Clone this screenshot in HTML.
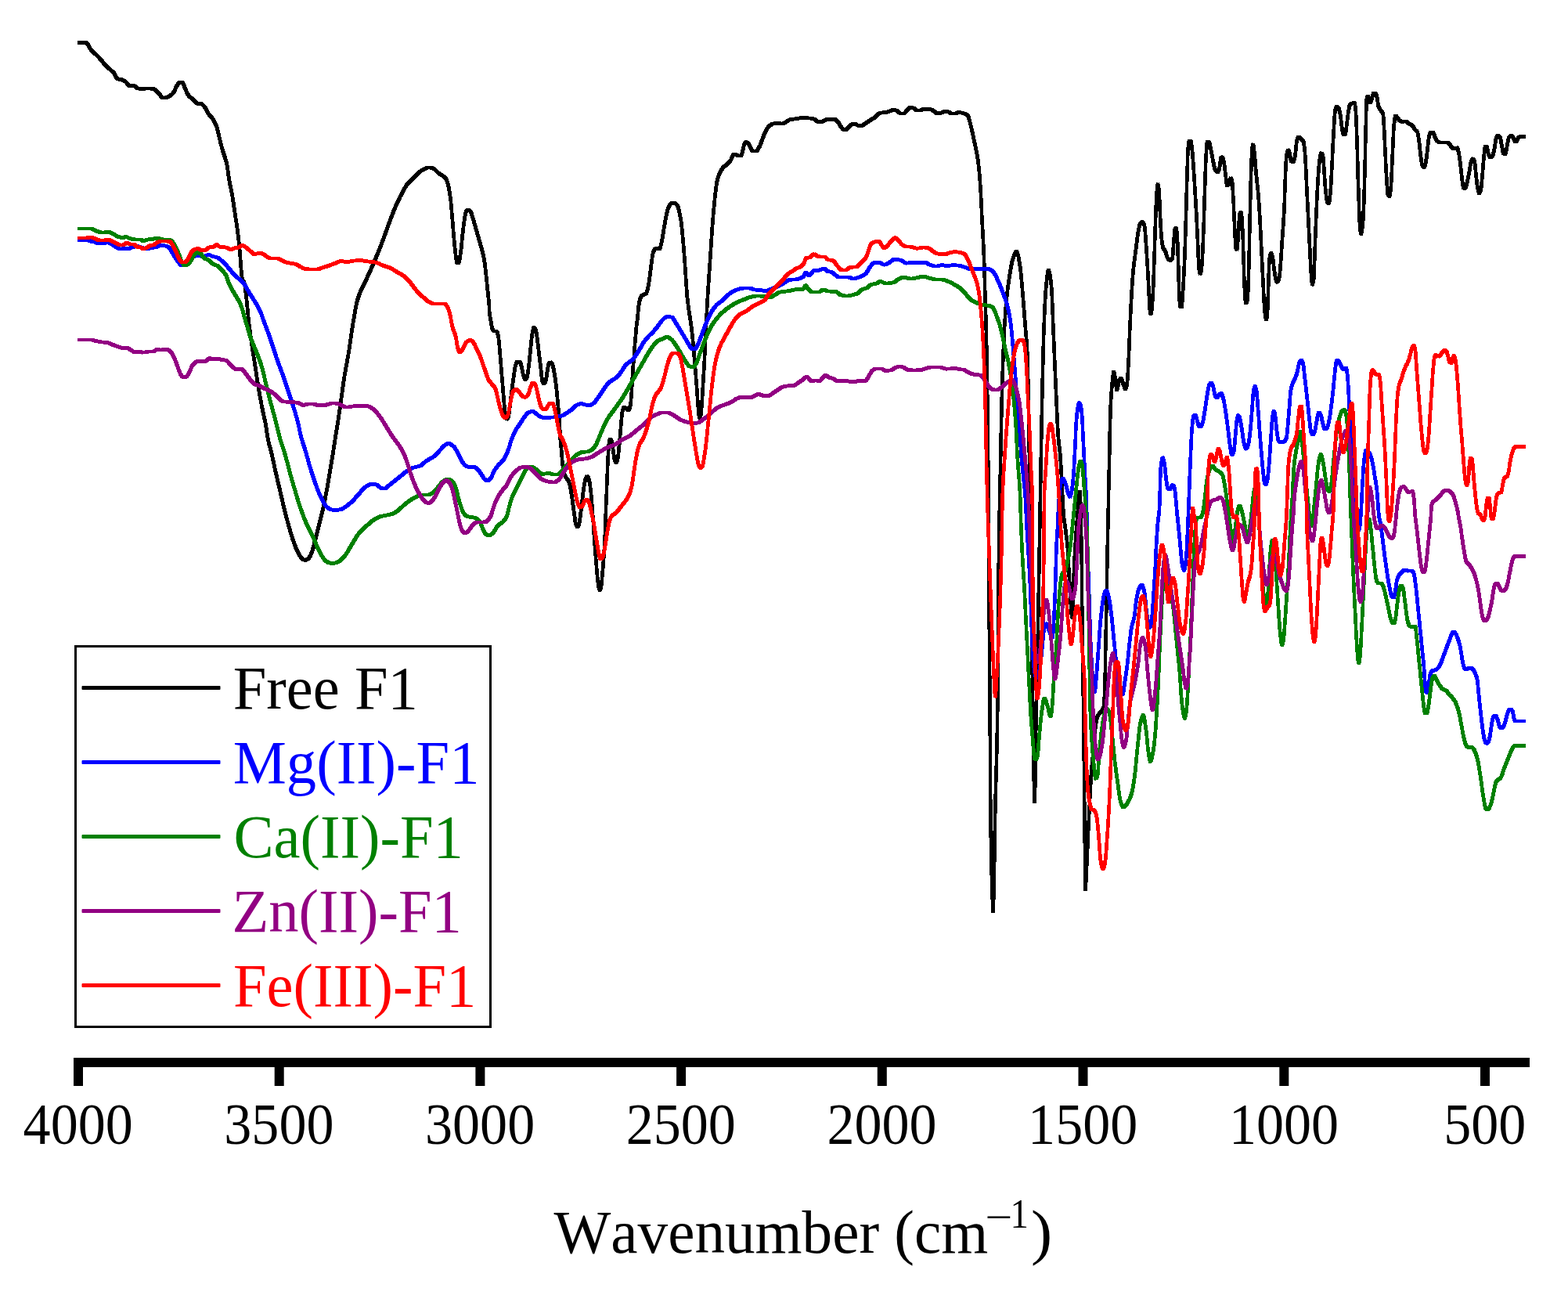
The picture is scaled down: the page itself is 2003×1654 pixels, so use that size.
<!DOCTYPE html>
<html lang="en">
<head>
<meta charset="utf-8">
<title>FTIR spectra</title>
<style>
html,body{margin:0;padding:0;background:#fff;}
body{width:2003px;height:1654px;overflow:hidden;}
svg{display:block;font-family:"Liberation Serif","Times New Roman",serif;font-kerning:none;font-variant-ligatures:none;}
</style>
</head>
<body>
<svg xmlns="http://www.w3.org/2000/svg" width="2003" height="1654" viewBox="0 0 2003 1654">
<rect width="2003" height="1654" fill="#fff"/>
<g id="curves" transform="scale(1 1.0)">
<defs><polyline id="c-black" points="100.0,54.36 101.0,54.36 102.0,54.36 103.0,54.36 104.0,54.36 105.0,54.36 106.0,54.36 107.0,54.36 108.0,54.36 109.0,54.36 110.0,54.36 110.0,54.36 111.0,54.97 112.0,56.47 113.0,58.43 114.0,60.41 115.0,61.96 115.0,61.98 116.0,63.17 117.0,64.27 118.0,65.30 119.0,66.28 120.0,67.22 121.0,68.14 122.0,69.05 123.0,69.98 124.0,70.93 125.0,71.92 125.9,72.93 126.0,72.98 127.0,74.10 128.0,75.28 129.0,76.49 130.0,77.72 131.0,78.94 132.0,80.14 133.0,81.29 133.9,82.32 134.0,82.37 135.0,83.40 136.0,84.37 137.0,85.32 138.0,86.24 139.0,87.16 140.0,88.08 141.0,89.01 141.9,89.91 142.0,89.97 143.0,90.89 144.0,91.78 145.0,92.77 145.9,93.90 146.0,94.00 147.0,96.10 148.0,98.54 148.9,99.90 149.0,99.94 150.0,100.44 151.0,100.80 152.0,101.08 153.0,101.30 154.0,101.49 155.0,101.71 156.0,101.97 156.9,102.29 157.0,102.33 158.0,102.78 159.0,103.32 159.9,103.89 160.0,103.95 161.0,104.90 162.0,106.16 163.0,107.51 164.0,108.73 165.0,109.59 165.9,109.88 166.0,109.88 167.0,109.83 168.0,109.73 169.0,109.61 170.0,109.51 170.9,109.48 171.0,109.48 172.0,109.87 173.0,110.69 174.0,111.66 175.0,112.49 175.9,112.88 176.0,112.90 177.0,113.06 178.0,113.20 179.0,113.32 180.0,113.41 181.0,113.46 181.8,113.47 182.0,113.47 183.0,113.42 184.0,113.30 185.0,113.16 186.0,113.01 187.0,112.91 187.8,112.88 188.0,112.88 189.0,112.89 190.0,112.94 191.0,113.01 192.0,113.10 193.0,113.22 194.0,113.36 195.0,113.52 196.0,113.70 196.8,113.87 197.0,113.91 198.0,114.40 199.0,115.23 200.0,116.28 201.0,117.44 202.0,118.59 202.8,119.47 203.0,119.62 204.0,120.74 205.0,122.01 206.0,123.26 207.0,124.33 208.0,125.05 208.8,125.26 209.0,125.26 210.0,125.18 211.0,124.99 212.0,124.71 213.0,124.35 214.0,123.92 215.0,123.43 216.0,122.90 217.0,122.34 217.8,121.86 218.0,121.76 219.0,121.01 220.0,120.05 221.0,118.91 221.8,117.86 222.0,117.61 223.0,115.78 224.0,113.55 225.0,111.35 225.8,109.88 226.0,109.58 227.0,107.91 228.0,106.34 229.0,105.22 229.8,104.89 230.0,104.89 231.0,104.89 232.0,104.89 232.8,104.89 233.0,104.93 234.0,106.30 235.0,108.91 236.0,111.87 236.8,113.86 237.0,114.31 238.0,116.55 239.0,118.75 240.0,120.68 240.8,121.86 241.0,122.12 242.0,123.21 243.0,124.12 244.0,124.92 245.0,125.66 246.0,126.39 247.0,127.17 247.8,127.85 248.0,128.07 249.0,129.27 250.0,130.59 251.0,131.69 252.0,132.23 252.1,132.25 253.0,132.25 254.0,132.25 255.0,132.25 255.7,132.25 256.0,132.26 257.0,132.53 258.0,133.12 259.0,133.94 260.0,134.93 261.0,136.01 261.7,136.84 262.0,137.12 263.0,138.66 264.0,140.59 265.0,142.66 266.0,144.60 266.7,145.83 267.0,146.18 268.0,147.42 269.0,148.52 270.0,149.60 271.0,150.79 271.7,151.81 272.0,152.21 273.0,153.80 274.0,155.58 275.0,157.59 276.0,159.89 276.7,161.79 277.0,162.59 278.0,166.33 279.0,170.69 279.7,173.78 280.0,174.87 281.0,178.96 282.0,183.05 283.0,187.03 283.7,189.74 284.0,190.74 285.0,194.00 286.0,196.94 287.0,199.86 288.0,203.01 289.0,206.66 289.7,209.75 290.0,211.17 290.5,214.22 291.0,217.72 291.5,221.42 292.0,225.07 292.7,229.69 293.0,231.32 294.0,236.38 295.0,241.04 296.0,245.86 296.7,249.64 297.0,251.42 297.5,254.58 298.0,257.92 298.5,261.37 299.0,264.86 299.7,269.64 300.0,271.62 300.5,274.88 301.0,278.11 301.5,281.38 302.0,284.72 302.7,289.64 303.0,291.83 303.5,295.54 304.0,299.36 304.5,303.32 305.0,307.46 305.3,310.50 305.7,313.56 306.0,316.69 306.3,320.55 306.6,324.95 307.0,329.48 307.3,334.11 307.6,338.85 308.0,343.26 308.5,349.26 309.0,354.00 309.7,357.52 310.0,358.05 311.0,359.05 311.6,359.99 312.0,360.89 313.0,366.43 313.5,370.23 314.0,374.36 314.6,379.99 315.0,382.72 315.5,387.55 316.0,392.81 316.5,398.23 317.0,403.51 317.3,406.79 317.6,409.89 318.0,412.70 318.5,416.78 319.0,420.70 319.5,424.47 320.0,428.14 320.5,431.71 321.0,435.23 321.6,439.90 322.0,442.17 322.5,445.53 323.0,448.82 323.5,452.04 324.0,455.23 324.5,458.40 325.0,461.58 325.6,465.83 326.0,468.05 326.5,471.36 327.0,474.68 327.5,478.00 328.0,481.31 328.5,484.56 329.0,487.75 329.6,491.83 330.0,493.87 331.0,499.76 332.0,505.47 333.0,511.01 334.0,516.37 334.6,519.77 335.0,521.54 336.0,526.29 337.0,530.80 338.0,535.36 339.0,540.27 339.6,543.72 340.0,545.91 340.5,549.31 341.0,552.89 341.5,556.33 342.0,559.36 342.1,560.00 343.0,564.11 344.0,568.12 345.0,571.79 346.0,575.50 346.6,578.12 347.0,579.61 348.0,584.00 349.0,588.52 350.0,593.11 351.0,597.71 352.0,602.24 352.7,605.34 353.0,606.65 354.0,610.96 355.0,615.21 356.0,619.43 357.0,623.64 358.0,627.86 358.7,631.05 359.0,632.12 360.0,636.47 361.0,640.85 362.0,645.21 363.0,649.47 364.0,653.56 364.0,653.68 365.0,657.49 366.0,661.30 367.0,665.02 368.0,668.65 369.0,672.21 369.3,673.33 370.0,675.72 371.0,679.20 372.0,682.59 373.0,685.83 373.8,688.47 374.0,688.88 375.0,691.78 376.0,694.55 377.0,697.18 378.0,699.64 378.4,700.55 379.0,701.93 380.0,704.15 381.0,706.23 382.0,708.11 382.9,709.63 383.0,709.73 384.0,711.20 385.0,712.55 386.0,713.63 386.7,714.15 387.0,714.33 388.0,714.88 389.0,715.27 389.7,715.36 390.0,715.35 391.0,715.15 392.0,714.73 393.0,714.17 393.5,713.85 394.0,713.46 395.0,712.25 396.0,710.61 397.0,708.69 397.2,708.12 398.0,706.41 399.0,703.44 400.0,700.09 400.3,699.03 401.0,696.54 402.0,692.57 403.0,688.40 404.0,684.27 404.1,683.91 405.0,680.27 406.0,676.27 407.0,672.27 408.0,668.27 408.6,665.79 409.0,664.28 410.0,660.39 411.0,656.47 412.0,652.38 412.4,650.67 413.0,648.00 414.0,643.35 415.0,638.49 416.0,633.44 416.1,632.52 417.0,628.21 418.0,622.72 419.0,617.06 419.2,615.91 420.0,611.22 420.5,608.22 421.0,605.19 421.5,602.14 422.0,599.11 422.2,597.79 423.0,593.14 424.0,587.21 424.5,584.21 425.0,581.16 425.2,579.67 426.0,574.82 426.5,571.56 427.0,568.26 427.5,564.97 428.0,561.71 428.2,559.98 429.0,555.38 429.5,552.28 430.0,549.18 430.5,546.08 431.0,542.94 431.5,539.75 432.0,536.50 432.5,533.23 433.0,529.91 433.5,526.57 434.0,523.18 434.5,519.75 435.0,516.23 435.5,512.61 436.0,508.90 436.5,505.16 437.0,501.41 437.5,497.69 438.0,494.03 438.5,490.46 439.0,487.03 439.5,483.82 440.0,480.65 441.0,474.80 442.0,469.28 443.0,463.90 444.0,458.46 445.0,452.76 445.4,449.88 446.0,446.61 446.5,443.34 447.0,439.96 447.5,436.51 448.0,433.02 448.5,429.51 449.0,426.01 449.5,422.56 450.0,419.18 450.5,415.90 451.0,412.76 451.4,409.94 452.0,406.84 453.0,401.02 454.0,395.42 455.0,390.25 456.0,385.76 456.4,383.95 457.0,382.09 458.0,378.90 459.0,376.06 460.0,373.47 461.0,371.06 461.4,369.98 462.0,368.76 463.0,366.69 464.0,364.75 465.0,362.87 466.0,360.92 466.4,360.00 467.0,358.85 468.0,356.73 469.0,354.60 470.0,352.44 471.0,350.27 472.0,348.07 473.0,345.86 474.0,343.62 475.0,341.36 476.0,339.09 477.0,336.79 478.0,334.47 479.0,332.13 480.0,329.77 480.0,329.70 481.0,327.39 482.0,324.96 483.0,322.51 484.0,320.02 485.0,317.51 486.0,314.96 487.0,312.38 488.0,309.78 488.0,309.73 489.0,307.12 490.0,304.41 491.0,301.65 492.0,298.87 493.0,296.07 494.0,293.28 495.0,290.51 496.0,287.78 496.0,287.75 497.0,285.06 498.0,282.33 499.0,279.62 500.0,276.94 501.0,274.32 502.0,271.78 503.0,269.31 504.0,266.90 505.0,264.53 506.0,262.22 507.0,259.97 508.0,257.80 508.0,257.78 509.0,255.65 510.0,253.57 511.0,251.53 512.0,249.56 513.0,247.64 514.0,245.82 514.0,245.79 515.0,243.96 516.0,242.15 517.0,240.38 518.0,238.71 519.0,237.17 519.9,235.84 520.0,235.80 521.0,234.58 522.0,233.44 523.0,232.37 524.0,231.36 525.0,230.40 526.0,229.47 527.0,228.56 528.0,227.66 529.0,226.75 529.9,225.85 530.0,225.81 531.0,224.84 532.0,223.83 533.0,222.80 534.0,221.78 535.0,220.78 536.0,219.82 537.0,218.93 538.0,218.12 539.0,217.42 539.9,216.87 540.0,216.84 541.0,216.31 542.0,215.78 543.0,215.28 544.0,214.82 545.0,214.43 546.0,214.13 547.0,213.94 547.9,213.87 548.0,213.87 549.0,213.94 550.0,214.12 551.0,214.39 552.0,214.72 553.0,215.10 553.9,215.47 554.0,215.51 555.0,216.11 556.0,216.97 557.0,217.99 558.0,219.06 559.0,220.07 559.9,220.86 560.0,220.93 561.0,221.64 562.0,222.28 563.0,222.88 564.0,223.50 565.0,224.17 565.9,224.86 566.0,224.94 567.0,225.73 568.0,226.59 569.0,227.64 569.9,228.86 570.0,229.02 571.0,231.25 572.0,234.42 572.9,237.84 573.0,238.29 574.0,243.44 574.5,246.60 575.0,250.11 575.5,253.84 576.0,258.39 576.5,263.65 577.0,269.40 577.4,274.61 577.9,279.74 578.0,281.12 578.3,285.06 578.6,289.25 579.0,293.35 579.4,298.70 579.9,303.74 580.0,305.05 580.5,310.54 581.0,315.82 581.4,320.07 581.9,323.73 582.0,324.65 582.5,328.69 583.0,332.43 583.8,335.69 584.0,335.69 585.0,335.69 585.8,335.69 586.0,335.64 587.0,332.48 587.5,329.53 588.0,326.06 588.4,322.90 588.8,319.69 589.0,318.71 589.5,314.09 590.0,308.69 590.4,304.00 590.8,299.78 591.0,298.54 591.5,294.23 592.0,290.15 592.4,286.85 592.8,283.77 593.0,282.80 593.5,279.16 594.0,275.71 594.8,271.78 595.0,271.47 596.0,269.49 597.0,268.18 597.8,267.79 598.0,267.80 599.0,268.16 600.0,268.94 600.8,269.79 601.0,269.97 602.0,272.07 603.0,275.11 603.8,277.77 604.0,278.25 605.0,281.54 606.0,285.10 607.0,288.75 607.8,291.76 608.0,292.32 609.0,295.82 610.0,299.32 611.0,302.82 611.8,305.73 612.0,306.32 613.0,309.70 614.0,313.04 615.0,316.55 615.8,319.73 616.0,320.41 617.0,324.54 618.0,329.18 618.8,333.68 619.0,334.81 619.5,338.39 620.0,342.47 620.4,346.04 620.8,349.68 621.0,351.32 621.5,356.15 622.0,361.26 622.4,365.51 622.8,369.68 623.0,371.42 623.5,375.90 624.0,380.40 624.4,384.61 624.8,389.57 625.0,393.07 625.2,397.18 625.3,400.00 626.0,404.61 626.9,409.06 627.0,409.81 627.5,413.21 628.0,416.40 628.4,418.13 629.0,419.90 630.0,422.03 630.6,422.67 631.0,422.79 632.0,422.98 633.0,423.09 634.0,423.28 634.4,423.43 635.0,424.10 636.0,427.12 636.7,430.20 637.0,432.14 637.5,437.07 638.0,442.90 638.2,445.38 638.6,449.83 639.0,454.55 639.3,459.12 639.7,463.51 640.0,466.75 640.3,470.71 640.6,474.79 641.0,478.75 641.2,481.63 641.6,486.19 642.0,490.75 642.3,495.19 642.7,499.75 643.0,502.81 643.3,506.94 643.6,511.16 644.0,515.05 644.2,517.87 644.6,521.82 645.0,525.72 645.7,531.47 646.0,532.36 647.0,535.08 647.2,535.26 648.0,534.79 649.0,532.90 649.5,531.49 650.0,529.55 650.5,526.08 651.0,521.84 651.4,518.22 651.8,514.85 652.0,513.45 652.5,509.47 653.0,505.40 653.5,501.33 654.0,497.38 654.1,496.69 654.5,493.17 655.0,489.75 655.5,486.04 656.0,482.48 656.3,480.11 657.0,475.62 657.5,472.18 658.0,469.16 658.6,466.50 659.0,465.37 660.0,462.87 660.9,461.96 661.0,461.96 662.0,461.96 663.0,461.96 663.9,461.96 664.0,461.98 665.0,463.89 666.0,467.40 666.1,468.02 667.0,471.67 668.0,476.80 668.4,478.58 669.0,480.58 670.0,483.75 670.7,484.63 671.0,484.59 672.0,483.80 673.0,482.36 673.0,482.33 674.0,478.14 674.5,474.85 675.0,471.26 675.2,469.55 675.6,466.61 676.0,463.23 676.5,458.36 677.0,453.33 677.5,448.37 678.0,443.49 678.5,438.22 679.0,433.21 679.4,429.83 679.8,427.19 680.0,425.95 681.0,420.68 682.0,418.14 682.0,418.14 683.0,418.79 684.0,420.50 684.3,421.16 685.0,423.86 685.5,426.94 686.0,430.52 686.5,434.77 687.0,437.99 687.5,442.31 688.0,446.88 688.4,450.80 688.8,454.44 689.0,455.68 689.5,459.68 690.0,463.59 690.5,467.52 691.0,471.59 691.1,472.52 691.5,477.03 692.0,481.76 692.6,486.13 693.0,487.19 694.0,489.26 694.9,489.92 695.0,489.91 696.0,488.82 697.0,486.55 697.1,486.14 698.0,482.11 698.5,478.66 699.0,475.15 699.4,472.57 700.0,469.13 700.9,464.98 701.0,464.88 702.0,463.44 703.0,462.74 703.2,462.72 704.0,463.07 705.0,464.26 705.4,464.99 706.0,466.26 707.0,470.38 707.7,474.07 708.0,475.44 708.5,478.40 709.0,481.73 709.5,485.34 710.0,489.14 710.5,493.25 711.0,497.78 711.5,502.82 712.0,507.85 712.5,513.47 713.0,519.10 713.0,519.43 713.5,524.32 714.0,529.28 714.2,532.40 714.5,536.05 714.7,540.01 715.0,544.77 715.3,551.05 715.5,555.75 715.7,560.05 716.0,563.92 716.5,568.70 717.0,573.01 717.2,575.13 717.6,580.05 718.0,585.29 718.3,589.79 718.7,593.25 719.0,595.30 719.5,598.58 720.0,601.37 721.0,605.35 721.0,605.38 722.0,607.87 723.0,609.71 724.0,611.37 724.0,611.39 725.0,612.79 726.0,614.05 727.0,615.85 727.0,615.92 728.0,619.50 729.0,624.84 729.3,626.51 730.0,630.73 730.5,634.10 731.0,637.61 731.5,641.64 732.0,644.71 732.5,648.39 733.0,652.12 733.4,655.17 733.8,658.22 734.0,659.50 734.5,663.63 735.0,667.28 735.3,668.80 736.0,670.51 737.0,672.26 737.6,672.59 738.0,672.45 739.0,671.00 739.9,668.81 740.0,668.40 740.5,665.43 741.0,661.37 741.4,658.23 742.0,653.54 742.5,649.51 743.0,645.43 743.6,640.07 744.0,637.26 744.5,632.94 745.0,628.67 745.4,625.05 745.9,621.98 746.0,621.51 747.0,615.89 748.0,611.85 748.2,611.39 749.0,609.79 750.0,608.69 750.1,608.66 751.0,609.36 752.0,611.45 752.2,612.14 753.0,615.15 753.5,618.21 754.0,621.74 754.2,623.51 754.6,626.67 755.0,630.39 755.3,634.36 755.7,638.62 756.0,641.55 756.3,645.67 756.6,650.15 757.0,654.65 757.2,658.26 757.6,663.62 758.0,669.25 758.4,675.25 758.7,680.91 759.0,684.23 759.3,688.93 759.6,693.70 760.0,698.25 760.2,702.05 760.6,706.90 761.0,711.70 761.4,716.76 761.8,721.69 762.0,724.18 762.5,729.99 763.0,735.38 763.3,738.30 763.6,741.66 764.0,744.99 764.8,750.41 765.0,751.01 766.0,753.26 766.3,753.45 767.0,752.53 767.8,749.66 768.0,748.86 768.5,744.72 769.0,739.20 769.3,735.30 769.6,731.83 770.0,728.07 770.4,722.84 770.8,717.18 771.0,715.25 771.3,710.57 771.6,705.43 772.0,699.94 772.2,696.51 772.3,693.03 772.5,688.39 772.8,683.07 773.0,677.37 773.2,671.59 773.4,665.78 773.6,660.98 773.8,656.21 774.0,651.47 774.2,646.24 774.4,640.77 774.6,635.53 774.8,631.03 775.0,626.53 775.2,621.28 775.4,615.79 775.6,610.53 775.8,605.28 776.0,601.37 776.1,596.80 776.3,592.71 776.5,588.97 776.7,584.12 777.0,579.44 777.3,573.85 777.6,569.22 778.0,566.33 778.0,566.27 779.0,561.75 779.5,560.96 780.0,561.16 781.0,562.73 781.8,564.73 782.0,565.54 782.5,568.85 783.0,572.98 783.3,575.29 784.0,580.84 784.8,585.88 785.0,586.48 786.0,589.19 787.0,590.42 787.0,590.43 788.0,589.20 789.0,585.83 789.3,584.38 790.0,579.66 790.4,575.26 790.8,570.78 791.0,569.37 791.5,564.05 792.0,558.42 792.3,554.17 792.7,550.31 793.0,546.36 793.4,540.85 793.9,536.05 794.0,534.88 794.5,529.97 795.0,525.86 795.4,523.94 796.0,522.33 797.0,520.53 797.6,520.15 798.0,520.21 799.0,520.86 800.0,521.83 800.6,522.41 801.0,522.66 802.0,523.52 802.9,523.93 803.0,523.93 804.0,522.39 805.0,518.82 805.2,517.87 805.6,515.39 806.0,511.64 806.3,507.32 806.7,502.76 807.0,498.69 807.2,494.12 807.5,489.15 807.7,484.14 808.0,479.45 808.2,475.57 808.6,470.54 809.0,466.09 809.3,461.94 809.7,457.45 810.0,454.28 810.3,449.96 810.6,445.45 811.0,441.13 811.2,437.82 811.6,433.16 812.0,428.51 812.4,423.84 812.7,419.69 813.0,417.46 813.5,413.21 814.0,409.33 814.5,405.26 815.0,400.45 815.0,400.02 815.3,396.52 815.5,393.58 816.0,390.16 817.0,384.43 818.0,380.75 818.5,379.63 819.0,378.91 820.0,377.78 821.0,376.99 821.5,376.63 822.0,376.34 823.0,375.93 824.0,375.57 825.0,375.04 825.5,374.63 826.0,373.87 827.0,370.68 828.0,366.14 828.5,363.64 829.0,360.83 829.5,357.34 830.0,353.53 830.5,349.70 831.0,345.75 831.5,341.55 832.0,337.43 832.5,333.70 833.0,330.11 833.5,326.56 834.0,323.58 834.5,321.71 835.0,320.62 836.0,318.86 837.0,317.85 837.5,317.72 838.0,317.72 839.0,317.72 840.0,317.72 841.0,317.72 842.0,317.72 842.5,317.72 843.0,317.25 844.0,314.27 845.0,309.88 845.5,307.74 846.0,305.21 846.5,302.30 847.0,299.12 847.5,295.84 848.0,292.61 848.5,289.75 849.0,286.77 850.0,281.06 851.0,275.87 851.4,273.80 852.0,271.64 853.0,267.87 854.0,264.84 854.4,263.80 855.0,262.80 856.0,261.11 857.0,260.01 857.4,259.81 858.0,259.71 859.0,259.56 860.0,259.46 861.0,259.41 861.4,259.41 862.0,259.49 863.0,260.01 864.0,260.94 865.0,262.17 865.4,262.80 866.0,263.91 867.0,267.30 868.0,271.71 868.4,273.80 869.0,276.54 869.5,279.38 870.0,282.59 870.4,285.73 871.0,290.50 871.5,295.50 872.0,300.89 872.4,305.72 872.7,308.81 873.0,311.97 873.3,315.81 873.6,319.89 874.0,324.00 874.4,329.72 874.7,333.61 875.0,337.75 875.3,342.83 875.6,348.16 876.0,353.26 876.2,356.56 876.4,359.72 876.7,363.71 877.0,367.72 877.3,372.17 877.6,376.40 877.9,379.97 878.0,380.27 878.5,384.88 879.0,388.89 879.5,392.51 879.9,395.98 880.0,396.19 880.5,399.66 881.0,402.87 881.5,405.99 882.0,409.16 882.5,412.44 882.9,415.98 883.0,416.21 883.5,420.28 884.0,424.64 884.5,429.27 885.0,434.15 885.5,439.89 886.0,444.77 886.3,448.69 886.6,452.88 887.0,457.00 887.2,460.48 887.5,463.89 888.0,469.11 888.5,474.97 889.0,480.92 889.2,484.36 889.5,487.89 890.0,493.78 890.3,498.39 890.6,503.18 891.0,507.74 891.1,509.76 891.4,513.72 891.7,518.05 892.0,522.05 892.5,527.77 893.0,530.56 893.9,533.77 894.0,533.76 895.0,530.79 895.5,527.76 896.0,523.54 896.3,519.34 896.6,514.51 896.9,509.87 897.0,509.01 897.3,504.00 897.6,498.52 898.0,493.00 898.2,488.43 898.5,483.88 898.7,480.05 899.0,476.23 899.3,471.01 899.6,465.48 899.9,459.88 900.0,458.77 900.2,453.98 900.5,449.02 900.7,443.94 901.0,438.78 901.1,435.88 901.3,431.44 901.5,426.65 901.8,421.81 902.0,417.23 902.2,413.18 902.3,409.48 902.5,405.29 902.8,401.14 903.0,397.06 903.3,391.00 903.6,385.19 903.9,379.66 904.0,379.00 904.3,373.68 904.6,368.50 905.0,363.64 905.3,359.01 905.6,354.38 905.9,349.66 906.0,349.06 906.3,344.11 906.6,339.01 907.0,334.06 907.3,329.26 907.6,324.46 907.9,319.66 908.0,319.06 908.3,314.01 908.6,308.73 909.0,303.62 909.3,298.76 909.6,294.08 909.9,289.67 910.0,289.13 910.3,284.84 910.6,280.58 911.0,276.59 911.4,271.13 911.9,265.79 912.0,265.24 912.5,259.83 913.0,254.61 913.4,250.02 913.9,245.79 914.0,245.38 914.5,241.32 915.0,237.53 915.9,231.80 916.0,231.57 917.0,227.47 918.0,224.22 918.9,221.84 919.0,221.70 920.0,219.64 921.0,217.85 922.0,216.29 923.0,214.95 923.9,213.85 924.0,213.77 925.0,212.79 926.0,211.96 927.0,211.23 928.0,210.50 929.0,209.71 929.9,208.85 930.0,208.78 931.0,207.75 932.0,206.62 933.0,205.31 933.9,203.86 934.0,203.71 935.0,200.96 935.9,198.86 936.0,198.78 937.0,197.79 938.0,197.10 938.9,196.87 939.0,196.87 940.0,197.23 941.0,197.94 942.0,198.61 942.9,198.87 943.0,198.87 944.0,198.87 945.0,198.87 946.0,198.87 946.9,198.87 947.0,198.83 948.0,195.86 948.9,191.86 949.0,191.48 950.0,186.94 950.9,183.90 951.0,183.69 952.0,182.09 952.9,181.49 953.0,181.50 954.0,181.73 955.0,182.26 955.9,182.89 956.0,182.99 957.0,184.68 958.0,187.07 958.9,188.88 959.0,189.07 960.0,190.84 961.0,192.34 961.9,192.88 962.0,192.88 963.0,192.88 964.0,192.88 965.0,192.88 965.8,192.88 966.0,192.87 967.0,192.29 968.0,191.02 969.0,189.37 969.8,187.88 970.0,187.65 971.0,185.53 972.0,182.93 973.0,180.17 973.8,177.90 974.0,177.54 975.0,174.90 976.0,172.21 977.0,169.72 977.8,167.92 978.0,167.64 979.0,165.85 980.0,164.25 981.0,162.87 981.8,161.92 982.0,161.77 983.0,160.82 984.0,159.95 985.0,159.20 986.0,158.63 986.8,158.33 987.0,158.29 988.0,158.04 989.0,157.83 990.0,157.66 991.0,157.56 991.8,157.53 992.0,157.53 993.0,157.55 994.0,157.60 995.0,157.67 996.0,157.74 997.0,157.81 998.0,157.88 999.0,157.92 999.8,157.93 1000.0,157.92 1001.0,157.64 1002.0,157.09 1003.0,156.43 1003.8,155.93 1004.0,155.83 1005.0,155.19 1006.0,154.48 1007.0,153.79 1008.0,153.23 1008.8,152.93 1009.0,152.89 1010.0,152.65 1011.0,152.45 1012.0,152.29 1013.0,152.14 1014.0,152.01 1015.0,151.89 1016.0,151.77 1017.0,151.64 1017.8,151.54 1018.0,151.51 1019.0,151.36 1020.0,151.19 1021.0,151.03 1022.0,150.87 1023.0,150.73 1024.0,150.62 1025.0,150.56 1025.8,150.54 1026.0,150.54 1027.0,150.55 1028.0,150.58 1029.0,150.62 1030.0,150.67 1031.0,150.73 1032.0,150.80 1033.0,150.88 1033.7,150.94 1034.0,150.96 1035.0,151.05 1036.0,151.18 1037.0,151.33 1038.0,151.52 1039.0,151.74 1039.7,151.94 1040.0,152.02 1041.0,152.65 1042.0,153.55 1043.0,154.50 1044.0,155.24 1044.7,155.53 1045.0,155.57 1046.0,155.72 1047.0,155.84 1048.0,155.91 1048.7,155.93 1049.0,155.92 1050.0,155.68 1051.0,155.23 1052.0,154.70 1052.7,154.33 1053.0,154.21 1054.0,153.60 1055.0,152.95 1056.0,152.47 1056.7,152.34 1057.0,152.34 1058.0,152.34 1059.0,152.34 1060.0,152.34 1061.0,152.34 1062.0,152.34 1063.0,152.34 1064.0,152.34 1065.0,152.34 1065.7,152.34 1066.0,152.36 1067.0,152.71 1068.0,153.40 1069.0,154.28 1069.7,154.94 1070.0,155.22 1071.0,156.56 1072.0,158.22 1073.0,159.89 1073.7,160.92 1074.0,161.32 1075.0,162.82 1076.0,164.27 1077.0,165.27 1077.7,165.52 1078.0,165.52 1079.0,165.52 1080.0,165.52 1080.7,165.52 1081.0,165.48 1082.0,164.87 1083.0,163.80 1084.0,162.62 1084.7,161.92 1085.0,161.64 1086.0,160.59 1087.0,159.54 1088.0,158.76 1088.7,158.53 1089.0,158.49 1090.0,158.40 1091.0,158.34 1091.7,158.33 1092.0,158.35 1093.0,158.67 1094.0,159.22 1095.0,159.80 1096.0,160.22 1096.7,160.32 1097.0,160.32 1098.0,160.32 1099.0,160.32 1100.0,160.32 1100.6,160.32 1101.0,160.30 1102.0,159.99 1103.0,159.42 1104.0,158.70 1105.0,157.97 1105.6,157.53 1106.0,157.32 1107.0,156.68 1108.0,156.00 1109.0,155.31 1110.0,154.62 1111.0,153.95 1111.6,153.54 1112.0,153.32 1113.0,152.74 1114.0,152.18 1115.0,151.61 1116.0,150.99 1116.6,150.54 1117.0,150.27 1118.0,149.36 1119.0,148.34 1120.0,147.32 1121.0,146.41 1121.6,145.94 1122.0,145.71 1123.0,145.07 1124.0,144.49 1125.0,144.08 1125.6,143.95 1126.0,143.91 1127.0,143.82 1128.0,143.77 1129.0,143.73 1130.0,143.68 1131.0,143.61 1131.6,143.55 1132.0,143.50 1133.0,143.26 1134.0,142.92 1135.0,142.54 1136.0,142.16 1136.6,141.95 1137.0,141.82 1138.0,141.42 1139.0,141.00 1140.0,140.63 1141.0,140.40 1141.6,140.35 1142.0,140.37 1143.0,140.52 1144.0,140.79 1145.0,141.13 1145.6,141.35 1146.0,141.54 1147.0,142.31 1148.0,143.28 1149.0,144.21 1150.0,144.83 1150.6,144.95 1151.0,144.95 1152.0,144.95 1153.0,144.95 1154.0,144.95 1154.6,144.95 1155.0,144.87 1156.0,144.11 1157.0,142.88 1158.0,141.59 1158.5,140.96 1159.0,140.53 1160.0,139.36 1161.0,138.24 1162.0,137.49 1162.5,137.36 1163.0,137.37 1164.0,137.46 1165.0,137.62 1166.0,137.83 1166.5,137.96 1167.0,138.11 1168.0,138.73 1169.0,139.55 1170.0,140.34 1171.0,140.86 1171.5,140.95 1172.0,140.95 1173.0,140.95 1174.0,140.95 1175.0,140.95 1175.5,140.95 1176.0,140.91 1177.0,140.54 1178.0,140.02 1179.0,139.63 1179.5,139.56 1180.0,139.56 1181.0,139.56 1182.0,139.56 1183.0,139.56 1184.0,139.56 1185.0,139.56 1186.0,139.56 1187.0,139.56 1187.5,139.56 1188.0,139.58 1189.0,139.82 1190.0,140.22 1191.0,140.73 1192.0,141.28 1192.5,141.55 1193.0,141.83 1194.0,142.63 1195.0,143.54 1196.0,144.35 1197.0,144.87 1197.5,144.95 1198.0,144.93 1199.0,144.81 1200.0,144.61 1201.0,144.35 1202.0,144.08 1202.5,143.95 1203.0,143.81 1204.0,143.43 1205.0,143.00 1206.0,142.62 1207.0,142.39 1207.5,142.35 1208.0,142.36 1209.0,142.46 1210.0,142.63 1211.0,142.84 1211.5,142.95 1212.0,143.12 1213.0,143.72 1214.0,144.40 1215.0,144.88 1215.5,144.95 1216.0,144.95 1217.0,144.95 1218.0,144.95 1219.0,144.95 1220.0,144.95 1220.5,144.95 1221.0,144.88 1222.0,144.50 1223.0,143.98 1224.0,143.61 1224.5,143.55 1225.0,143.56 1226.0,143.66 1227.0,143.82 1228.0,144.03 1229.0,144.25 1229.5,144.35 1230.0,144.46 1231.0,144.72 1232.0,145.02 1233.0,145.36 1233.4,145.55 1234.0,145.76 1235.0,146.24 1236.0,146.97 1236.0,147.00 1237.0,148.76 1238.0,151.96 1239.0,155.90 1240.0,159.89 1240.0,160.00 1241.0,163.94 1242.0,168.44 1243.0,173.15 1244.0,177.86 1244.0,178.00 1245.0,182.35 1246.0,186.77 1247.0,191.48 1248.0,196.83 1248.0,197.00 1248.5,199.93 1249.0,203.01 1249.5,206.52 1250.0,210.39 1250.5,215.00 1251.0,219.73 1251.3,223.50 1251.6,227.75 1252.0,232.21 1252.2,236.09 1252.5,240.00 1252.7,243.94 1253.0,248.13 1253.2,253.04 1253.5,258.21 1253.7,263.54 1254.0,268.92 1254.2,274.66 1254.5,280.00 1254.7,284.68 1255.0,289.00 1255.2,293.58 1255.5,298.13 1255.7,302.71 1256.0,307.43 1256.2,312.36 1256.5,317.58 1256.7,323.18 1257.0,329.24 1257.0,330.00 1257.2,334.34 1257.3,339.12 1257.5,344.60 1257.7,350.04 1257.8,355.66 1258.0,361.39 1258.1,366.06 1258.2,371.04 1258.4,375.59 1258.5,380.00 1258.7,385.18 1258.8,389.81 1259.0,394.62 1259.1,399.71 1259.3,404.60 1259.5,410.04 1259.6,415.85 1259.8,421.78 1260.0,428.70 1260.0,430.00 1260.1,436.63 1260.3,444.17 1260.4,452.42 1260.5,460.56 1260.7,469.64 1260.8,478.87 1261.0,488.06 1261.0,490.00 1261.1,498.85 1261.3,507.50 1261.4,516.25 1261.5,524.72 1261.7,534.50 1261.8,545.24 1262.0,557.24 1262.0,560.00 1262.1,574.82 1262.3,592.61 1262.4,612.53 1262.5,632.24 1262.7,653.98 1262.8,675.45 1263.0,695.85 1263.0,700.00 1263.1,718.97 1263.3,737.62 1263.4,756.05 1263.5,773.03 1263.7,791.26 1263.8,809.52 1264.0,827.89 1264.0,838.48 1264.1,847.80 1264.2,858.55 1264.3,868.05 1264.3,879.03 1264.4,888.75 1264.5,900.00 1264.6,910.35 1264.6,919.81 1264.7,931.39 1264.8,943.37 1264.8,955.60 1264.9,966.14 1265.0,978.35 1265.0,991.97 1265.1,1003.41 1265.2,1015.70 1265.3,1025.58 1265.3,1035.62 1265.4,1043.12 1265.5,1050.00 1265.6,1055.76 1265.7,1061.25 1265.7,1066.50 1265.8,1070.89 1265.9,1075.69 1266.0,1080.27 1266.1,1087.79 1266.3,1095.20 1266.4,1101.58 1266.5,1107.48 1266.7,1112.98 1266.8,1118.49 1267.0,1123.32 1267.2,1129.20 1267.3,1134.52 1267.5,1140.00 1267.7,1145.07 1267.8,1149.96 1268.0,1154.92 1268.2,1161.49 1268.5,1164.00 1268.7,1161.98 1269.0,1156.98 1269.2,1151.69 1269.3,1146.09 1269.5,1140.00 1269.6,1135.44 1269.7,1129.85 1269.8,1123.98 1270.0,1116.89 1270.1,1107.93 1270.3,1097.79 1270.4,1088.08 1270.5,1078.41 1270.7,1069.02 1270.8,1059.57 1271.0,1051.58 1271.0,1050.00 1271.1,1042.96 1271.3,1036.35 1271.4,1030.11 1271.5,1024.61 1271.7,1018.96 1271.8,1013.55 1272.0,1008.32 1272.1,1002.17 1272.3,996.50 1272.5,990.52 1272.6,984.51 1272.8,978.74 1273.0,972.42 1273.1,967.01 1273.3,960.95 1273.4,955.00 1273.5,948.71 1273.7,942.05 1273.8,934.43 1274.0,926.83 1274.1,921.67 1274.1,916.89 1274.2,911.28 1274.3,906.09 1274.4,900.00 1274.5,893.84 1274.6,886.51 1274.6,878.13 1274.7,867.62 1274.8,857.46 1274.9,846.65 1275.0,835.32 1275.1,814.65 1275.3,791.96 1275.4,771.00 1275.5,750.95 1275.7,732.50 1275.8,715.29 1276.0,702.32 1276.0,700.00 1276.1,690.07 1276.3,681.05 1276.4,672.78 1276.5,665.68 1276.7,658.51 1276.8,651.71 1277.0,645.14 1277.1,640.05 1277.2,635.42 1277.3,630.26 1277.4,625.46 1277.5,620.00 1277.6,615.41 1277.7,610.26 1277.8,605.58 1277.9,600.35 1278.0,595.63 1278.1,588.25 1278.3,580.35 1278.4,573.00 1278.5,565.72 1278.7,558.51 1278.8,550.92 1279.0,543.98 1279.1,537.21 1279.3,530.18 1279.4,523.85 1279.5,517.78 1279.7,512.00 1279.8,506.15 1280.0,501.05 1280.0,500.00 1280.2,494.53 1280.3,489.17 1280.5,483.62 1280.7,478.53 1280.8,473.56 1281.0,468.73 1281.2,462.88 1281.4,457.24 1281.6,451.83 1281.8,446.64 1282.0,441.68 1282.2,435.81 1282.5,430.33 1282.7,425.23 1283.0,420.54 1283.0,420.00 1283.3,414.49 1283.7,409.16 1284.0,404.33 1284.3,399.66 1284.6,395.17 1285.0,391.10 1285.5,385.43 1286.0,380.29 1286.0,380.00 1286.5,375.40 1287.0,371.22 1287.5,367.15 1288.0,363.36 1288.5,359.79 1289.0,356.43 1289.5,353.24 1290.0,350.18 1290.0,350.00 1291.0,344.20 1292.0,338.55 1293.0,333.69 1294.0,330.08 1294.0,330.00 1295.0,327.33 1296.0,324.79 1297.0,322.77 1298.0,321.54 1298.6,321.30 1299.0,321.50 1300.0,323.81 1301.0,328.13 1302.0,333.71 1302.5,336.74 1303.0,339.82 1303.0,340.00 1303.5,343.50 1304.0,347.75 1304.5,352.83 1305.0,358.33 1305.5,364.02 1306.0,369.67 1306.0,370.00 1306.5,375.58 1307.0,381.32 1307.3,385.39 1307.6,389.67 1308.0,393.89 1308.3,398.15 1308.6,402.56 1309.0,406.84 1309.3,411.10 1309.6,415.46 1310.0,419.62 1310.0,420.00 1310.5,425.57 1311.0,430.65 1311.3,434.45 1311.6,439.02 1312.0,444.45 1312.0,445.00 1312.2,448.95 1312.4,453.99 1312.6,459.58 1312.8,466.29 1313.0,473.42 1313.2,483.00 1313.3,487.46 1313.4,492.14 1313.5,497.98 1313.5,503.48 1313.6,509.76 1313.7,515.22 1313.8,521.00 1314.0,531.20 1314.1,539.38 1314.3,547.97 1314.4,555.87 1314.5,563.73 1314.7,571.57 1314.8,580.03 1315.0,588.02 1315.1,593.23 1315.2,598.52 1315.2,603.89 1315.3,608.74 1315.4,614.31 1315.5,620.00 1315.6,625.15 1315.7,630.38 1315.7,635.67 1315.8,640.36 1315.9,645.77 1316.0,651.24 1316.1,660.95 1316.3,671.52 1316.4,681.52 1316.5,691.64 1316.7,701.87 1316.8,712.91 1317.0,723.29 1317.1,733.72 1317.3,744.92 1317.4,755.39 1317.5,765.86 1317.7,776.30 1317.8,787.45 1318.0,797.79 1318.0,800.00 1318.1,810.49 1318.3,821.31 1318.4,832.39 1318.5,842.83 1318.7,854.16 1318.8,865.51 1319.0,876.80 1319.1,887.94 1319.3,899.61 1319.4,910.19 1319.5,920.37 1319.7,930.06 1319.8,939.83 1320.0,948.28 1320.0,950.00 1320.1,958.21 1320.3,966.81 1320.4,975.58 1320.5,983.66 1320.7,992.08 1320.8,999.98 1321.0,1007.15 1321.2,1015.99 1321.4,1021.87 1321.6,1024.00 1321.8,1022.17 1322.0,1016.68 1322.1,1010.68 1322.3,1002.75 1322.4,994.22 1322.5,984.88 1322.7,974.98 1322.8,964.08 1323.0,953.90 1323.1,947.48 1323.2,941.24 1323.2,935.25 1323.3,930.19 1323.4,924.87 1323.5,920.00 1323.6,913.90 1323.7,907.91 1323.8,902.51 1324.0,896.69 1324.1,890.00 1324.3,882.92 1324.4,876.38 1324.5,869.88 1324.7,863.40 1324.8,856.47 1325.0,849.99 1325.1,843.47 1325.3,836.42 1325.4,829.77 1325.5,823.03 1325.7,816.18 1325.8,808.69 1326.0,801.55 1326.0,800.00 1326.1,792.67 1326.3,785.22 1326.4,777.65 1326.5,770.53 1326.7,762.76 1326.8,754.91 1327.0,746.98 1327.1,738.99 1327.3,730.37 1327.4,722.27 1327.5,714.15 1327.7,706.00 1327.8,697.25 1328.0,689.09 1328.1,680.93 1328.3,672.22 1328.4,664.12 1328.5,656.06 1328.7,648.05 1328.8,639.54 1329.0,631.67 1329.0,630.00 1329.1,622.13 1329.3,614.16 1329.4,606.11 1329.5,598.61 1329.7,590.51 1329.8,582.44 1330.0,574.42 1330.1,566.48 1330.3,558.10 1330.4,550.43 1330.5,542.94 1330.7,535.67 1330.8,528.14 1331.0,521.40 1331.0,520.00 1331.1,513.48 1331.3,506.97 1331.4,500.50 1331.5,494.54 1331.7,488.18 1331.8,481.91 1332.0,475.74 1332.1,469.69 1332.3,463.36 1332.4,457.61 1332.5,452.05 1332.7,446.67 1332.8,441.15 1333.0,436.23 1333.2,430.27 1333.3,425.05 1333.5,420.00 1333.7,415.78 1333.8,411.93 1334.0,407.92 1334.2,401.90 1334.5,396.21 1334.7,390.86 1335.0,385.89 1335.3,379.95 1335.6,374.65 1336.0,370.35 1336.0,370.00 1336.5,364.51 1337.0,359.11 1337.5,354.10 1338.0,349.91 1339.0,345.19 1339.2,345.00 1340.0,346.03 1341.0,350.07 1341.5,353.04 1342.0,356.53 1342.5,360.46 1343.0,364.73 1343.0,365.00 1343.3,368.83 1343.7,374.58 1344.0,381.48 1344.2,386.28 1344.4,391.33 1344.6,396.54 1344.8,401.81 1345.0,407.05 1345.2,411.64 1345.3,415.82 1345.5,420.00 1345.7,425.41 1346.0,430.67 1346.2,436.43 1346.5,442.24 1346.7,448.08 1347.0,453.93 1347.2,459.78 1347.5,465.61 1347.7,471.41 1348.0,477.16 1348.2,482.84 1348.5,488.45 1348.7,493.96 1349.0,499.36 1349.0,500.00 1349.2,505.20 1349.5,510.54 1349.7,516.18 1350.0,521.62 1350.2,527.23 1350.5,532.74 1350.7,538.06 1351.0,543.14 1351.3,549.35 1351.6,555.01 1352.0,559.63 1352.0,560.00 1352.5,565.08 1353.0,569.15 1353.5,573.02 1354.0,577.49 1354.2,580.00 1354.6,585.01 1355.0,591.07 1355.3,596.28 1355.6,601.80 1355.8,605.02 1356.0,608.63 1356.2,613.59 1356.5,618.66 1356.7,623.66 1357.0,628.45 1357.1,630.80 1357.4,636.00 1357.7,641.25 1358.0,646.38 1358.3,651.50 1358.6,656.05 1358.9,659.80 1359.0,660.53 1359.5,665.15 1360.0,668.98 1360.5,672.37 1361.0,675.62 1361.8,681.60 1362.0,682.96 1362.5,686.80 1363.0,690.77 1363.4,695.01 1363.9,700.00 1364.0,700.88 1364.2,704.61 1364.5,709.09 1364.7,714.10 1365.0,719.43 1365.2,724.85 1365.5,730.15 1365.7,735.11 1366.0,739.52 1366.0,740.00 1366.3,745.26 1366.7,750.97 1367.0,756.65 1367.3,762.47 1367.6,768.27 1368.0,773.53 1368.3,778.27 1368.6,782.43 1369.0,785.59 1369.7,788.70 1370.0,786.56 1370.1,783.32 1370.3,779.23 1370.5,774.06 1370.6,768.29 1370.8,762.56 1371.0,756.43 1371.2,750.19 1371.3,744.82 1371.5,740.00 1371.7,734.36 1372.0,729.05 1372.2,723.43 1372.5,718.00 1372.7,712.79 1373.0,707.83 1373.2,703.89 1373.4,700.00 1373.7,695.38 1374.0,690.90 1374.3,686.11 1374.6,681.42 1375.0,677.01 1375.2,673.44 1375.5,670.00 1375.7,666.79 1376.0,663.70 1376.3,659.30 1376.6,654.91 1377.0,650.86 1377.5,645.00 1378.0,639.84 1378.5,634.28 1379.0,629.90 1379.5,628.00 1379.7,629.86 1380.0,634.43 1380.2,639.28 1380.3,644.42 1380.5,650.00 1380.6,653.98 1380.7,658.57 1380.8,663.30 1381.0,668.98 1381.1,673.59 1381.2,678.49 1381.2,683.65 1381.3,688.47 1381.4,694.11 1381.5,700.00 1381.6,705.05 1381.6,709.96 1381.7,716.25 1381.8,723.05 1381.8,730.28 1381.9,736.74 1382.0,744.47 1382.0,753.46 1382.1,761.35 1382.2,770.25 1382.3,777.82 1382.3,786.10 1382.4,792.89 1382.5,800.00 1382.6,806.58 1382.7,812.88 1382.7,818.94 1382.8,824.07 1382.9,829.75 1383.0,835.27 1383.1,844.63 1383.3,854.36 1383.4,863.33 1383.5,872.35 1383.7,881.57 1383.8,891.83 1384.0,901.92 1384.2,920.00 1384.3,929.54 1384.4,939.72 1384.5,950.45 1384.6,961.59 1384.8,973.03 1384.9,984.66 1385.0,996.35 1385.0,1004.84 1385.1,1012.21 1385.2,1020.53 1385.3,1027.68 1385.3,1035.68 1385.4,1042.48 1385.5,1050.00 1385.6,1056.78 1385.6,1063.03 1385.7,1070.71 1385.8,1078.63 1385.8,1086.64 1385.9,1093.46 1386.0,1101.20 1386.1,1110.56 1386.2,1118.96 1386.2,1126.02 1386.3,1130.91 1386.4,1134.52 1386.5,1135.80 1387.0,1131.70 1387.2,1127.08 1387.5,1121.58 1387.7,1115.87 1388.0,1110.58 1388.0,1110.00 1388.2,1105.33 1388.5,1100.44 1388.7,1095.14 1389.0,1089.89 1389.2,1084.30 1389.5,1078.61 1389.7,1072.88 1390.0,1067.13 1390.2,1061.41 1390.5,1055.76 1390.7,1050.22 1391.0,1044.82 1391.2,1040.43 1391.4,1036.00 1391.7,1030.45 1392.0,1024.70 1392.2,1019.77 1392.5,1014.89 1392.7,1010.12 1393.0,1005.47 1393.3,999.60 1393.6,993.92 1394.0,988.86 1394.1,987.00 1394.5,981.30 1395.0,976.36 1395.5,970.94 1396.0,965.35 1396.0,965.00 1396.3,961.08 1396.7,956.80 1397.0,952.55 1397.3,948.21 1397.6,943.93 1398.0,940.11 1398.5,935.00 1399.0,931.23 1399.5,927.42 1400.0,923.92 1401.0,918.28 1401.7,915.70 1402.0,915.07 1403.0,913.23 1404.0,911.89 1405.0,910.69 1405.7,909.70 1406.0,909.32 1407.0,908.23 1408.0,907.18 1409.0,905.57 1409.7,903.70 1410.0,902.25 1410.3,898.90 1410.6,893.82 1411.0,887.50 1411.1,883.77 1411.3,880.00 1411.4,876.60 1411.5,871.97 1411.6,865.89 1411.8,859.71 1411.9,853.29 1412.0,846.95 1412.1,840.00 1412.2,834.04 1412.3,827.63 1412.5,821.76 1412.6,815.39 1412.7,809.50 1412.8,803.07 1413.0,797.06 1413.1,791.48 1413.2,785.79 1413.3,780.00 1413.4,774.58 1413.5,769.56 1413.6,763.85 1413.7,758.61 1413.8,752.72 1413.9,747.36 1414.0,741.40 1414.1,735.44 1414.2,728.93 1414.3,723.08 1414.4,716.77 1414.5,711.17 1414.6,705.21 1414.7,700.00 1415.0,686.81 1415.1,680.32 1415.3,673.55 1415.4,667.32 1415.5,661.11 1415.7,654.85 1415.8,648.01 1416.0,641.44 1416.0,640.00 1416.1,634.60 1416.2,628.54 1416.3,622.90 1416.5,616.73 1416.6,611.15 1416.7,605.22 1416.8,600.00 1417.0,591.98 1417.1,585.20 1417.3,577.86 1417.4,570.99 1417.5,564.20 1417.7,557.54 1417.8,550.65 1418.0,544.51 1418.1,538.34 1418.3,533.03 1418.4,527.91 1418.5,523.74 1418.7,520.00 1419.0,514.34 1419.3,508.25 1419.6,502.83 1420.0,498.26 1420.3,493.81 1420.7,490.00 1421.0,487.23 1421.5,482.13 1422.0,477.84 1422.7,475.00 1423.0,475.28 1424.0,479.67 1424.7,484.00 1425.0,485.80 1425.5,490.22 1426.0,494.69 1426.7,498.00 1427.0,497.77 1428.0,494.03 1429.0,488.67 1429.7,486.00 1430.0,485.42 1431.0,483.55 1431.7,483.00 1432.0,483.11 1433.0,484.98 1434.0,487.98 1434.7,490.00 1435.0,490.68 1436.0,493.69 1437.0,496.27 1437.7,497.00 1438.0,496.83 1439.0,493.79 1439.7,490.00 1440.0,487.96 1440.3,484.26 1440.6,479.33 1441.0,473.75 1441.2,469.35 1441.5,464.61 1441.7,460.00 1442.0,454.13 1442.2,449.37 1442.3,444.59 1442.5,439.46 1442.7,434.71 1442.9,430.00 1443.0,428.35 1443.2,422.52 1443.5,416.78 1443.7,411.18 1444.0,405.74 1444.1,402.56 1444.3,399.25 1444.5,394.56 1444.7,389.93 1445.0,385.38 1445.3,379.68 1445.6,374.15 1445.9,369.25 1446.0,367.87 1446.3,362.95 1446.6,358.13 1447.0,353.74 1447.4,348.25 1447.9,343.38 1448.0,342.39 1448.5,337.77 1449.0,333.62 1449.5,329.79 1450.0,326.12 1450.4,322.81 1450.9,319.45 1451.0,318.59 1451.5,314.53 1452.0,310.41 1452.5,306.41 1453.0,302.68 1453.5,299.46 1454.0,296.33 1455.0,290.69 1455.8,287.50 1456.0,287.25 1457.0,285.30 1458.0,283.94 1458.8,283.51 1459.0,283.52 1460.0,284.12 1461.0,285.60 1461.8,287.51 1462.0,287.97 1462.5,291.74 1463.0,297.72 1463.4,303.64 1463.8,309.44 1464.0,311.24 1464.3,315.71 1464.6,320.59 1465.0,325.57 1465.2,329.96 1465.5,334.65 1465.8,339.28 1466.0,341.84 1466.2,346.33 1466.5,351.01 1466.7,355.82 1467.0,360.67 1467.2,365.11 1467.4,369.27 1467.7,374.92 1468.0,380.78 1468.2,386.65 1468.5,391.81 1468.8,395.24 1469.0,396.56 1469.8,401.20 1470.0,401.12 1471.0,397.72 1471.4,395.22 1472.0,389.43 1472.2,385.14 1472.5,380.30 1472.8,375.20 1473.0,372.04 1473.2,367.55 1473.4,362.58 1473.6,357.24 1473.8,351.67 1474.0,345.98 1474.2,339.44 1474.3,335.09 1474.5,330.21 1474.7,325.47 1474.8,320.28 1475.0,315.36 1475.1,309.78 1475.3,304.58 1475.5,299.20 1475.6,294.34 1475.8,289.45 1476.0,284.63 1476.2,278.80 1476.4,272.97 1476.6,267.31 1476.8,262.01 1477.0,257.22 1477.2,252.95 1477.4,249.66 1477.7,245.92 1478.0,242.41 1478.5,237.64 1479.0,235.64 1479.0,235.64 1480.0,239.03 1480.6,243.65 1480.8,246.06 1481.0,249.72 1481.2,254.46 1481.4,259.90 1481.6,264.99 1481.8,269.50 1482.0,273.42 1482.2,278.72 1482.5,284.00 1482.7,289.03 1483.0,293.59 1483.4,299.49 1483.7,302.81 1484.0,305.80 1484.5,310.30 1485.0,313.69 1485.4,315.42 1486.0,316.96 1487.0,318.62 1488.0,319.96 1488.8,321.40 1489.0,321.93 1490.0,325.35 1491.0,328.63 1491.4,329.39 1492.0,330.23 1493.0,331.40 1494.0,332.18 1494.8,332.38 1495.0,332.37 1496.0,331.89 1497.0,330.74 1497.7,329.39 1498.0,328.26 1498.3,324.79 1498.6,319.81 1499.0,314.57 1499.3,309.39 1499.7,305.13 1500.0,300.70 1500.3,296.02 1500.7,293.49 1501.0,292.92 1502.0,291.52 1502.1,291.49 1503.0,294.00 1503.7,299.43 1504.0,302.93 1504.2,307.12 1504.3,312.22 1504.5,317.88 1504.7,323.72 1504.9,329.36 1505.0,330.83 1505.1,336.31 1505.3,341.98 1505.5,348.25 1505.6,354.48 1505.8,360.06 1506.0,365.38 1506.1,369.34 1506.3,374.48 1506.5,379.63 1506.8,384.55 1507.0,388.30 1507.3,391.22 1508.0,391.79 1509.0,392.20 1509.3,392.22 1510.0,388.48 1510.3,384.48 1510.6,379.53 1511.0,374.38 1511.3,369.34 1511.6,364.03 1512.0,358.24 1512.2,353.45 1512.5,348.35 1512.7,342.94 1513.0,337.26 1513.1,333.24 1513.3,329.36 1513.5,324.98 1513.6,320.25 1513.8,315.52 1514.0,310.26 1514.1,305.45 1514.3,300.19 1514.4,295.17 1514.6,290.11 1514.7,284.71 1514.9,279.67 1515.0,276.96 1515.1,272.07 1515.3,266.65 1515.4,261.48 1515.5,256.26 1515.7,251.05 1515.8,245.52 1516.0,240.48 1516.1,234.93 1516.3,229.68 1516.5,224.07 1516.6,218.21 1516.8,212.31 1517.0,206.59 1517.2,199.29 1517.5,193.46 1517.7,189.73 1518.0,186.94 1518.5,182.80 1519.0,180.27 1519.3,179.79 1520.0,179.92 1521.0,180.52 1521.3,180.79 1522.0,183.69 1522.5,187.83 1523.0,192.74 1523.3,195.72 1523.6,199.49 1524.0,203.91 1524.3,208.53 1524.6,213.62 1525.0,218.76 1525.3,224.28 1525.7,229.72 1526.0,234.36 1526.3,239.57 1526.6,245.06 1527.0,250.52 1527.3,256.12 1527.6,262.03 1528.0,267.93 1528.1,269.56 1528.4,275.15 1528.7,281.16 1529.0,287.14 1529.2,292.23 1529.5,297.36 1529.7,302.53 1530.0,307.71 1530.0,309.36 1530.3,314.55 1530.5,320.37 1530.7,326.38 1531.0,332.14 1531.3,339.23 1531.7,343.35 1532.0,345.28 1533.0,349.11 1533.2,349.34 1534.0,347.69 1534.5,345.00 1535.0,341.48 1535.2,339.37 1535.6,335.31 1536.0,329.07 1536.2,323.94 1536.5,318.27 1536.7,312.25 1537.0,306.05 1537.2,299.59 1537.4,294.63 1537.6,289.42 1537.8,283.85 1538.0,277.69 1538.1,272.03 1538.3,266.33 1538.5,260.36 1538.7,254.87 1538.8,249.62 1539.0,245.35 1539.1,239.98 1539.3,234.84 1539.5,229.39 1539.6,224.05 1539.8,219.21 1540.0,214.37 1540.2,208.51 1540.4,203.66 1540.7,198.56 1541.0,193.55 1541.5,185.76 1542.0,181.87 1542.0,181.78 1543.0,181.06 1544.0,180.79 1544.0,180.79 1545.0,182.61 1546.0,186.87 1546.6,189.76 1547.0,191.39 1548.0,196.80 1549.0,202.53 1549.6,205.71 1550.0,207.47 1551.0,212.39 1552.0,216.37 1552.6,217.68 1553.0,218.10 1554.0,219.02 1555.0,219.58 1555.6,219.68 1556.0,219.47 1557.0,217.30 1558.0,213.74 1558.0,213.70 1558.5,210.10 1559.0,205.26 1559.6,201.73 1560.0,201.38 1561.0,200.83 1561.6,200.73 1562.0,201.15 1563.0,204.79 1563.6,207.69 1564.0,210.20 1564.5,214.29 1565.0,218.81 1565.6,223.67 1566.0,226.95 1566.5,231.24 1567.0,234.82 1567.5,236.64 1568.0,236.60 1569.0,236.27 1570.0,235.64 1570.0,235.62 1571.0,231.31 1571.9,227.66 1572.0,227.66 1573.0,228.81 1573.9,231.66 1574.0,231.78 1574.3,234.46 1574.6,239.24 1575.0,245.07 1575.2,250.37 1575.5,255.53 1575.8,259.64 1576.0,264.15 1576.2,269.61 1576.5,275.24 1576.7,280.85 1577.0,286.26 1577.1,289.52 1577.3,294.00 1577.5,298.87 1577.8,303.75 1578.0,308.25 1578.2,312.98 1578.5,315.45 1579.0,316.94 1579.9,318.42 1580.0,318.40 1580.5,316.23 1581.0,311.38 1581.5,305.40 1581.9,299.42 1582.0,298.78 1582.2,294.69 1582.5,289.65 1582.7,284.35 1583.0,279.47 1583.5,273.54 1584.0,272.74 1585.0,271.69 1585.5,271.54 1586.0,273.65 1586.3,277.21 1586.6,282.05 1587.0,287.33 1587.1,289.46 1587.3,293.81 1587.5,299.47 1587.8,305.72 1588.0,312.76 1588.2,318.63 1588.3,324.04 1588.5,329.43 1588.7,334.20 1588.8,338.95 1589.0,344.15 1589.2,349.99 1589.3,355.90 1589.5,361.03 1589.7,365.71 1589.9,369.20 1590.0,370.51 1590.3,375.84 1590.6,380.82 1591.0,384.62 1591.5,387.24 1592.0,386.99 1593.0,384.98 1593.5,383.23 1594.0,377.81 1594.2,373.84 1594.4,369.13 1594.6,363.88 1594.8,358.29 1595.0,352.53 1595.1,349.37 1595.2,345.32 1595.3,341.06 1595.5,335.96 1595.6,330.45 1595.7,324.63 1595.8,319.06 1596.0,312.91 1596.1,306.73 1596.2,301.08 1596.3,295.10 1596.5,289.38 1596.6,284.13 1596.7,278.71 1596.8,272.72 1597.0,267.14 1597.1,261.11 1597.2,255.17 1597.4,249.39 1597.5,244.27 1597.6,239.03 1597.7,234.17 1597.9,229.77 1598.0,226.57 1598.2,220.11 1598.4,213.73 1598.6,207.65 1598.8,202.09 1599.0,197.26 1599.2,192.56 1599.5,189.76 1600.0,186.70 1600.7,184.77 1601.0,185.27 1601.5,187.80 1602.0,191.64 1602.5,195.73 1603.0,200.83 1603.3,204.91 1603.6,209.40 1604.0,213.78 1604.5,219.72 1605.0,225.01 1605.5,229.76 1606.0,234.36 1606.5,239.07 1607.0,244.15 1607.5,249.62 1607.7,252.90 1608.0,256.41 1608.3,261.14 1608.6,266.32 1609.0,271.60 1609.2,275.40 1609.4,279.47 1609.7,284.11 1610.0,289.25 1610.2,294.24 1610.5,299.37 1610.7,304.59 1611.0,309.83 1611.2,314.59 1611.4,319.46 1611.7,324.70 1612.0,330.17 1612.2,335.26 1612.5,340.34 1612.7,345.37 1613.0,350.35 1613.2,354.86 1613.4,359.27 1613.7,364.58 1614.0,370.16 1614.2,375.35 1614.5,380.40 1614.7,385.13 1615.0,389.36 1615.4,395.24 1616.0,400.32 1616.5,404.41 1617.0,407.24 1617.4,408.18 1618.0,406.91 1618.5,403.90 1619.0,399.65 1619.0,399.18 1619.2,396.33 1619.4,391.80 1619.6,386.07 1619.8,379.63 1620.0,372.97 1620.1,367.88 1620.3,363.49 1620.4,359.40 1620.6,354.55 1620.8,349.72 1621.0,344.65 1621.2,337.78 1621.5,332.40 1621.8,329.39 1622.0,328.53 1623.0,324.55 1623.8,323.41 1624.0,323.47 1625.0,325.91 1625.8,329.39 1626.0,330.25 1626.5,333.85 1627.0,338.35 1627.4,342.08 1627.8,345.32 1628.0,346.58 1628.5,350.20 1629.0,353.60 1629.8,357.32 1630.0,357.74 1631.0,359.69 1631.8,360.31 1632.0,360.26 1633.0,358.59 1634.0,355.09 1634.4,353.31 1635.0,348.56 1635.3,344.54 1635.6,339.83 1636.0,335.03 1636.4,329.41 1636.7,325.27 1637.0,320.90 1637.3,315.90 1637.6,310.64 1638.0,305.51 1638.2,302.44 1638.4,299.41 1638.7,295.11 1639.0,291.05 1639.3,286.63 1639.6,281.84 1640.0,276.68 1640.2,273.38 1640.4,269.56 1640.6,264.96 1640.8,259.10 1641.0,252.92 1641.2,246.50 1641.4,240.50 1641.6,234.64 1641.8,229.59 1642.0,224.72 1642.2,218.90 1642.5,213.30 1642.7,208.23 1643.0,203.98 1643.3,199.75 1644.0,195.93 1645.0,192.11 1645.3,191.76 1646.0,192.30 1647.0,194.68 1647.3,195.74 1648.0,198.82 1649.0,204.80 1649.3,205.72 1650.0,206.16 1651.0,206.61 1651.7,206.72 1652.0,206.63 1653.0,204.77 1654.0,201.21 1654.3,199.75 1655.0,194.76 1655.5,189.29 1656.0,184.22 1656.3,181.77 1657.0,178.54 1658.0,175.10 1658.3,174.80 1659.0,174.95 1660.0,175.61 1661.0,176.50 1661.3,176.79 1662.0,177.34 1663.0,178.19 1664.0,179.33 1665.0,181.05 1665.3,181.77 1666.0,185.40 1666.5,190.08 1667.0,195.81 1667.3,199.75 1667.6,204.78 1668.0,211.11 1668.2,216.35 1668.5,221.86 1668.7,227.49 1669.0,233.04 1669.1,236.26 1669.3,239.55 1669.5,244.15 1669.7,248.75 1670.0,253.35 1670.2,258.35 1670.5,263.35 1670.7,268.35 1671.0,273.35 1671.1,276.35 1671.3,279.55 1671.5,284.17 1671.7,288.81 1672.0,293.46 1672.2,298.51 1672.5,303.55 1672.7,308.55 1673.0,313.50 1673.3,319.36 1673.5,323.93 1673.7,328.87 1674.0,333.61 1674.3,339.54 1674.6,344.90 1674.9,349.35 1675.0,350.67 1675.5,357.40 1676.0,362.33 1676.3,363.30 1677.0,362.15 1678.0,357.27 1678.3,355.32 1678.5,352.41 1678.7,347.69 1679.0,341.27 1679.1,336.10 1679.3,330.95 1679.5,325.38 1679.6,319.89 1679.8,314.97 1680.0,310.20 1680.0,309.42 1680.2,304.52 1680.4,299.33 1680.6,294.40 1680.8,289.26 1681.0,284.45 1681.2,279.25 1681.4,274.23 1681.6,269.43 1681.8,265.41 1682.0,261.18 1682.2,255.68 1682.5,250.32 1682.7,245.16 1683.0,240.26 1683.3,234.64 1683.6,229.64 1684.0,224.04 1684.3,219.43 1684.6,215.03 1685.0,211.23 1685.6,205.66 1686.0,202.95 1687.0,197.03 1687.6,195.72 1688.0,195.80 1689.0,196.76 1690.0,198.70 1690.5,202.71 1691.0,210.30 1691.3,215.25 1691.6,219.67 1692.0,225.16 1692.3,229.91 1692.6,234.74 1693.0,239.14 1693.3,242.58 1693.6,245.55 1694.0,249.15 1694.5,253.31 1695.0,256.62 1695.6,258.55 1696.0,258.90 1697.0,259.46 1697.5,259.55 1698.0,258.67 1698.5,255.71 1699.0,251.36 1699.5,245.57 1700.0,240.13 1700.2,235.97 1700.5,231.32 1700.7,226.34 1701.0,221.19 1701.3,215.24 1701.5,209.73 1701.8,205.44 1702.0,201.16 1702.2,195.91 1702.5,190.60 1702.7,185.34 1703.0,180.23 1703.3,174.64 1703.5,169.74 1703.8,166.03 1704.0,162.39 1704.3,156.71 1704.6,151.26 1705.0,146.74 1705.5,141.87 1706.0,139.93 1707.0,136.82 1707.5,136.28 1708.0,136.34 1709.0,136.92 1709.9,137.87 1710.0,137.93 1711.0,140.89 1712.0,145.94 1712.3,147.82 1713.0,152.75 1713.5,157.34 1714.0,161.60 1714.3,163.81 1715.0,167.43 1716.0,171.44 1716.3,171.78 1717.0,171.78 1718.0,171.78 1718.3,171.78 1719.0,169.65 1719.5,166.19 1720.0,162.21 1720.3,159.83 1721.0,154.45 1721.5,150.10 1722.0,146.03 1722.3,143.84 1723.0,139.52 1724.0,134.55 1724.3,133.89 1725.0,133.17 1726.0,132.45 1727.0,132.02 1727.5,131.89 1728.0,131.78 1729.0,131.59 1730.0,131.50 1730.3,131.49 1731.0,133.99 1731.4,137.56 1731.9,141.84 1732.0,143.12 1732.2,147.14 1732.5,152.44 1732.7,158.71 1733.0,165.62 1733.1,170.24 1733.3,175.19 1733.5,179.82 1733.6,185.05 1733.8,190.86 1734.0,197.08 1734.1,202.77 1734.3,208.16 1734.4,213.91 1734.6,219.51 1734.7,224.50 1734.8,229.50 1735.0,233.30 1735.2,239.54 1735.4,245.64 1735.6,251.54 1735.8,257.21 1736.0,262.58 1736.2,269.51 1736.5,275.37 1736.7,281.30 1737.0,286.69 1737.2,290.95 1737.5,293.48 1738.0,296.30 1738.8,298.45 1739.0,298.36 1740.0,293.42 1740.2,291.46 1740.6,288.25 1741.0,283.79 1741.3,279.56 1741.5,274.75 1741.8,269.44 1742.0,266.74 1742.1,262.67 1742.3,258.33 1742.5,253.26 1742.6,247.80 1742.8,242.37 1743.0,236.39 1743.1,230.99 1743.3,225.16 1743.4,219.70 1743.6,214.78 1743.7,209.08 1743.8,203.05 1744.0,197.24 1744.1,191.78 1744.2,185.83 1744.3,180.37 1744.5,175.00 1744.6,169.79 1744.7,164.40 1744.8,159.72 1745.0,154.06 1745.1,146.62 1745.3,139.30 1745.5,132.89 1745.7,128.17 1745.8,125.92 1746.0,125.38 1747.0,123.14 1747.4,122.91 1748.0,125.18 1748.8,129.90 1749.0,130.04 1750.0,130.70 1750.8,130.89 1751.0,130.80 1752.0,127.39 1752.8,123.90 1753.0,123.41 1754.0,120.21 1754.8,118.92 1755.0,118.93 1756.0,119.05 1757.0,119.35 1757.4,119.52 1758.0,120.41 1759.0,124.03 1759.4,125.91 1760.0,130.13 1760.8,135.89 1761.0,136.39 1762.0,138.40 1763.0,139.72 1763.8,140.87 1764.0,141.17 1765.0,142.39 1766.0,143.82 1766.8,145.85 1767.0,147.04 1767.3,150.85 1767.6,156.38 1768.0,162.35 1768.2,165.88 1768.4,170.89 1768.7,176.31 1769.0,182.32 1769.2,188.23 1769.5,194.25 1769.8,199.68 1770.0,203.89 1770.2,208.92 1770.5,213.88 1770.7,218.68 1771.0,223.25 1771.2,226.50 1771.4,229.67 1771.7,234.47 1772.0,239.48 1772.4,244.75 1772.8,247.57 1773.0,248.16 1774.0,250.08 1774.8,250.57 1775.0,250.38 1776.0,245.77 1776.4,242.81 1776.7,239.63 1777.0,237.09 1777.2,233.20 1777.5,228.39 1777.7,222.95 1778.0,217.12 1778.2,210.95 1778.5,205.18 1778.7,199.66 1779.0,194.80 1779.2,189.10 1779.5,183.22 1779.7,177.41 1780.0,171.92 1780.2,167.01 1780.5,162.78 1780.7,159.83 1781.0,157.64 1781.5,153.41 1782.0,150.06 1782.7,147.85 1783.0,147.90 1784.0,148.87 1784.7,149.84 1785.0,150.14 1786.0,151.63 1787.0,153.11 1787.7,153.83 1788.0,153.99 1789.0,154.58 1790.0,155.05 1791.0,155.35 1791.7,155.43 1792.0,155.42 1793.0,155.28 1794.0,155.07 1795.0,154.88 1795.7,154.83 1796.0,154.86 1797.0,155.38 1798.0,156.31 1799.0,157.28 1799.7,157.82 1800.0,157.98 1801.0,158.45 1802.0,158.87 1803.0,159.35 1803.7,159.81 1804.0,160.08 1805.0,161.41 1806.0,163.13 1807.0,164.84 1807.7,165.80 1808.0,166.13 1809.0,166.94 1810.0,167.82 1810.7,168.79 1811.0,169.64 1812.0,175.08 1812.7,179.78 1813.0,182.24 1813.5,186.84 1814.0,191.77 1814.6,197.70 1815.0,200.28 1815.5,204.27 1816.0,207.79 1816.6,210.69 1817.0,211.37 1818.0,212.99 1819.0,213.67 1819.0,213.67 1820.0,212.23 1821.0,208.70 1821.2,207.70 1822.0,203.51 1822.5,199.76 1823.0,195.72 1823.2,193.72 1823.6,190.31 1824.0,186.50 1824.5,181.34 1825.0,177.14 1825.2,175.79 1826.0,172.54 1827.0,169.45 1827.6,168.79 1828.0,168.79 1829.0,168.79 1830.0,168.79 1830.0,168.79 1831.0,169.91 1832.0,172.34 1832.6,173.77 1833.0,174.56 1834.0,176.85 1835.0,178.91 1835.6,179.77 1836.0,180.14 1837.0,180.99 1838.0,181.58 1838.6,181.76 1839.0,181.81 1840.0,181.94 1841.0,182.04 1842.0,182.11 1843.0,182.15 1843.6,182.15 1844.0,182.15 1845.0,182.15 1846.0,182.15 1847.0,182.15 1848.0,182.15 1849.0,182.15 1849.5,182.15 1850.0,182.25 1851.0,183.14 1852.0,184.56 1853.0,186.04 1853.5,186.74 1854.0,187.25 1855.0,188.56 1856.0,189.55 1856.5,189.73 1857.0,189.71 1858.0,189.53 1859.0,189.25 1860.0,188.97 1861.0,188.77 1861.5,188.74 1862.0,189.28 1863.0,193.11 1863.5,195.71 1864.0,198.22 1864.5,201.61 1865.0,205.43 1865.5,209.71 1866.0,213.69 1866.5,218.50 1867.0,223.25 1867.5,227.62 1868.0,231.20 1868.5,234.98 1869.0,238.02 1869.5,239.61 1870.0,240.00 1871.0,240.52 1871.5,240.60 1872.0,240.15 1873.0,237.34 1873.5,235.60 1874.0,233.87 1875.0,229.36 1876.0,224.23 1876.5,221.64 1877.0,218.92 1877.5,215.78 1878.0,212.57 1879.0,207.22 1879.5,205.69 1880.0,204.73 1881.0,203.23 1881.9,202.70 1882.0,202.72 1883.0,204.48 1883.9,207.70 1884.0,208.24 1884.5,212.59 1885.0,218.46 1885.5,223.61 1886.0,228.35 1886.5,232.80 1887.0,236.72 1887.5,239.61 1888.0,242.17 1889.0,246.01 1889.4,246.58 1890.0,246.33 1891.0,244.71 1891.4,243.59 1892.0,240.77 1892.5,236.18 1893.0,230.68 1893.4,225.66 1893.7,222.71 1894.0,219.47 1894.3,215.29 1894.6,210.91 1895.0,206.80 1895.4,201.67 1896.0,195.69 1896.5,190.58 1897.0,187.82 1897.0,187.74 1898.0,187.02 1899.0,186.74 1899.0,186.74 1900.0,190.24 1901.0,195.59 1901.0,195.71 1902.0,198.47 1903.0,200.46 1903.4,200.71 1904.0,200.67 1905.0,200.42 1906.0,199.96 1906.4,199.71 1907.0,198.71 1908.0,194.75 1909.0,189.83 1909.0,189.74 1909.5,186.92 1910.0,183.45 1910.5,179.92 1911.0,177.09 1911.4,175.78 1912.0,174.84 1913.0,173.70 1913.8,173.38 1914.0,173.39 1915.0,173.95 1916.0,175.16 1916.4,175.77 1917.0,177.77 1918.0,183.55 1918.4,185.77 1919.0,189.31 1920.0,194.84 1920.4,195.72 1921.0,196.12 1922.0,196.57 1923.0,196.72 1923.0,196.71 1924.0,193.30 1925.0,187.73 1925.0,187.64 1926.0,181.83 1927.0,176.69 1927.3,175.77 1928.0,174.94 1929.0,173.94 1930.0,173.42 1930.3,173.38 1931.0,173.59 1932.0,174.54 1932.9,175.78 1933.0,175.83 1934.0,178.21 1935.0,180.53 1935.3,180.76 1936.0,180.76 1937.0,180.76 1937.3,180.76 1938.0,179.59 1939.0,176.29 1939.3,175.77 1940.0,175.41 1941.0,174.99 1942.0,174.71 1943.0,174.58 1943.3,174.58 1944.0,174.58 1945.0,174.58 1946.0,174.58 1947.0,174.58 1947.8,174.58"/>
<polyline id="c-blue" points="100.0,306.59 101.0,306.59 102.0,306.59 103.0,306.59 104.0,306.59 105.0,306.59 106.0,306.59 107.0,306.59 108.0,306.59 109.0,306.59 110.0,306.59 111.0,306.59 111.0,306.59 112.0,306.72 113.0,307.04 114.0,307.45 115.0,307.87 116.0,308.18 116.0,308.19 117.0,308.41 118.0,308.60 119.0,308.77 120.0,308.96 120.9,309.18 121.0,309.19 122.0,309.51 123.0,309.93 124.0,310.38 125.0,310.78 126.0,311.07 126.9,311.18 127.0,311.18 128.0,311.15 129.0,311.08 130.0,310.98 131.0,310.86 132.0,310.72 132.9,310.58 133.0,310.57 134.0,310.32 135.0,309.99 136.0,309.70 136.9,309.58 137.0,309.58 138.0,309.69 139.0,309.98 140.0,310.40 141.0,310.92 142.0,311.48 143.0,312.06 143.9,312.57 144.0,312.61 145.0,313.22 146.0,313.94 147.0,314.70 148.0,315.44 149.0,316.09 149.9,316.57 150.0,316.60 151.0,317.04 152.0,317.47 153.0,317.84 154.0,318.08 154.9,318.17 155.0,318.17 156.0,318.02 157.0,317.72 158.0,317.36 159.0,317.07 159.9,316.97 160.0,316.97 161.0,317.08 162.0,317.29 163.0,317.49 163.9,317.57 164.0,317.57 165.0,317.43 166.0,317.11 167.0,316.69 168.0,316.24 169.0,315.84 169.9,315.57 170.0,315.55 171.0,315.32 172.0,315.09 173.0,314.88 174.0,314.72 175.0,314.61 175.9,314.57 176.0,314.58 177.0,314.78 178.0,315.20 179.0,315.66 179.8,315.97 180.0,316.00 181.0,316.27 182.0,316.55 183.0,316.82 184.0,317.06 185.0,317.27 186.0,317.44 187.0,317.54 187.8,317.57 188.0,317.57 189.0,317.51 190.0,317.39 191.0,317.21 192.0,317.00 193.0,316.77 194.0,316.54 195.0,316.32 195.8,316.17 196.0,316.15 197.0,316.01 198.0,315.88 199.0,315.73 199.8,315.57 200.0,315.54 201.0,315.16 202.0,314.63 203.0,314.10 204.0,313.70 204.8,313.57 205.0,313.57 206.0,313.59 207.0,313.61 208.0,313.66 209.0,313.72 210.0,313.80 211.0,313.89 211.8,313.97 212.0,314.00 213.0,314.34 214.0,314.97 215.0,315.80 216.0,316.75 216.8,317.56 217.0,317.75 218.0,319.04 219.0,320.66 220.0,322.43 221.0,324.21 221.8,325.56 222.0,325.84 223.0,327.44 224.0,329.06 225.0,330.66 226.0,332.17 227.0,333.56 227.8,334.55 228.0,334.76 229.0,335.99 230.0,337.20 231.0,338.24 232.0,338.94 232.8,339.14 233.0,339.13 234.0,339.01 235.0,338.75 236.0,338.38 237.0,337.93 237.8,337.54 238.0,337.42 239.0,336.51 240.0,335.21 241.0,333.77 242.0,332.41 242.8,331.54 243.0,331.35 244.0,330.41 245.0,329.49 246.0,328.64 247.0,327.92 248.0,327.40 248.8,327.15 249.0,327.11 250.0,326.92 251.0,326.77 252.0,326.65 253.0,326.57 253.7,326.56 254.0,326.56 255.0,326.66 256.0,326.87 257.0,327.11 258.0,327.35 259.0,327.51 259.7,327.55 260.0,327.55 261.0,327.39 262.0,327.07 263.0,326.66 264.0,326.24 265.0,325.87 266.0,325.62 266.7,325.56 267.0,325.57 268.0,325.80 269.0,326.24 270.0,326.77 271.0,327.27 271.7,327.55 272.0,327.63 273.0,327.87 274.0,328.07 275.0,328.26 276.0,328.46 277.0,328.72 277.7,328.95 278.0,329.06 279.0,329.58 280.0,330.28 281.0,331.10 282.0,331.99 283.0,332.90 283.7,333.54 284.0,333.79 285.0,334.70 286.0,335.65 287.0,336.66 288.0,337.69 289.0,338.76 289.7,339.54 290.0,339.85 291.0,341.00 292.0,342.21 293.0,343.44 294.0,344.67 294.7,345.53 295.0,345.88 296.0,347.12 297.0,348.38 298.0,349.61 299.0,350.77 299.7,351.52 300.0,351.82 301.0,352.75 302.0,353.59 303.0,354.37 304.0,355.13 305.0,355.87 306.0,356.63 307.0,357.43 308.0,358.30 309.0,359.27 309.7,360.00 310.0,360.36 311.0,361.61 312.0,363.02 313.0,364.55 314.0,366.19 315.0,367.89 316.0,369.64 317.0,371.40 318.0,373.15 319.0,374.86 319.6,375.98 320.0,376.51 321.0,378.10 322.0,379.65 323.0,381.17 324.0,382.69 325.0,384.22 326.0,385.78 327.0,387.39 328.0,389.06 329.0,390.80 330.0,392.65 331.0,394.60 331.6,395.94 332.0,396.70 333.0,399.08 334.0,401.72 335.0,404.51 336.0,407.36 337.0,410.17 337.6,411.91 338.0,412.87 339.0,415.50 340.0,418.12 341.0,420.74 342.0,423.40 343.0,426.13 343.6,427.89 344.0,428.94 345.0,431.85 346.0,434.84 347.0,437.88 348.0,440.94 349.0,443.98 349.6,445.88 350.0,447.00 351.0,450.04 352.0,453.09 353.0,456.14 354.0,459.15 355.0,462.08 355.6,463.85 356.0,464.92 357.0,467.62 358.0,470.25 359.0,472.84 360.0,475.45 361.0,478.13 361.6,479.83 362.0,480.94 363.0,483.85 364.0,486.85 365.0,489.88 366.0,492.94 367.0,495.99 367.6,497.80 368.0,498.99 369.0,501.96 370.0,504.91 371.0,507.87 372.0,510.86 373.0,513.92 373.6,515.77 374.0,517.06 375.0,520.21 376.0,523.40 377.0,526.66 378.0,530.04 379.0,533.59 379.6,535.73 380.0,537.37 381.0,541.62 382.0,546.17 383.0,550.79 384.0,555.24 385.0,559.28 385.2,559.99 386.0,562.79 387.0,565.96 388.0,568.95 389.0,571.92 390.0,575.03 390.4,576.61 391.0,578.42 392.0,582.09 393.0,585.89 394.0,589.64 395.0,593.19 395.0,593.26 396.0,596.52 397.0,599.74 398.0,602.87 399.0,605.94 400.0,608.95 400.3,609.88 401.0,611.95 402.0,614.94 403.0,617.88 404.0,620.73 405.0,623.45 405.6,625.00 406.0,626.00 407.0,628.47 408.0,630.87 409.0,633.16 410.0,635.34 411.0,637.37 411.6,638.59 412.0,639.25 413.0,641.08 414.0,642.84 415.0,644.45 416.0,645.85 416.9,646.90 417.0,646.97 418.0,647.93 419.0,648.83 420.0,649.61 421.0,650.23 422.0,650.63 422.2,650.68 423.0,650.84 424.0,651.03 425.0,651.19 426.0,651.31 427.0,651.40 428.0,651.43 428.2,651.44 429.0,651.42 430.0,651.37 431.0,651.29 432.0,651.17 433.0,651.03 434.0,650.87 435.0,650.69 435.0,650.68 436.0,650.43 437.0,650.01 438.0,649.47 439.0,648.85 440.0,648.17 441.0,647.48 441.8,646.90 442.0,646.81 443.0,646.13 444.0,645.41 445.0,644.65 446.0,643.85 447.0,643.01 448.0,642.15 449.0,641.25 449.4,640.86 450.0,640.31 451.0,639.30 452.0,638.23 453.0,637.11 454.0,635.96 455.0,634.80 456.0,633.65 456.9,632.55 457.0,632.52 458.0,631.39 459.0,630.22 460.0,629.05 461.0,627.90 462.0,626.80 463.0,625.77 463.0,625.74 464.0,624.77 465.0,623.77 466.0,622.80 467.0,621.90 468.0,621.12 469.0,620.49 469.0,620.45 470.0,619.96 471.0,619.44 472.0,618.96 473.0,618.57 474.0,618.30 475.0,618.19 475.1,618.19 476.0,618.22 477.0,618.32 478.0,618.48 479.0,618.68 480.0,618.93 481.0,619.20 481.1,619.24 482.0,619.61 483.0,620.33 484.0,621.20 485.0,622.11 486.0,622.89 487.0,623.41 487.2,623.48 488.0,623.68 489.0,623.91 490.0,624.09 491.0,624.20 491.7,624.23 492.0,624.21 493.0,623.73 494.0,622.82 495.0,621.72 496.0,620.69 496.2,620.45 497.0,619.86 498.0,619.06 499.0,618.25 500.0,617.46 501.0,616.66 502.0,615.87 503.0,615.07 503.8,614.41 504.0,614.27 505.0,613.47 506.0,612.67 507.0,611.87 508.0,611.07 509.0,610.27 510.0,609.47 511.0,608.67 511.4,608.36 512.0,607.87 513.0,607.04 514.0,606.21 515.0,605.37 516.0,604.55 517.0,603.75 518.0,602.99 518.9,602.31 519.0,602.28 520.0,601.59 521.0,600.91 522.0,600.24 523.0,599.60 524.0,599.01 525.0,598.47 526.0,597.99 526.5,597.78 527.0,597.60 528.0,597.26 529.0,596.98 530.0,596.73 531.0,596.50 532.0,596.28 533.0,596.05 534.0,595.80 535.0,595.52 536.0,595.19 537.0,594.80 537.0,594.76 538.0,594.27 539.0,593.57 540.0,592.75 541.0,591.84 542.0,590.91 543.0,590.01 544.0,589.18 544.6,588.71 545.0,588.48 546.0,587.86 547.0,587.29 548.0,586.75 549.0,586.23 550.0,585.71 551.0,585.16 552.0,584.58 553.0,583.93 553.7,583.42 554.0,583.20 555.0,582.36 556.0,581.42 557.0,580.40 558.0,579.34 559.0,578.25 560.0,577.18 561.0,576.13 561.2,575.87 562.0,575.11 563.0,574.00 564.0,572.87 565.0,571.74 566.0,570.67 567.0,569.70 568.0,568.86 568.8,568.31 569.0,568.21 570.0,567.60 571.0,567.04 572.0,566.60 573.0,566.37 573.3,566.35 574.0,566.44 575.0,566.90 576.0,567.60 577.0,568.40 577.9,569.07 578.0,569.15 579.0,569.86 580.0,570.75 580.0,570.78 581.0,571.99 582.0,573.59 583.0,575.41 584.0,577.29 584.5,578.33 585.0,579.16 586.0,581.22 587.0,583.38 588.0,585.45 589.0,587.25 589.1,587.41 590.0,588.82 591.0,590.36 592.0,591.81 593.0,593.09 594.0,594.14 595.0,594.88 595.1,594.96 596.0,595.39 597.0,595.85 598.0,596.21 599.0,596.43 599.6,596.47 600.0,596.47 601.0,596.47 602.0,596.47 603.0,596.47 604.0,596.47 605.0,596.47 605.7,596.47 606.0,596.49 607.0,596.83 608.0,597.49 609.0,598.34 610.0,599.26 610.2,599.50 611.0,600.25 612.0,601.49 613.0,602.91 614.0,604.39 614.8,605.54 615.0,605.85 616.0,607.51 617.0,609.29 618.0,610.91 619.0,612.10 619.3,612.34 620.0,612.75 621.0,613.29 622.0,613.68 623.0,613.85 623.1,613.85 624.0,613.61 625.0,612.89 626.0,611.85 626.9,610.83 627.0,610.68 628.0,608.83 629.0,606.36 630.0,603.87 630.6,602.52 631.0,601.93 632.0,600.30 633.0,598.79 634.0,597.40 635.0,596.11 635.9,594.96 636.0,594.90 637.0,593.83 638.0,592.88 639.0,591.95 640.0,590.96 640.5,590.43 641.0,589.83 642.0,588.66 643.0,587.39 644.0,585.99 645.0,584.41 645.0,584.38 646.0,582.54 647.0,580.34 648.0,577.90 649.0,575.29 649.5,573.81 650.0,572.51 651.0,569.26 652.0,565.83 653.0,562.64 653.3,561.71 654.0,559.94 655.0,557.41 656.0,555.03 657.0,552.82 658.0,550.79 658.6,549.62 659.0,548.94 660.0,547.29 661.0,545.77 662.0,544.34 663.0,542.94 664.0,541.53 664.6,540.56 665.0,540.04 666.0,538.48 667.0,536.88 668.0,535.29 669.0,533.78 670.0,532.38 670.7,531.49 671.0,531.14 672.0,529.94 673.0,528.80 674.0,527.82 675.0,527.08 675.2,526.95 676.0,526.58 677.0,526.12 678.0,525.74 679.0,525.50 679.8,525.44 680.0,525.45 681.0,525.70 682.0,526.19 683.0,526.83 684.0,527.51 684.3,527.71 685.0,528.20 686.0,529.09 687.0,530.04 688.0,530.92 688.8,531.49 689.0,531.57 690.0,532.13 691.0,532.65 692.0,533.06 693.0,533.28 693.4,533.30 694.0,533.30 695.0,533.30 696.0,533.30 697.0,533.30 698.0,533.30 699.0,533.30 700.0,533.30 700.9,533.30 701.0,533.30 702.0,533.28 703.0,533.23 704.0,533.16 705.0,533.07 706.0,532.97 707.0,532.86 708.0,532.75 708.5,532.69 709.0,532.64 710.0,532.52 711.0,532.40 712.0,532.26 713.0,532.10 714.0,531.92 715.0,531.72 716.0,531.50 716.0,531.49 717.0,531.21 718.0,530.82 719.0,530.35 720.0,529.82 721.0,529.26 722.0,528.66 723.0,528.06 723.6,527.70 724.0,527.47 725.0,526.86 726.0,526.20 727.0,525.52 728.0,524.81 729.0,524.07 730.0,523.32 731.0,522.54 731.1,522.42 732.0,521.70 733.0,520.72 734.0,519.69 735.0,518.71 736.0,517.86 737.0,517.22 737.2,517.13 738.0,516.79 739.0,516.39 740.0,516.04 741.0,515.78 742.0,515.64 742.5,515.62 743.0,515.65 744.0,515.87 745.0,516.23 746.0,516.62 747.0,516.96 747.8,517.13 748.0,517.16 749.0,517.28 750.0,517.40 751.0,517.49 752.0,517.56 753.0,517.58 753.0,517.58 754.0,517.46 755.0,517.09 756.0,516.53 757.0,515.85 758.0,515.13 758.3,514.86 759.0,514.34 760.0,513.32 761.0,512.09 762.0,510.72 763.0,509.30 764.0,507.87 764.4,507.31 765.0,506.48 766.0,505.01 767.0,503.47 768.0,501.91 769.0,500.37 770.0,498.89 770.4,498.23 771.0,497.47 772.0,496.03 773.0,494.59 774.0,493.17 775.0,491.81 776.0,490.55 777.0,489.41 778.0,488.43 778.0,488.42 779.0,487.60 780.0,486.88 781.0,486.24 782.0,485.66 783.0,485.09 784.0,484.52 785.0,483.90 786.0,483.22 787.0,482.44 787.0,482.37 788.0,481.53 789.0,480.52 790.0,479.41 791.0,478.24 792.0,477.00 793.0,475.73 793.1,475.56 794.0,474.35 795.0,472.79 796.0,471.13 797.0,469.50 798.0,467.99 799.0,466.69 799.1,466.50 800.0,465.65 801.0,464.74 802.0,463.93 803.0,463.18 804.0,462.47 805.0,461.74 806.0,460.98 807.0,460.14 808.0,459.19 808.2,458.94 809.0,458.10 810.0,456.89 811.0,455.57 812.0,454.16 813.0,452.68 814.0,451.16 815.0,449.61 815.8,448.36 816.0,448.04 817.0,446.35 818.0,444.53 819.0,442.66 820.0,440.82 821.0,439.09 821.8,437.79 822.0,437.55 823.0,436.15 824.0,434.83 825.0,433.58 826.0,432.38 827.0,431.23 827.9,430.22 828.0,430.10 829.0,429.04 830.0,428.04 831.0,427.08 832.0,426.14 833.0,425.19 834.0,424.20 835.0,423.16 835.4,422.67 836.0,422.03 837.0,420.83 838.0,419.57 839.0,418.28 840.0,416.98 840.0,416.94 841.0,415.63 842.0,414.19 843.0,412.73 844.0,411.33 845.0,410.05 846.0,408.98 846.0,408.96 847.0,407.99 848.0,407.00 849.0,406.07 850.0,405.29 851.0,404.76 852.0,404.56 852.0,404.56 853.0,404.57 854.0,404.61 855.0,404.66 856.0,404.74 857.0,404.84 858.0,404.96 859.0,405.53 860.0,406.80 861.0,408.48 862.0,410.30 863.0,411.96 864.0,413.49 865.0,415.07 866.0,416.69 867.0,418.32 868.0,419.94 868.0,419.96 869.0,421.60 870.0,423.26 871.0,424.93 872.0,426.61 873.0,428.29 874.0,429.93 874.0,429.96 875.0,431.65 876.0,433.36 877.0,435.08 878.0,436.76 879.0,438.40 879.9,439.91 880.0,439.96 881.0,441.69 882.0,443.52 883.0,444.95 883.9,445.50 884.0,445.50 885.0,445.50 886.0,445.50 887.0,445.50 887.9,445.50 888.0,445.50 889.0,444.79 890.0,443.12 891.0,440.96 891.9,438.92 892.0,438.82 893.0,436.58 894.0,434.01 895.0,431.26 896.0,428.47 896.9,425.94 897.0,425.79 898.0,423.15 899.0,420.47 900.0,417.82 901.0,415.25 901.9,412.94 902.0,412.80 903.0,410.43 904.0,408.08 905.0,405.81 906.0,403.65 907.0,401.65 907.9,399.97 908.0,399.85 909.0,398.18 910.0,396.59 911.0,395.07 912.0,393.64 913.0,392.30 914.0,391.06 915.0,389.93 915.9,388.98 916.0,388.91 917.0,388.02 918.0,387.24 919.0,386.53 920.0,385.87 921.0,385.21 922.0,384.52 923.0,383.77 923.9,383.00 924.0,382.91 925.0,381.86 926.0,380.70 927.0,379.54 927.9,378.60 928.0,378.53 929.0,377.64 930.0,376.78 931.0,375.96 932.0,375.18 933.0,374.44 934.0,373.76 935.0,373.13 935.9,372.60 936.0,372.56 937.0,372.03 938.0,371.51 939.0,371.02 940.0,370.56 941.0,370.14 942.0,369.77 943.0,369.45 943.9,369.21 944.0,369.19 945.0,368.95 946.0,368.72 947.0,368.52 948.0,368.35 949.0,368.25 949.9,368.21 950.0,368.21 951.0,368.21 952.0,368.21 953.0,368.21 954.0,368.21 955.0,368.21 956.0,368.21 957.0,368.21 957.9,368.21 958.0,368.21 959.0,368.36 960.0,368.67 961.0,369.07 962.0,369.48 963.0,369.83 963.8,370.01 964.0,370.03 965.0,370.13 966.0,370.21 967.0,370.28 968.0,370.34 969.0,370.40 970.0,370.46 971.0,370.53 971.8,370.61 972.0,370.62 973.0,370.76 974.0,370.93 975.0,371.13 976.0,371.31 977.0,371.47 978.0,371.58 978.8,371.61 979.0,371.60 980.0,371.42 981.0,371.02 982.0,370.51 983.0,369.99 983.8,369.61 984.0,369.55 985.0,369.17 986.0,368.81 987.0,368.45 988.0,368.10 989.0,367.73 990.0,367.36 991.0,366.96 991.8,366.62 992.0,366.54 993.0,366.10 994.0,365.64 995.0,365.16 996.0,364.66 997.0,364.14 998.0,363.61 999.0,363.07 999.8,362.62 1000.0,362.52 1001.0,361.88 1002.0,361.15 1003.0,360.37 1004.0,359.61 1005.0,358.90 1006.0,358.30 1007.0,357.85 1007.8,357.63 1008.0,357.60 1009.0,357.45 1010.0,357.33 1011.0,357.24 1012.0,357.16 1013.0,357.10 1014.0,357.03 1015.0,356.95 1016.0,356.86 1017.0,356.75 1017.8,356.63 1018.0,356.60 1019.0,356.41 1020.0,356.17 1021.0,355.89 1022.0,355.55 1023.0,355.14 1024.0,354.67 1025.0,354.12 1025.8,353.64 1026.0,353.45 1027.0,351.79 1028.0,349.66 1029.0,348.19 1029.3,348.04 1030.0,348.24 1031.0,349.15 1032.0,350.36 1033.0,351.35 1033.7,351.64 1034.0,351.61 1035.0,351.01 1036.0,349.83 1037.0,348.39 1038.0,347.00 1039.0,345.98 1039.7,345.65 1040.0,345.62 1041.0,345.53 1042.0,345.47 1043.0,345.42 1044.0,345.38 1045.0,345.32 1045.7,345.25 1046.0,345.22 1047.0,344.99 1048.0,344.65 1049.0,344.25 1050.0,343.86 1051.0,343.53 1052.0,343.31 1052.7,343.25 1053.0,343.27 1054.0,343.73 1055.0,344.57 1056.0,345.52 1057.0,346.32 1057.7,346.64 1058.0,346.70 1059.0,346.86 1060.0,346.97 1061.0,347.10 1061.7,347.24 1062.0,347.32 1063.0,347.80 1064.0,348.52 1065.0,349.37 1066.0,350.27 1067.0,351.12 1067.7,351.64 1068.0,351.83 1069.0,352.61 1070.0,353.37 1071.0,353.90 1071.7,354.03 1072.0,354.03 1073.0,354.03 1074.0,354.03 1075.0,354.03 1076.0,354.03 1077.0,354.03 1078.0,354.03 1079.0,354.03 1080.0,354.03 1081.0,354.03 1082.0,354.03 1083.0,354.03 1083.7,354.03 1084.0,354.05 1085.0,354.28 1086.0,354.69 1087.0,355.19 1088.0,355.65 1089.0,355.96 1089.7,356.03 1090.0,356.03 1091.0,355.95 1092.0,355.79 1093.0,355.56 1094.0,355.28 1095.0,354.96 1096.0,354.62 1097.0,354.27 1097.6,354.04 1098.0,353.92 1099.0,353.54 1100.0,353.13 1101.0,352.66 1102.0,352.14 1103.0,351.55 1104.0,350.90 1105.0,350.17 1105.6,349.64 1106.0,349.33 1107.0,348.11 1108.0,346.55 1109.0,344.82 1110.0,343.09 1111.0,341.52 1111.6,340.66 1112.0,340.23 1113.0,338.90 1114.0,337.59 1115.0,336.50 1116.0,335.80 1116.6,335.66 1117.0,335.66 1118.0,335.66 1119.0,335.66 1120.0,335.66 1121.0,335.66 1122.0,335.66 1123.0,335.66 1123.6,335.66 1124.0,335.69 1125.0,336.00 1126.0,336.56 1127.0,337.20 1128.0,337.79 1129.0,338.18 1129.6,338.26 1130.0,338.24 1131.0,338.03 1132.0,337.65 1133.0,337.14 1134.0,336.57 1135.0,335.99 1135.6,335.66 1136.0,335.45 1137.0,334.76 1138.0,333.95 1139.0,333.11 1140.0,332.33 1141.0,331.71 1142.0,331.34 1142.6,331.27 1143.0,331.27 1144.0,331.31 1145.0,331.39 1146.0,331.51 1147.0,331.66 1148.0,331.84 1149.0,332.05 1150.0,332.27 1151.0,332.52 1151.6,332.67 1152.0,332.80 1153.0,333.38 1154.0,334.16 1155.0,334.99 1156.0,335.72 1157.0,336.18 1157.5,336.26 1158.0,336.25 1159.0,336.18 1160.0,336.04 1161.0,335.87 1162.0,335.68 1163.0,335.51 1164.0,335.36 1165.0,335.28 1165.5,335.26 1166.0,335.26 1167.0,335.26 1168.0,335.26 1169.0,335.26 1170.0,335.26 1171.0,335.26 1172.0,335.26 1173.0,335.26 1174.0,335.26 1175.0,335.26 1176.0,335.26 1177.0,335.26 1178.0,335.26 1179.0,335.26 1180.0,335.26 1181.0,335.26 1181.5,335.26 1182.0,335.30 1183.0,335.59 1184.0,336.09 1185.0,336.70 1186.0,337.32 1187.0,337.85 1187.5,338.06 1188.0,338.21 1189.0,338.56 1190.0,338.90 1191.0,339.23 1192.0,339.52 1193.0,339.76 1194.0,339.94 1195.0,340.04 1195.5,340.05 1196.0,340.04 1197.0,339.93 1198.0,339.74 1199.0,339.49 1200.0,339.23 1201.0,338.99 1202.0,338.79 1203.0,338.67 1203.5,338.66 1204.0,338.68 1205.0,338.81 1206.0,339.03 1207.0,339.28 1208.0,339.50 1209.0,339.64 1209.5,339.66 1210.0,339.64 1211.0,339.56 1212.0,339.42 1213.0,339.25 1214.0,339.06 1215.0,338.89 1216.0,338.75 1217.0,338.67 1217.5,338.66 1218.0,338.66 1219.0,338.69 1220.0,338.73 1221.0,338.80 1222.0,338.88 1223.0,338.98 1224.0,339.08 1225.0,339.20 1225.5,339.26 1226.0,339.33 1227.0,339.53 1228.0,339.79 1229.0,340.10 1230.0,340.44 1231.0,340.80 1232.0,341.16 1233.0,341.50 1233.4,341.65 1234.0,341.84 1235.0,342.25 1236.0,342.69 1237.0,343.10 1238.0,343.44 1239.0,343.63 1239.4,343.65 1240.0,343.65 1241.0,343.65 1242.0,343.65 1243.0,343.65 1244.0,343.65 1245.0,343.65 1246.0,343.65 1247.0,343.65 1248.0,343.65 1249.0,343.65 1249.4,343.65 1250.0,343.65 1251.0,343.65 1252.0,343.64 1253.0,343.62 1254.0,343.60 1255.0,343.57 1256.0,343.53 1257.0,343.48 1258.0,343.42 1259.0,343.35 1260.0,343.25 1260.0,343.25 1260.5,342.80 1261.0,342.82 1262.0,342.99 1263.0,343.31 1264.0,343.75 1265.0,344.29 1266.0,344.88 1266.8,345.40 1267.0,345.51 1268.0,346.38 1269.0,347.54 1270.0,348.89 1270.6,349.80 1271.0,350.38 1272.0,352.22 1273.0,354.34 1274.0,356.56 1274.4,357.50 1275.0,358.75 1276.0,361.00 1277.0,363.33 1278.0,365.74 1278.2,366.30 1279.0,368.22 1280.0,370.79 1281.0,373.44 1282.0,376.14 1282.1,376.50 1283.0,378.89 1284.0,381.71 1285.0,384.69 1285.2,385.40 1286.0,387.80 1287.0,391.10 1287.8,394.30 1288.0,395.04 1289.0,400.16 1289.7,404.40 1290.0,406.01 1290.5,409.09 1291.0,412.40 1291.6,417.10 1292.0,420.29 1292.4,424.87 1292.9,429.80 1293.0,430.59 1293.3,434.65 1293.6,439.15 1294.0,443.48 1294.1,445.10 1294.5,450.20 1295.0,455.28 1295.4,460.30 1295.7,463.64 1296.0,467.12 1296.3,471.10 1296.6,475.24 1297.0,479.33 1297.3,483.50 1297.6,487.91 1298.0,492.29 1298.3,496.73 1298.6,501.34 1299.0,505.81 1299.2,508.90 1299.6,513.98 1300.0,519.19 1300.3,523.61 1300.6,528.15 1301.0,532.56 1301.1,534.30 1301.5,540.05 1302.0,545.94 1302.3,550.35 1302.6,554.89 1303.0,559.30 1303.0,559.70 1303.3,564.04 1303.7,568.61 1304.0,573.04 1304.4,579.33 1304.9,585.00 1305.0,585.81 1305.5,591.30 1306.0,596.42 1306.5,601.33 1307.0,606.18 1307.4,610.40 1308.0,615.69 1308.5,620.13 1309.0,625.00 1309.4,630.00 1309.7,633.99 1310.0,638.86 1310.2,643.53 1310.5,648.53 1310.7,653.76 1311.0,659.10 1311.2,664.45 1311.5,669.69 1311.7,674.73 1312.0,679.46 1312.0,680.00 1312.3,685.55 1312.7,690.94 1313.0,695.93 1313.3,700.94 1313.6,706.05 1314.0,711.07 1314.3,716.24 1314.6,721.83 1315.0,727.62 1315.2,731.53 1315.4,735.65 1315.6,740.00 1315.8,744.06 1316.0,748.78 1316.2,754.11 1316.4,759.72 1316.6,765.49 1316.8,771.31 1317.0,777.08 1317.2,783.50 1317.4,788.86 1317.6,794.51 1317.8,800.60 1318.0,806.34 1318.2,812.45 1318.4,817.85 1318.6,822.86 1318.8,827.00 1319.0,829.88 1319.3,835.16 1319.6,840.11 1320.0,844.41 1320.5,849.83 1321.0,853.81 1321.0,854.00 1322.0,859.70 1323.0,864.17 1324.0,866.00 1324.0,866.00 1325.0,865.13 1326.0,862.71 1327.0,859.22 1328.0,855.13 1328.0,855.00 1328.5,852.44 1329.0,848.90 1329.5,844.60 1330.0,839.88 1330.5,835.01 1331.0,830.27 1331.0,830.00 1331.5,825.09 1332.0,819.42 1332.5,813.66 1333.0,808.66 1333.5,805.00 1334.0,802.79 1335.0,798.78 1336.0,796.69 1336.2,796.60 1337.0,797.23 1338.0,799.43 1339.0,802.32 1340.0,804.94 1340.0,805.00 1341.0,807.37 1342.0,810.07 1343.0,812.43 1344.0,813.84 1344.4,814.00 1345.0,810.87 1345.3,806.75 1345.6,801.30 1346.0,795.30 1346.3,789.42 1346.6,783.50 1346.8,780.13 1347.0,776.25 1347.2,771.84 1347.4,767.13 1347.6,762.14 1347.8,756.91 1348.0,751.47 1348.2,745.00 1348.3,740.36 1348.5,734.76 1348.7,729.13 1348.8,722.94 1349.0,717.16 1349.2,710.56 1349.3,704.95 1349.5,700.00 1349.7,694.69 1350.0,690.30 1350.3,685.02 1350.6,679.89 1350.9,674.30 1351.0,672.91 1351.2,667.59 1351.5,661.97 1351.7,656.37 1352.0,651.13 1352.3,645.30 1352.6,640.22 1353.0,635.49 1353.5,629.01 1354.0,623.74 1354.5,620.00 1355.0,617.75 1356.0,613.75 1357.0,611.46 1357.4,611.20 1358.0,611.45 1359.0,612.90 1360.0,615.14 1361.0,617.63 1361.0,617.70 1362.0,620.82 1363.0,624.76 1363.9,627.90 1364.0,628.09 1365.0,630.98 1366.0,633.45 1366.9,634.40 1367.0,634.39 1368.0,631.97 1369.0,627.34 1369.0,627.20 1369.5,624.49 1370.0,620.92 1370.5,616.30 1371.0,611.19 1371.3,607.16 1371.6,602.76 1371.9,598.10 1372.0,597.01 1372.2,592.88 1372.5,588.41 1372.7,583.68 1373.0,578.75 1373.2,574.50 1373.4,570.00 1373.6,565.78 1373.8,561.11 1374.0,556.24 1374.2,550.24 1374.5,544.69 1374.7,540.60 1375.0,537.04 1375.5,531.27 1376.0,526.57 1376.7,521.60 1377.0,520.17 1378.0,515.66 1378.6,514.60 1379.0,514.75 1380.0,516.41 1380.5,517.80 1381.0,519.97 1381.5,523.88 1382.0,529.09 1382.4,534.30 1382.7,538.88 1383.0,545.16 1383.2,550.16 1383.4,555.12 1383.6,559.70 1383.8,563.31 1384.0,567.05 1384.3,573.06 1384.6,579.01 1384.9,585.00 1385.0,586.37 1385.2,591.35 1385.5,596.38 1385.7,601.35 1386.0,606.18 1386.2,610.40 1386.6,616.46 1387.0,622.25 1387.2,625.73 1387.4,630.00 1387.6,634.46 1387.8,639.64 1388.0,645.41 1388.1,650.92 1388.3,656.30 1388.4,660.99 1388.6,666.56 1388.7,672.09 1388.8,678.30 1389.0,684.19 1389.1,690.07 1389.2,695.41 1389.3,700.99 1389.5,705.85 1389.6,710.70 1389.7,714.87 1389.8,719.22 1390.0,723.09 1390.2,729.31 1390.4,735.28 1390.6,741.08 1390.8,746.80 1391.0,752.51 1391.1,756.54 1391.3,760.92 1391.4,765.10 1391.5,769.40 1391.7,773.81 1391.8,778.62 1392.0,783.16 1392.1,788.68 1392.3,793.82 1392.5,799.18 1392.6,804.37 1392.8,809.05 1393.0,813.73 1393.2,819.50 1393.5,825.42 1393.7,830.79 1394.0,836.06 1394.3,842.32 1394.6,848.33 1395.0,853.76 1395.1,855.80 1395.4,860.41 1395.7,865.07 1396.0,869.52 1396.4,875.64 1396.9,879.40 1397.0,879.75 1398.0,883.57 1398.3,883.90 1399.0,881.17 1399.5,876.54 1400.0,870.87 1400.5,864.90 1401.0,859.54 1401.3,855.33 1401.6,850.72 1402.0,846.05 1402.3,841.30 1402.6,836.41 1403.0,831.75 1403.2,828.60 1403.6,823.35 1404.0,817.77 1404.3,813.00 1404.6,808.14 1405.0,803.58 1405.4,797.51 1405.9,792.30 1406.0,791.58 1406.5,786.57 1407.0,781.88 1407.5,777.55 1408.0,773.62 1408.7,768.70 1409.0,767.06 1410.0,761.20 1411.0,756.93 1411.4,756.00 1412.0,755.27 1413.0,754.38 1413.6,754.20 1414.0,754.43 1415.0,756.95 1416.0,761.20 1416.8,765.10 1417.0,765.91 1418.0,771.79 1418.5,775.29 1419.0,779.05 1419.5,783.20 1420.0,787.17 1420.5,791.84 1421.0,796.81 1421.5,801.95 1422.0,807.08 1422.3,810.40 1422.6,813.79 1423.0,817.10 1423.5,822.16 1424.0,827.24 1424.5,832.33 1425.0,837.40 1425.0,837.70 1425.5,842.74 1426.0,848.12 1426.5,853.57 1427.0,858.67 1427.3,862.05 1427.7,864.90 1428.0,866.82 1428.5,870.25 1429.0,873.41 1430.0,878.49 1430.4,880.00 1431.0,881.66 1432.0,884.31 1433.0,886.23 1434.0,887.00 1434.0,887.00 1435.0,884.14 1435.5,881.04 1436.0,877.40 1436.5,873.64 1437.0,870.19 1437.0,870.00 1437.5,866.99 1438.0,863.85 1438.5,860.53 1439.0,857.04 1439.4,853.59 1439.9,850.00 1440.0,849.43 1440.5,844.99 1441.0,840.10 1441.5,834.99 1442.0,829.89 1442.3,826.28 1442.7,823.00 1443.0,820.62 1443.5,816.15 1444.0,811.76 1444.5,807.67 1445.0,804.06 1445.4,801.50 1446.0,798.86 1447.0,795.39 1448.0,792.20 1449.0,787.86 1449.0,787.70 1449.5,784.32 1450.0,779.79 1450.5,774.83 1451.0,770.33 1451.3,768.00 1452.0,764.10 1453.0,758.89 1454.0,754.69 1454.9,752.00 1455.0,751.85 1456.0,749.77 1457.0,748.08 1458.0,747.11 1458.4,747.00 1459.0,747.33 1460.0,749.23 1461.0,752.33 1461.7,755.00 1462.0,756.28 1462.5,759.81 1463.0,764.46 1463.5,769.75 1464.0,775.21 1464.5,780.38 1465.0,784.76 1465.3,787.00 1466.0,791.02 1467.0,796.70 1468.0,800.59 1468.6,801.40 1469.0,801.12 1470.0,797.96 1471.0,792.19 1471.7,787.00 1472.0,784.42 1472.3,780.02 1472.6,774.52 1473.0,768.78 1473.2,764.14 1473.5,760.00 1473.7,756.46 1474.0,753.16 1474.3,748.46 1474.6,743.52 1475.0,738.47 1475.3,733.00 1475.5,728.95 1475.8,724.29 1476.0,719.57 1476.2,714.06 1476.5,708.56 1476.7,703.25 1477.0,698.34 1477.1,696.00 1477.4,691.04 1477.7,686.26 1478.0,681.69 1478.3,677.10 1478.6,672.85 1478.9,669.00 1479.0,668.20 1479.5,663.51 1480.0,659.77 1480.5,655.81 1481.0,650.46 1481.2,647.20 1481.3,643.99 1481.5,638.95 1481.7,633.14 1481.8,626.29 1482.0,619.71 1482.1,613.00 1482.3,607.45 1482.4,602.81 1482.6,600.00 1483.0,596.23 1483.5,591.86 1484.0,588.43 1485.0,584.84 1485.2,584.70 1486.0,585.99 1487.0,590.33 1487.6,593.70 1488.0,596.24 1488.5,600.90 1489.0,606.07 1489.6,611.70 1490.0,614.51 1490.5,618.39 1491.0,621.66 1491.6,623.70 1492.0,623.93 1493.0,624.41 1494.0,624.66 1494.6,624.70 1495.0,624.49 1496.0,622.52 1497.0,620.27 1497.6,619.70 1498.0,619.77 1499.0,620.54 1500.0,621.95 1500.0,622.00 1501.0,626.98 1501.5,631.59 1502.0,637.04 1502.5,642.90 1503.0,648.77 1503.3,652.45 1503.6,655.82 1504.0,659.11 1504.5,664.02 1505.0,668.99 1505.5,674.00 1506.0,679.04 1506.5,684.10 1507.0,689.18 1507.3,692.12 1507.6,696.01 1508.0,700.13 1508.5,706.16 1509.0,711.86 1509.5,716.66 1510.0,719.97 1510.0,720.02 1511.0,724.42 1512.0,727.55 1512.7,728.35 1513.0,728.09 1514.0,723.42 1514.5,719.44 1515.0,714.75 1515.4,710.18 1515.7,706.58 1516.0,701.99 1516.2,697.00 1516.5,691.51 1516.7,685.74 1517.0,679.89 1517.2,673.95 1517.5,668.22 1517.7,662.43 1518.0,656.18 1518.2,651.06 1518.4,645.90 1518.6,640.71 1518.8,635.56 1519.0,630.47 1519.0,628.71 1519.3,622.89 1519.5,616.97 1519.7,610.75 1520.0,604.82 1520.2,599.22 1520.4,593.51 1520.6,588.24 1520.9,583.21 1521.0,580.74 1521.2,575.01 1521.5,569.25 1521.7,563.65 1522.0,558.38 1522.3,551.93 1522.7,546.99 1523.0,543.62 1523.5,538.49 1524.0,534.56 1524.5,532.45 1525.0,531.69 1526.0,530.60 1526.8,530.28 1527.0,530.31 1528.0,532.50 1529.0,535.93 1529.0,536.08 1530.0,539.62 1531.0,542.95 1531.2,543.34 1532.0,544.24 1533.0,545.01 1533.6,545.15 1534.0,544.97 1535.0,543.30 1536.0,540.60 1536.3,539.70 1537.0,537.02 1538.0,531.50 1538.5,528.41 1539.0,525.36 1539.0,525.18 1539.5,522.17 1540.0,518.84 1540.5,515.34 1541.0,511.86 1541.7,507.05 1542.0,505.52 1542.5,502.33 1543.0,499.17 1544.0,493.98 1544.4,492.55 1545.0,491.46 1546.0,489.77 1547.0,488.95 1547.2,488.92 1548.0,489.61 1549.0,491.81 1549.9,494.37 1550.0,494.64 1551.0,499.55 1552.0,504.53 1552.2,505.25 1553.0,506.60 1554.0,507.82 1554.4,507.97 1555.0,507.66 1556.0,506.11 1557.0,504.51 1557.1,504.35 1558.0,503.58 1559.0,502.81 1559.9,502.53 1560.0,502.55 1561.0,503.98 1562.0,506.88 1562.6,508.89 1563.0,510.34 1564.0,515.33 1564.5,518.28 1565.0,521.36 1565.3,523.41 1566.0,527.84 1566.5,531.46 1567.0,535.24 1567.5,539.11 1568.0,542.98 1568.0,543.36 1568.5,547.13 1569.0,550.94 1569.5,555.05 1570.0,559.13 1570.7,565.12 1571.0,566.92 1571.5,571.14 1572.0,575.00 1572.5,577.80 1573.0,578.78 1574.0,580.36 1574.4,580.52 1575.0,579.88 1576.0,576.81 1576.2,575.98 1576.6,573.47 1577.0,569.68 1577.5,563.85 1578.0,558.09 1578.0,557.88 1578.5,552.14 1579.0,545.97 1579.4,541.25 1579.8,537.88 1580.0,536.94 1581.0,531.90 1581.6,530.64 1582.0,530.77 1583.0,532.29 1583.8,534.28 1584.0,534.77 1585.0,539.57 1585.5,542.68 1586.0,545.84 1586.2,546.99 1587.0,552.54 1587.5,556.31 1588.0,559.94 1588.9,565.12 1589.0,565.49 1590.0,569.62 1591.0,572.63 1591.6,573.27 1592.0,573.15 1593.0,571.88 1594.0,569.64 1594.3,568.72 1595.0,566.11 1595.5,563.10 1596.0,559.46 1596.5,555.41 1597.0,551.17 1597.0,550.58 1597.5,546.22 1598.0,541.03 1598.3,537.09 1598.6,532.86 1599.0,528.70 1599.4,523.34 1599.7,519.56 1600.0,515.19 1600.3,510.11 1600.6,505.30 1601.0,501.59 1601.2,499.81 1602.0,495.98 1603.0,493.47 1603.0,493.46 1604.0,494.93 1604.8,498.00 1605.0,498.62 1605.5,502.48 1606.0,508.08 1606.3,512.30 1606.6,516.79 1607.0,521.03 1607.0,521.52 1607.3,525.66 1607.7,530.12 1608.0,534.77 1608.3,539.01 1608.5,543.03 1608.8,547.00 1609.0,548.84 1609.3,553.12 1609.6,557.45 1610.0,561.57 1610.3,565.64 1610.6,569.78 1611.0,573.76 1611.0,574.12 1611.5,579.97 1612.0,585.98 1612.5,591.93 1613.0,597.47 1613.4,601.36 1614.0,607.35 1614.5,611.91 1615.0,615.16 1615.2,615.90 1616.0,617.63 1617.0,618.61 1617.0,618.61 1618.0,617.00 1618.8,614.09 1619.0,613.34 1619.5,610.04 1620.0,605.49 1620.5,600.15 1621.0,594.48 1621.2,592.33 1621.6,587.43 1622.0,581.72 1622.3,576.83 1622.6,571.68 1623.0,566.73 1623.3,561.45 1623.7,556.79 1624.0,551.97 1624.3,546.80 1624.6,541.75 1625.0,537.45 1625.5,532.48 1626.0,529.77 1627.0,525.59 1627.3,525.20 1628.0,526.44 1629.0,531.47 1629.1,532.44 1629.6,535.79 1630.0,540.28 1630.5,545.97 1631.0,550.62 1631.0,550.69 1631.5,554.26 1632.0,557.65 1633.0,562.56 1633.3,563.28 1634.0,564.01 1635.0,564.79 1636.0,565.10 1636.0,565.10 1637.0,565.03 1638.0,564.81 1639.0,564.47 1639.7,564.20 1640.0,564.05 1641.0,563.35 1642.0,562.18 1643.0,560.39 1643.3,559.66 1644.0,555.50 1644.5,550.34 1645.0,544.75 1645.1,543.38 1645.5,538.53 1646.0,533.35 1646.5,527.34 1646.9,521.54 1647.0,520.93 1647.3,516.61 1647.6,511.90 1648.0,507.46 1648.3,503.00 1648.7,499.81 1649.0,498.39 1650.0,493.63 1651.0,490.26 1651.5,488.93 1652.0,487.68 1653.0,485.80 1654.0,483.93 1654.2,483.49 1655.0,481.63 1656.0,479.06 1656.9,476.24 1657.0,475.96 1658.0,471.04 1659.0,465.71 1659.6,463.54 1660.0,462.80 1661.0,461.02 1662.0,459.99 1662.3,459.90 1663.0,460.42 1664.0,462.86 1664.7,465.34 1665.0,466.66 1665.5,470.29 1666.0,474.92 1666.4,479.35 1666.9,483.49 1667.0,484.34 1667.5,488.59 1668.0,492.87 1668.5,497.18 1669.0,501.55 1669.6,507.06 1670.0,510.54 1670.5,515.24 1671.0,520.02 1671.5,524.77 1672.0,529.41 1672.3,532.45 1672.6,535.53 1673.0,538.82 1673.5,543.73 1674.0,547.88 1674.5,550.60 1675.0,552.05 1676.0,554.36 1676.8,555.13 1677.0,555.11 1678.0,554.14 1679.0,552.07 1679.6,550.58 1680.0,549.21 1681.0,543.71 1681.5,540.56 1682.0,537.64 1682.3,536.07 1683.0,532.70 1684.0,528.20 1684.6,527.01 1685.0,527.07 1686.0,527.79 1686.8,528.83 1687.0,529.07 1688.0,532.57 1689.0,537.38 1689.5,539.70 1690.0,541.30 1691.0,545.20 1692.0,547.71 1692.3,547.87 1693.0,547.80 1694.0,547.49 1695.0,546.97 1695.0,546.97 1696.0,545.02 1697.0,541.17 1697.7,537.91 1698.0,536.62 1698.5,533.80 1699.0,530.53 1699.5,526.95 1700.0,523.20 1700.4,519.79 1701.0,515.48 1701.5,511.30 1702.0,506.93 1702.5,502.42 1703.0,497.81 1703.2,496.13 1703.6,492.10 1704.0,487.80 1704.5,482.50 1705.0,477.52 1705.3,474.43 1706.0,468.77 1706.5,464.79 1707.0,462.14 1707.1,461.71 1708.0,460.49 1709.0,459.90 1709.0,459.90 1710.0,460.92 1711.0,462.90 1711.3,463.54 1712.0,464.84 1713.0,467.05 1714.0,468.89 1714.0,468.98 1715.0,470.26 1716.0,471.36 1716.8,471.69 1717.0,471.66 1718.0,470.92 1719.0,470.04 1719.5,469.88 1720.0,470.92 1720.5,473.61 1721.0,477.31 1721.3,479.83 1721.6,483.39 1722.0,488.40 1722.2,492.53 1722.5,497.09 1722.7,501.55 1723.0,506.12 1723.2,511.43 1723.5,517.03 1723.7,522.68 1724.0,528.12 1724.0,528.75 1724.2,533.68 1724.5,538.54 1724.7,543.54 1725.0,548.31 1725.2,553.84 1725.5,559.58 1725.8,565.15 1726.0,568.15 1726.2,573.15 1726.5,578.15 1726.7,583.15 1727.0,588.15 1727.2,592.55 1727.4,596.95 1727.6,601.35 1727.8,604.84 1728.0,608.48 1728.2,613.97 1728.5,619.48 1728.7,624.81 1729.0,629.80 1729.2,634.09 1729.5,637.72 1729.7,641.17 1730.0,644.44 1730.5,650.23 1731.0,655.34 1731.5,659.79 1732.0,663.56 1732.2,664.89 1733.0,670.07 1734.0,675.51 1734.9,677.56 1735.0,677.55 1736.0,676.09 1736.7,673.93 1737.0,672.65 1737.5,668.56 1738.0,662.89 1738.2,659.43 1738.5,655.85 1738.7,652.36 1739.0,648.13 1739.2,642.95 1739.5,637.42 1739.7,631.81 1740.0,626.40 1740.2,622.77 1740.3,619.48 1740.7,614.01 1741.0,608.64 1741.3,603.38 1741.6,598.42 1742.0,594.21 1742.1,592.33 1742.6,588.00 1743.0,584.08 1743.5,580.24 1744.0,577.79 1744.0,577.76 1745.0,575.30 1745.3,575.03 1746.0,575.15 1747.0,575.77 1748.0,576.81 1749.0,578.17 1749.9,579.57 1750.0,579.72 1751.0,582.14 1752.0,585.67 1753.0,589.87 1753.5,592.28 1754.0,594.53 1755.0,600.45 1755.5,603.68 1756.0,606.94 1756.2,608.60 1757.0,613.11 1757.5,616.13 1758.0,619.34 1758.5,622.80 1759.0,626.74 1759.0,626.91 1759.3,630.28 1759.6,634.50 1760.0,639.06 1760.3,643.82 1760.6,648.66 1761.0,653.03 1761.3,657.00 1761.7,660.01 1762.0,661.87 1763.0,666.48 1763.5,669.05 1764.0,672.13 1764.5,675.63 1765.0,679.32 1765.3,681.79 1766.0,687.01 1766.5,691.07 1767.0,695.15 1767.1,696.27 1767.5,699.75 1768.0,703.27 1768.5,707.13 1768.9,710.75 1769.0,711.13 1769.5,714.73 1770.0,718.19 1770.7,723.50 1771.0,725.12 1771.5,728.70 1772.0,732.25 1772.5,736.17 1773.0,738.84 1773.5,741.92 1774.0,744.85 1774.4,747.09 1775.0,750.38 1776.0,755.30 1776.2,756.13 1777.0,759.23 1778.0,762.16 1778.4,762.48 1779.0,762.48 1780.0,762.48 1780.7,762.48 1781.0,762.21 1782.0,757.62 1782.5,754.30 1783.0,751.38 1783.5,747.39 1784.0,743.66 1784.3,741.63 1785.0,739.26 1786.0,736.55 1786.2,736.17 1787.0,734.84 1788.0,733.57 1788.9,732.55 1789.0,732.44 1790.0,731.35 1791.0,730.37 1791.6,729.83 1792.0,729.52 1793.0,728.64 1794.0,728.07 1794.3,728.02 1795.0,728.07 1796.0,728.29 1797.0,728.55 1797.0,728.56 1798.0,728.85 1799.0,729.18 1799.8,729.29 1800.0,729.28 1801.0,729.19 1802.0,729.05 1803.0,728.94 1803.4,728.92 1804.0,729.13 1805.0,730.30 1806.0,732.24 1806.1,732.56 1807.0,736.59 1807.5,739.96 1807.9,743.43 1808.0,743.79 1808.5,747.84 1809.0,752.42 1809.3,756.07 1809.7,759.71 1810.0,762.02 1810.5,766.98 1811.0,772.05 1811.5,777.91 1812.0,782.11 1812.5,787.11 1813.0,792.11 1813.4,796.01 1813.7,799.01 1814.0,802.11 1814.5,807.11 1815.0,812.11 1815.2,814.21 1815.6,818.21 1816.0,822.11 1816.5,827.11 1817.0,832.11 1817.0,832.31 1817.5,837.03 1818.0,841.65 1818.4,845.74 1818.8,850.41 1819.0,852.57 1819.3,857.39 1819.6,862.63 1820.0,867.31 1820.1,868.55 1820.5,874.21 1821.0,879.51 1821.5,883.09 1822.0,883.85 1823.0,884.83 1823.3,884.91 1824.0,882.80 1824.5,879.20 1825.0,875.29 1825.2,874.04 1825.6,871.00 1826.0,867.58 1826.5,863.76 1827.0,861.32 1828.0,858.92 1829.0,857.36 1829.7,856.80 1830.0,856.68 1831.0,856.41 1832.0,856.23 1833.0,856.01 1833.3,855.89 1834.0,855.59 1835.0,854.95 1836.0,854.13 1836.9,853.17 1837.0,853.14 1838.0,851.82 1839.0,850.09 1840.0,848.09 1840.6,846.82 1841.0,845.91 1842.0,843.26 1843.0,840.44 1843.3,839.57 1844.0,837.75 1845.0,835.09 1846.0,832.42 1846.0,832.31 1847.0,829.75 1848.0,827.09 1848.7,825.06 1849.0,824.42 1850.0,821.75 1851.0,819.09 1851.5,817.81 1852.0,816.35 1853.0,813.42 1854.0,810.93 1854.2,810.55 1855.0,809.08 1856.0,807.52 1856.9,806.92 1857.0,806.92 1858.0,807.50 1859.0,808.73 1859.6,809.63 1860.0,810.20 1861.0,812.34 1862.0,814.98 1862.3,815.97 1863.0,817.77 1864.0,820.88 1865.0,824.69 1865.1,825.08 1866.0,830.18 1866.9,835.94 1867.0,836.55 1867.5,839.75 1868.0,842.96 1868.7,846.81 1869.0,848.10 1870.0,852.04 1870.5,853.17 1871.0,853.69 1872.0,854.55 1873.0,854.96 1873.2,854.98 1874.0,854.78 1875.0,854.12 1876.0,853.43 1876.8,853.17 1877.0,853.17 1878.0,853.17 1879.0,853.17 1879.6,853.17 1880.0,853.26 1881.0,854.13 1882.0,855.46 1882.3,855.89 1883.0,856.93 1884.0,858.89 1885.0,861.24 1885.0,861.34 1886.0,863.86 1887.0,867.54 1887.2,868.57 1887.6,871.54 1888.0,875.65 1888.3,879.46 1888.6,883.05 1889.0,886.48 1889.5,891.56 1890.0,896.59 1890.5,901.25 1891.0,906.11 1891.5,910.65 1892.0,915.06 1892.3,917.54 1893.0,923.54 1893.5,927.59 1894.0,931.33 1894.1,932.10 1895.0,938.08 1895.9,942.95 1896.0,943.27 1897.0,946.93 1897.7,948.39 1898.0,948.61 1899.0,949.20 1899.5,949.30 1900.0,949.13 1901.0,947.74 1902.0,945.45 1902.2,944.76 1903.0,941.88 1904.0,936.18 1904.0,935.71 1904.5,932.62 1905.0,929.09 1905.4,925.73 1905.9,922.98 1906.0,922.47 1907.0,917.66 1907.7,915.74 1908.0,915.41 1909.0,914.48 1910.0,913.98 1910.4,913.93 1911.0,914.31 1912.0,916.32 1913.0,918.99 1913.1,919.37 1914.0,922.27 1915.0,926.27 1915.8,928.44 1916.0,928.58 1917.0,929.55 1918.0,930.15 1918.6,930.26 1919.0,930.13 1920.0,929.02 1921.0,927.23 1921.3,926.63 1922.0,924.89 1923.0,921.35 1924.0,917.67 1924.0,917.57 1925.0,913.94 1926.0,910.30 1926.7,908.50 1927.0,908.11 1928.0,906.74 1929.0,905.88 1929.5,905.77 1930.0,905.89 1931.0,906.72 1932.0,908.16 1932.2,908.50 1933.0,912.12 1934.0,917.53 1934.0,917.56 1935.0,920.21 1935.8,921.19 1936.0,921.19 1937.0,921.19 1938.0,921.19 1939.0,921.19 1940.0,921.19 1941.0,921.19 1941.2,921.19 1942.0,921.19 1943.0,921.19 1944.0,921.19 1945.0,921.19 1946.0,921.19 1947.0,921.19 1947.8,921.19"/>
<polyline id="c-green" points="100.0,292.01 101.0,292.01 102.0,292.01 103.0,292.01 104.0,292.01 105.0,292.01 106.0,292.01 107.0,292.01 108.0,292.01 109.0,292.01 110.0,292.01 111.0,292.01 112.0,292.01 113.0,292.01 114.0,292.01 115.0,292.01 116.0,292.01 116.0,292.01 117.0,292.19 118.0,292.62 119.0,293.15 119.9,293.60 120.0,293.62 121.0,294.03 122.0,294.46 123.0,294.89 124.0,295.31 125.0,295.69 125.9,296.00 126.0,296.01 127.0,296.33 128.0,296.65 129.0,296.93 130.0,297.13 130.9,297.20 131.0,297.20 132.0,297.14 133.0,296.99 134.0,296.80 135.0,296.58 136.0,296.39 137.0,296.25 137.9,296.20 138.0,296.20 139.0,296.33 140.0,296.65 141.0,297.10 142.0,297.62 143.0,298.15 143.9,298.60 144.0,298.63 145.0,299.11 146.0,299.65 147.0,300.22 148.0,300.80 149.0,301.35 150.0,301.86 151.0,302.29 151.9,302.59 152.0,302.61 153.0,302.89 154.0,303.16 155.0,303.39 156.0,303.54 156.9,303.59 157.0,303.59 158.0,303.41 159.0,303.06 160.0,302.72 160.9,302.59 161.0,302.59 162.0,302.79 163.0,303.22 164.0,303.76 165.0,304.26 165.9,304.59 166.0,304.61 167.0,304.86 168.0,305.09 169.0,305.31 170.0,305.50 171.0,305.67 172.0,305.81 173.0,305.92 173.9,305.99 174.0,305.99 175.0,306.03 176.0,306.06 177.0,306.08 178.0,306.10 179.0,306.14 179.8,306.19 180.0,306.20 181.0,306.66 182.0,307.31 182.8,307.58 183.0,307.58 184.0,307.46 185.0,307.20 186.0,306.86 187.0,306.50 188.0,306.18 188.8,305.99 189.0,305.96 190.0,305.83 191.0,305.72 192.0,305.63 193.0,305.54 194.0,305.44 195.0,305.32 195.8,305.19 196.0,305.16 197.0,304.85 198.0,304.44 199.0,304.10 199.8,303.99 200.0,303.99 201.0,304.11 202.0,304.36 203.0,304.68 204.0,304.98 204.8,305.19 205.0,305.22 206.0,305.43 207.0,305.64 208.0,305.82 209.0,305.95 209.8,305.99 210.0,305.99 211.0,305.99 212.0,305.99 213.0,305.99 214.0,305.99 215.0,305.99 215.8,305.99 216.0,305.99 217.0,306.31 218.0,306.97 219.0,307.83 219.8,308.58 220.0,308.75 221.0,309.94 222.0,311.44 223.0,313.13 223.8,314.57 224.0,314.91 225.0,316.85 226.0,319.01 227.0,321.30 228.0,323.65 228.8,325.56 229.0,326.02 230.0,328.74 231.0,331.61 232.0,334.12 232.8,335.54 233.0,335.81 234.0,337.10 235.0,338.20 236.0,338.93 236.8,339.14 237.0,339.13 238.0,338.79 239.0,338.10 240.0,337.24 240.8,336.54 241.0,336.35 242.0,335.31 243.0,334.06 244.0,332.68 244.8,331.55 245.0,331.21 246.0,329.34 247.0,327.26 248.0,325.46 248.8,324.56 249.0,324.39 250.0,323.65 251.0,323.05 252.0,322.66 252.7,322.56 253.0,322.57 254.0,322.83 255.0,323.34 256.0,324.01 256.7,324.55 257.0,324.75 258.0,325.92 259.0,327.40 260.0,328.80 260.7,329.55 261.0,329.72 262.0,330.33 263.0,330.81 264.0,331.23 265.0,331.65 266.0,332.12 266.7,332.55 267.0,332.71 268.0,333.49 269.0,334.40 270.0,335.35 271.0,336.27 272.0,337.07 272.7,337.54 273.0,337.67 274.0,338.10 275.0,338.44 276.0,338.77 277.0,339.17 277.7,339.53 278.0,339.70 279.0,340.44 280.0,341.37 281.0,342.43 282.0,343.57 283.0,344.72 283.7,345.52 284.0,345.82 285.0,346.85 286.0,347.88 287.0,349.01 288.0,350.36 288.7,351.52 289.0,352.08 290.0,354.83 291.0,358.02 291.7,359.99 292.0,360.68 293.0,362.91 294.0,364.97 295.0,366.92 296.0,368.79 297.0,370.66 297.7,371.98 298.0,372.54 299.0,374.33 300.0,376.01 301.0,377.63 302.0,379.23 303.0,380.85 304.0,382.53 305.0,384.31 306.0,386.24 307.0,388.36 307.7,389.96 308.0,390.73 309.0,393.58 310.0,396.84 311.0,400.37 312.0,404.01 313.0,407.60 313.6,409.93 314.0,411.00 315.0,414.43 316.0,417.91 317.0,421.37 318.0,424.72 319.0,427.90 319.6,429.89 320.0,430.83 321.0,433.55 322.0,436.12 323.0,438.58 324.0,440.97 325.0,443.34 326.0,445.73 327.0,448.19 327.6,449.87 328.0,450.74 329.0,453.25 330.0,455.74 331.0,458.28 332.0,460.95 333.0,463.83 333.6,465.84 334.0,466.99 335.0,470.59 336.0,474.55 337.0,478.72 338.0,482.98 339.0,487.19 339.6,489.80 340.0,491.25 341.0,495.28 342.0,499.34 343.0,503.39 344.0,507.39 345.0,511.33 345.6,513.76 346.0,515.17 347.0,518.88 348.0,522.50 349.0,526.09 350.0,529.70 351.0,533.38 351.6,535.73 352.0,537.20 353.0,541.21 354.0,545.34 355.0,549.49 356.0,553.56 357.0,557.45 357.6,559.69 358.0,561.06 359.0,564.41 360.0,567.59 361.0,570.67 362.0,573.71 363.0,576.80 364.0,580.01 364.8,582.67 365.0,583.40 366.0,587.01 367.0,590.76 368.0,594.60 369.0,598.46 370.0,602.26 370.8,605.35 371.0,605.93 372.0,609.53 373.0,613.09 374.0,616.60 375.0,620.08 376.0,623.51 376.9,626.49 377.0,626.90 378.0,630.27 379.0,633.62 380.0,636.93 381.0,640.18 382.0,643.33 382.9,646.16 383.0,646.36 384.0,649.31 385.0,652.18 386.0,654.98 387.0,657.69 388.0,660.32 388.9,662.77 389.0,662.84 390.0,665.26 391.0,667.60 392.0,669.85 393.0,672.05 394.0,674.21 395.0,676.34 395.0,676.38 396.0,678.40 397.0,680.37 398.0,682.31 399.0,684.25 400.0,686.24 401.0,688.33 401.0,688.46 402.0,690.58 403.0,692.96 404.0,695.38 405.0,697.72 405.6,699.05 406.0,699.91 407.0,702.04 408.0,704.10 409.0,706.06 410.0,707.89 410.1,708.11 411.0,709.61 412.0,711.29 413.0,712.85 414.0,714.19 414.6,714.91 415.0,715.24 416.0,716.18 417.0,717.04 418.0,717.78 419.0,718.35 419.9,718.69 420.0,718.70 421.0,718.93 422.0,719.12 423.0,719.28 424.0,719.39 425.0,719.44 425.2,719.45 426.0,719.41 427.0,719.27 428.0,719.04 429.0,718.75 430.0,718.41 431.0,718.04 431.3,717.93 432.0,717.62 433.0,717.04 434.0,716.33 435.0,715.52 436.0,714.66 436.6,714.15 437.0,713.77 438.0,712.79 439.0,711.71 440.0,710.53 441.0,709.27 441.8,708.11 442.0,707.93 443.0,706.42 444.0,704.74 445.0,702.98 446.0,701.23 446.4,700.56 447.0,699.56 448.0,697.88 449.0,696.21 450.0,694.55 450.9,692.99 451.0,692.89 452.0,691.21 453.0,689.49 454.0,687.78 455.0,686.12 456.0,684.56 456.9,683.18 457.0,683.15 458.0,681.87 459.0,680.66 460.0,679.53 461.0,678.45 462.0,677.41 463.0,676.40 463.0,676.37 464.0,675.41 465.0,674.46 466.0,673.54 467.0,672.65 468.0,671.78 469.0,670.92 470.0,670.07 470.6,669.57 471.0,669.22 472.0,668.35 473.0,667.49 474.0,666.63 475.0,665.80 476.0,665.01 477.0,664.28 478.0,663.61 478.1,663.53 479.0,663.00 480.0,662.40 481.0,661.82 482.0,661.28 483.0,660.79 484.0,660.34 485.0,659.97 485.7,659.75 486.0,659.66 487.0,659.41 488.0,659.20 489.0,659.01 490.0,658.84 491.0,658.67 492.0,658.49 493.0,658.29 493.2,658.24 494.0,658.07 495.0,657.87 496.0,657.66 497.0,657.45 498.0,657.23 499.0,656.99 500.0,656.72 501.0,656.42 502.0,656.09 502.3,655.97 503.0,655.68 504.0,655.15 505.0,654.51 506.0,653.79 507.0,653.01 508.0,652.20 509.0,651.38 509.9,650.68 510.0,650.58 511.0,649.75 512.0,648.86 513.0,647.93 514.0,646.98 515.0,646.04 516.0,645.12 517.0,644.24 517.4,643.88 518.0,643.42 519.0,642.62 520.0,641.85 521.0,641.10 522.0,640.37 523.0,639.67 523.5,639.34 524.0,639.00 525.0,638.32 526.0,637.66 527.0,637.02 528.0,636.40 529.0,635.82 530.0,635.30 531.0,634.83 531.0,634.81 532.0,634.38 533.0,633.91 534.0,633.46 535.0,633.04 536.0,632.69 537.0,632.42 538.0,632.27 538.6,632.24 539.0,632.24 540.0,632.24 541.0,632.24 542.0,632.24 543.0,632.24 544.0,632.24 545.0,632.24 546.0,632.24 546.1,632.24 547.0,632.18 548.0,631.95 549.0,631.58 550.0,631.09 551.0,630.52 552.0,629.90 553.0,629.24 553.7,628.76 554.0,628.56 555.0,627.68 556.0,626.59 557.0,625.38 558.0,624.10 559.0,622.85 559.7,621.97 560.0,621.68 561.0,620.47 562.0,619.21 563.0,617.96 564.0,616.80 565.0,615.80 565.8,615.16 566.0,615.02 567.0,614.32 568.0,613.64 569.0,613.03 570.0,612.54 571.0,612.23 571.8,612.14 572.0,612.14 573.0,612.29 574.0,612.62 575.0,613.12 576.0,613.74 577.0,614.47 577.9,615.17 578.0,615.26 579.0,616.40 580.0,618.03 581.0,620.06 582.0,622.41 582.4,623.47 583.0,625.28 584.0,629.38 585.0,633.80 585.4,635.55 586.0,637.65 587.0,641.34 588.0,644.74 588.4,646.15 589.0,647.68 590.0,650.49 591.0,652.97 592.0,654.87 592.2,655.22 593.0,656.16 594.0,657.28 595.0,658.24 596.0,659.00 597.0,659.55 597.5,659.75 598.0,659.88 599.0,660.10 600.0,660.27 601.0,660.40 602.0,660.51 603.0,660.62 604.0,660.74 605.0,660.89 606.0,661.10 606.6,661.26 607.0,661.39 608.0,661.82 609.0,662.41 610.0,663.16 611.0,664.04 612.0,665.06 612.6,665.79 613.0,666.27 614.0,668.29 615.0,670.90 616.0,673.64 617.0,676.01 617.1,676.37 618.0,677.97 619.0,679.91 620.0,681.50 620.9,682.42 621.0,682.44 622.0,682.93 623.0,683.32 624.0,683.57 624.7,683.63 625.0,683.61 626.0,683.36 627.0,682.84 628.0,682.15 629.0,681.35 629.5,680.91 630.0,680.49 631.0,679.20 632.0,677.57 633.0,675.80 634.0,674.06 635.0,672.55 635.6,671.83 636.0,671.43 637.0,670.54 638.0,669.79 639.0,669.12 640.0,668.46 641.0,667.75 642.0,666.94 643.0,665.96 643.1,665.80 644.0,664.79 645.0,663.41 646.0,661.77 647.0,659.80 647.7,658.23 648.0,657.37 649.0,653.47 650.0,648.96 650.7,646.14 651.0,645.15 652.0,641.82 653.0,638.69 654.0,635.78 655.0,633.14 655.2,632.55 656.0,630.79 657.0,628.66 658.0,626.69 659.0,624.80 660.0,622.94 661.0,621.03 661.3,620.45 662.0,619.02 663.0,617.00 664.0,614.97 665.0,612.95 666.0,610.96 667.0,609.00 667.3,608.37 668.0,607.03 669.0,604.92 670.0,602.87 671.0,601.13 671.8,600.05 672.0,599.92 673.0,598.99 674.0,598.12 675.0,597.36 676.0,596.77 677.0,596.39 677.9,596.27 678.0,596.27 679.0,596.40 680.0,596.69 681.0,597.10 682.0,597.57 682.4,597.78 683.0,598.10 684.0,598.88 685.0,599.81 686.0,600.75 687.0,601.56 687.0,601.57 688.0,602.35 689.0,603.19 690.0,603.99 691.0,604.68 692.0,605.15 693.0,605.34 693.0,605.34 694.0,605.31 695.0,605.21 696.0,605.08 697.0,604.93 698.0,604.79 699.0,604.67 700.0,604.60 700.5,604.58 701.0,604.60 702.0,604.72 703.0,604.95 704.0,605.23 705.0,605.53 706.0,605.80 707.0,606.00 708.0,606.09 708.1,606.10 709.0,606.10 710.0,606.10 711.0,606.10 712.0,606.10 712.6,606.10 713.0,606.06 714.0,605.59 715.0,604.71 716.0,603.62 717.0,602.53 717.2,602.32 718.0,601.47 719.0,600.26 720.0,598.94 721.0,597.59 722.0,596.27 723.0,595.05 723.2,594.76 724.0,593.97 725.0,593.01 726.0,592.09 727.0,591.17 728.0,590.19 729.0,589.08 729.3,588.71 730.0,587.67 731.0,586.10 731.1,585.90 732.0,584.96 733.0,583.94 734.0,583.01 735.0,582.18 736.0,581.42 737.0,580.74 737.2,580.60 738.0,580.10 739.0,579.46 740.0,578.87 741.0,578.34 742.0,577.92 743.0,577.63 743.2,577.58 744.0,577.47 745.0,577.36 746.0,577.27 747.0,577.21 748.0,577.14 749.0,577.06 750.0,576.95 750.8,576.83 751.0,576.79 752.0,576.53 753.0,576.15 754.0,575.66 755.0,575.08 756.0,574.42 756.8,573.80 757.0,573.69 758.0,572.73 759.0,571.49 760.0,570.03 761.0,568.41 761.4,567.76 762.0,566.62 763.0,564.43 764.0,561.96 765.0,559.43 765.9,557.19 766.0,557.00 767.0,554.63 768.0,552.24 769.0,549.88 770.0,547.60 770.4,546.59 771.0,545.43 772.0,543.27 773.0,541.16 774.0,539.12 775.0,537.18 776.0,535.36 776.5,534.51 777.0,533.70 778.0,532.16 779.0,530.72 780.0,529.35 781.0,528.02 782.0,526.71 783.0,525.38 784.0,524.01 784.0,523.93 785.0,522.62 786.0,521.23 787.0,519.85 788.0,518.46 789.0,517.07 790.0,515.66 791.0,514.24 791.6,513.34 792.0,512.79 793.0,511.34 794.0,509.88 795.0,508.40 796.0,506.89 797.0,505.34 797.6,504.28 798.0,503.73 799.0,502.05 800.0,500.31 801.0,498.53 802.0,496.74 803.0,494.95 803.7,493.70 804.0,493.19 805.0,491.44 806.0,489.69 807.0,487.94 808.0,486.19 809.0,484.44 809.7,483.13 810.0,482.69 811.0,480.94 812.0,479.19 813.0,477.44 814.0,475.69 815.0,473.94 815.8,472.54 816.0,472.19 817.0,470.44 818.0,468.69 819.0,466.94 820.0,465.19 821.0,463.44 821.8,461.97 822.0,461.69 823.0,459.91 824.0,458.12 825.0,456.33 826.0,454.57 827.0,452.85 827.9,451.38 828.0,451.20 829.0,449.60 830.0,448.01 831.0,446.47 832.0,444.98 833.0,443.56 833.9,442.32 834.0,442.23 835.0,440.92 836.0,439.61 837.0,438.36 838.0,437.22 839.0,436.25 840.0,435.52 840.0,435.50 841.0,434.94 842.0,434.48 843.0,434.07 844.0,433.70 845.0,433.33 846.0,432.93 846.0,432.92 847.0,432.44 848.0,431.88 849.0,431.31 850.0,430.81 851.0,430.46 852.0,430.32 852.0,430.32 853.0,430.47 854.0,430.88 855.0,431.50 856.0,432.25 857.0,433.08 858.0,433.92 859.0,434.88 860.0,436.07 861.0,437.43 862.0,438.89 863.0,440.41 864.0,441.90 864.0,441.92 865.0,443.45 866.0,445.09 867.0,446.78 868.0,448.50 869.0,450.23 870.0,451.90 870.0,451.92 871.0,453.62 872.0,455.38 873.0,457.13 874.0,458.83 875.0,460.44 876.0,461.88 876.0,461.91 877.0,463.36 878.0,464.83 879.0,466.17 880.0,467.24 880.9,467.87 881.0,467.88 882.0,468.26 883.0,468.58 884.0,468.79 884.9,468.87 885.0,468.87 886.0,468.48 887.0,467.53 888.0,466.24 888.9,464.87 889.0,464.81 890.0,462.94 891.0,460.42 892.0,457.53 893.0,454.55 893.9,451.89 894.0,451.76 895.0,449.08 896.0,446.36 897.0,443.63 898.0,440.93 899.0,438.29 899.9,435.92 900.0,435.77 901.0,433.30 902.0,430.84 903.0,428.43 904.0,426.09 905.0,423.85 906.0,421.75 906.9,419.94 907.0,419.81 908.0,418.00 909.0,416.28 910.0,414.64 911.0,413.08 912.0,411.60 913.0,410.19 913.9,408.96 914.0,408.85 915.0,407.56 916.0,406.32 917.0,405.13 918.0,403.99 919.0,402.90 920.0,401.85 921.0,400.84 921.9,399.97 922.0,399.88 923.0,398.96 924.0,398.07 925.0,397.21 926.0,396.38 927.0,395.58 928.0,394.80 929.0,394.05 930.0,393.31 931.0,392.60 931.9,391.98 932.0,391.91 933.0,391.23 934.0,390.56 935.0,389.91 936.0,389.28 937.0,388.66 938.0,388.06 939.0,387.49 940.0,386.94 941.0,386.42 941.9,385.99 942.0,385.93 943.0,385.47 944.0,385.04 945.0,384.62 946.0,384.23 947.0,383.84 948.0,383.47 949.0,383.09 950.0,382.72 951.0,382.34 951.8,382.00 952.0,381.94 953.0,381.51 954.0,381.06 955.0,380.62 956.0,380.20 957.0,379.84 957.9,379.60 958.0,379.57 959.0,379.33 960.0,379.10 961.0,378.88 962.0,378.67 963.0,378.48 964.0,378.31 965.0,378.18 966.0,378.08 967.0,378.02 967.8,378.00 968.0,378.00 969.0,378.02 970.0,378.06 971.0,378.13 972.0,378.22 973.0,378.31 974.0,378.41 975.0,378.51 975.8,378.60 976.0,378.61 977.0,378.73 978.0,378.88 979.0,379.05 980.0,379.21 981.0,379.37 982.0,379.49 983.0,379.57 983.8,379.60 984.0,379.59 985.0,379.40 986.0,378.97 987.0,378.40 988.0,377.74 989.0,377.09 989.8,376.60 990.0,376.51 991.0,375.91 992.0,375.24 993.0,374.57 994.0,373.96 995.0,373.47 995.8,373.20 996.0,373.17 997.0,372.96 998.0,372.78 999.0,372.63 1000.0,372.50 1001.0,372.39 1002.0,372.28 1003.0,372.18 1004.0,372.08 1005.0,371.98 1006.0,371.86 1007.0,371.73 1007.8,371.61 1008.0,371.58 1009.0,371.39 1010.0,371.18 1011.0,370.94 1012.0,370.70 1013.0,370.46 1014.0,370.23 1015.0,370.01 1016.0,369.83 1017.0,369.69 1017.8,369.61 1018.0,369.60 1019.0,369.53 1020.0,369.49 1021.0,369.46 1022.0,369.44 1023.0,369.40 1024.0,369.35 1025.0,369.29 1025.8,369.21 1026.0,369.14 1027.0,367.93 1028.0,366.09 1029.0,364.75 1029.3,364.62 1030.0,364.97 1031.0,366.55 1032.0,368.50 1032.7,369.61 1033.0,369.84 1034.0,370.85 1035.0,371.80 1036.0,372.57 1037.0,373.08 1037.7,373.21 1038.0,373.21 1039.0,373.21 1040.0,373.21 1041.0,373.21 1042.0,373.21 1043.0,373.21 1044.0,373.21 1045.0,373.21 1045.7,373.21 1046.0,373.19 1047.0,372.85 1048.0,372.19 1049.0,371.41 1050.0,370.66 1051.0,370.15 1051.7,370.01 1052.0,370.02 1053.0,370.21 1054.0,370.59 1055.0,371.05 1056.0,371.51 1057.0,371.86 1057.7,372.01 1058.0,372.03 1059.0,372.12 1060.0,372.18 1061.0,372.23 1062.0,372.27 1063.0,372.30 1064.0,372.34 1065.0,372.38 1066.0,372.45 1067.0,372.53 1067.7,372.61 1068.0,372.66 1069.0,373.11 1070.0,373.85 1071.0,374.74 1072.0,375.60 1073.0,376.30 1073.7,376.60 1074.0,376.68 1075.0,376.96 1076.0,377.21 1077.0,377.44 1078.0,377.64 1079.0,377.80 1080.0,377.92 1081.0,377.98 1081.7,378.00 1082.0,377.99 1083.0,377.94 1084.0,377.83 1085.0,377.67 1086.0,377.47 1087.0,377.24 1088.0,377.00 1089.0,376.76 1089.7,376.60 1090.0,376.53 1091.0,376.27 1092.0,375.99 1093.0,375.68 1094.0,375.32 1095.0,374.91 1095.7,374.60 1096.0,374.43 1097.0,373.71 1098.0,372.78 1099.0,371.78 1100.0,370.81 1101.0,370.00 1101.6,369.61 1102.0,369.46 1103.0,369.08 1104.0,368.79 1105.0,368.52 1106.0,368.24 1107.0,367.90 1107.6,367.61 1108.0,367.43 1109.0,366.66 1110.0,365.70 1111.0,364.74 1112.0,363.95 1112.6,363.62 1113.0,363.50 1114.0,363.21 1115.0,362.99 1116.0,362.80 1117.0,362.63 1118.0,362.44 1119.0,362.21 1119.6,362.02 1120.0,361.89 1121.0,361.36 1122.0,360.71 1123.0,360.11 1124.0,359.71 1124.6,359.63 1125.0,359.64 1126.0,359.86 1127.0,360.26 1128.0,360.76 1129.0,361.26 1130.0,361.69 1131.0,361.97 1131.6,362.02 1132.0,362.02 1133.0,361.99 1134.0,361.93 1135.0,361.84 1136.0,361.72 1137.0,361.57 1138.0,361.40 1139.0,361.21 1140.0,361.00 1141.0,360.77 1141.6,360.62 1142.0,360.50 1143.0,360.01 1144.0,359.31 1145.0,358.51 1146.0,357.71 1147.0,356.98 1147.6,356.63 1148.0,356.41 1149.0,355.84 1150.0,355.26 1151.0,354.74 1152.0,354.32 1153.0,354.08 1153.6,354.03 1154.0,354.04 1155.0,354.14 1156.0,354.33 1157.0,354.57 1158.0,354.86 1159.0,355.16 1160.0,355.45 1161.0,355.70 1162.0,355.90 1163.0,356.01 1163.5,356.03 1164.0,356.02 1165.0,355.95 1166.0,355.81 1167.0,355.63 1168.0,355.41 1169.0,355.18 1170.0,354.95 1171.0,354.74 1171.5,354.63 1172.0,354.55 1173.0,354.34 1174.0,354.12 1175.0,353.88 1176.0,353.66 1177.0,353.47 1178.0,353.33 1179.0,353.25 1179.5,353.24 1180.0,353.25 1181.0,353.36 1182.0,353.57 1183.0,353.84 1184.0,354.16 1185.0,354.49 1186.0,354.81 1187.0,355.10 1187.5,355.23 1188.0,355.34 1189.0,355.59 1190.0,355.85 1191.0,356.12 1192.0,356.38 1193.0,356.62 1194.0,356.84 1195.0,357.02 1196.0,357.15 1197.0,357.22 1197.5,357.23 1198.0,357.23 1199.0,357.23 1200.0,357.23 1201.0,357.23 1202.0,357.23 1203.0,357.23 1203.5,357.23 1204.0,357.24 1205.0,357.36 1206.0,357.58 1207.0,357.88 1208.0,358.23 1209.0,358.62 1210.0,359.03 1211.0,359.43 1211.5,359.62 1212.0,359.82 1213.0,360.23 1214.0,360.68 1215.0,361.17 1216.0,361.68 1217.0,362.21 1218.0,362.77 1219.0,363.34 1219.5,363.62 1220.0,363.92 1221.0,364.51 1222.0,365.12 1223.0,365.74 1224.0,366.40 1225.0,367.08 1226.0,367.80 1227.0,368.55 1228.0,369.35 1229.0,370.19 1229.5,370.61 1230.0,371.11 1231.0,372.18 1232.0,373.38 1233.0,374.63 1234.0,375.89 1235.0,377.08 1235.4,377.60 1236.0,378.18 1237.0,379.29 1238.0,380.40 1239.0,381.45 1240.0,382.42 1241.0,383.26 1241.4,383.59 1242.0,383.95 1243.0,384.57 1244.0,385.14 1245.0,385.67 1246.0,386.15 1247.0,386.60 1248.0,387.02 1249.0,387.42 1249.4,387.59 1250.0,387.79 1251.0,388.16 1252.0,388.51 1253.0,388.82 1254.0,389.10 1255.0,389.32 1255.4,389.40 1256.0,389.49 1257.0,389.60 1258.0,389.70 1259.0,389.78 1260.0,389.87 1261.0,389.99 1261.7,390.10 1262.0,390.15 1263.0,390.34 1264.0,390.59 1265.0,390.91 1266.0,391.30 1266.8,391.70 1267.0,391.80 1268.0,392.69 1269.0,394.03 1270.0,395.67 1270.6,396.80 1271.0,397.55 1272.0,400.18 1273.0,403.24 1273.8,405.70 1274.0,406.17 1275.0,408.81 1276.0,411.48 1277.0,414.50 1277.0,414.60 1278.0,418.22 1279.0,422.44 1279.5,424.70 1280.0,426.71 1281.0,431.12 1282.0,435.62 1282.1,436.20 1283.0,440.19 1284.0,444.81 1284.6,447.60 1285.0,449.14 1286.0,453.06 1287.0,457.21 1287.1,457.80 1288.0,462.25 1289.0,467.74 1289.0,467.90 1290.0,473.00 1290.9,478.10 1291.0,478.50 1292.0,484.28 1292.8,490.00 1293.0,491.45 1293.4,495.60 1293.8,500.00 1294.0,501.67 1294.5,506.39 1295.0,511.06 1295.5,515.93 1296.0,521.26 1296.0,521.60 1296.5,527.36 1297.0,533.46 1297.3,537.69 1297.6,542.19 1297.9,547.00 1298.0,548.15 1298.2,552.70 1298.5,557.77 1298.7,563.15 1299.0,568.63 1299.2,574.65 1299.5,580.07 1299.8,585.00 1300.0,587.64 1300.3,592.32 1300.6,596.75 1301.0,600.86 1301.3,605.53 1301.7,610.40 1302.0,614.09 1302.3,618.51 1302.6,623.52 1303.0,629.40 1303.0,630.00 1303.2,633.75 1303.3,638.35 1303.5,643.91 1303.7,649.54 1303.8,655.33 1304.0,661.06 1304.1,665.84 1304.3,670.55 1304.4,674.40 1304.6,679.10 1304.8,683.63 1305.0,687.98 1305.2,693.48 1305.5,698.74 1305.7,703.78 1306.0,708.62 1306.3,714.76 1306.6,720.85 1307.0,726.58 1307.1,728.80 1307.4,733.42 1307.7,737.63 1308.0,741.73 1308.2,745.73 1308.5,750.00 1308.7,754.45 1309.0,759.09 1309.2,764.43 1309.5,769.93 1309.7,775.43 1310.0,780.81 1310.1,783.50 1310.4,789.36 1310.7,795.15 1311.0,800.89 1311.2,805.80 1311.5,810.70 1311.7,815.59 1312.0,820.49 1312.1,823.84 1312.3,827.00 1312.5,831.37 1312.8,835.97 1313.0,840.38 1313.2,845.40 1313.5,850.40 1313.7,855.39 1314.0,860.33 1314.2,865.60 1314.5,870.60 1314.7,875.22 1315.0,879.73 1315.2,884.66 1315.5,889.59 1315.7,894.47 1316.0,899.26 1316.3,905.37 1316.6,911.30 1317.0,916.62 1317.2,920.00 1317.6,925.04 1318.0,929.69 1318.4,934.93 1318.9,940.00 1319.0,940.80 1319.3,944.93 1319.6,949.58 1320.0,954.18 1320.5,960.70 1321.0,965.85 1321.6,968.90 1322.0,969.21 1323.0,969.74 1323.4,969.80 1324.0,969.32 1325.0,966.76 1325.2,966.00 1326.0,960.42 1326.3,956.66 1326.6,952.30 1327.0,947.86 1327.4,941.64 1327.9,936.30 1328.0,935.57 1328.5,930.27 1329.0,924.91 1329.5,919.72 1330.0,914.92 1330.7,909.10 1331.0,907.25 1331.5,903.73 1332.0,900.30 1333.0,894.57 1334.0,891.84 1334.1,891.80 1335.0,892.60 1336.0,894.99 1337.0,898.14 1337.9,901.00 1338.0,901.20 1339.0,904.88 1340.0,909.25 1341.0,913.08 1342.0,915.11 1342.2,915.20 1343.0,912.23 1343.5,907.91 1344.0,902.60 1344.4,897.80 1344.7,894.09 1345.0,889.22 1345.2,884.54 1345.5,879.75 1345.7,875.15 1346.0,871.05 1346.0,870.60 1346.3,866.13 1346.7,861.87 1347.0,857.93 1347.3,853.40 1347.7,848.80 1348.0,845.30 1348.3,841.10 1348.6,836.67 1349.0,832.08 1349.3,827.00 1349.5,823.10 1349.8,818.49 1350.0,813.76 1350.2,808.68 1350.4,803.44 1350.7,798.68 1350.9,794.40 1351.0,793.19 1351.3,787.63 1351.6,782.14 1352.0,777.06 1352.3,772.24 1352.6,767.58 1353.0,763.37 1353.1,761.80 1353.5,756.61 1354.0,751.74 1354.5,746.58 1355.0,742.26 1355.3,740.00 1356.0,736.23 1357.0,732.56 1357.0,732.50 1358.0,731.22 1359.0,730.46 1360.0,729.64 1360.6,728.80 1361.0,728.04 1362.0,724.72 1363.0,720.22 1364.0,715.38 1364.2,714.30 1365.0,710.71 1366.0,705.62 1366.9,700.00 1367.0,699.52 1367.5,695.70 1368.0,691.31 1368.5,686.61 1369.0,681.88 1369.0,681.60 1369.5,677.02 1370.0,672.17 1370.5,667.13 1371.0,662.09 1371.2,659.80 1371.6,656.05 1372.0,652.20 1372.5,647.28 1373.0,642.35 1373.4,638.10 1374.0,632.39 1374.5,627.33 1375.0,622.33 1375.3,619.32 1375.6,616.30 1376.0,612.78 1376.5,607.94 1377.0,603.37 1377.7,598.10 1378.0,596.60 1379.0,591.80 1379.6,590.20 1380.0,589.77 1380.6,589.40 1381.0,589.65 1382.0,592.32 1382.5,594.50 1383.0,597.99 1383.4,603.36 1383.9,609.00 1384.0,609.83 1384.3,614.02 1384.6,618.63 1385.0,623.10 1385.0,623.50 1385.3,627.74 1385.7,632.13 1386.0,636.38 1386.1,638.10 1386.5,643.63 1387.0,649.19 1387.2,652.60 1387.5,657.01 1387.7,661.75 1388.0,667.09 1388.1,670.76 1388.3,674.30 1388.5,679.11 1388.8,684.23 1389.0,689.71 1389.1,694.62 1389.3,700.00 1389.4,704.12 1389.5,708.58 1389.6,714.17 1389.7,719.62 1389.8,725.96 1389.9,731.76 1390.0,738.13 1390.0,740.00 1390.1,746.99 1390.2,754.98 1390.3,762.53 1390.5,770.88 1390.6,778.52 1390.7,786.72 1390.8,794.00 1391.0,804.86 1391.1,811.13 1391.2,817.96 1391.3,824.12 1391.4,830.87 1391.5,837.01 1391.6,843.79 1391.7,850.00 1392.0,868.51 1392.1,874.93 1392.2,881.15 1392.2,886.99 1392.3,891.71 1392.4,896.32 1392.5,900.00 1392.7,905.32 1392.8,909.82 1393.0,914.14 1393.2,920.07 1393.5,925.21 1393.7,929.81 1394.0,934.10 1394.1,936.30 1394.4,941.06 1394.7,945.55 1395.0,949.78 1395.3,954.30 1395.6,958.66 1396.0,962.63 1396.4,967.87 1396.9,972.60 1397.0,973.30 1397.5,978.61 1398.0,983.99 1398.5,988.80 1399.0,992.42 1399.6,994.30 1400.0,994.20 1401.0,993.04 1402.0,990.78 1402.0,990.70 1402.5,987.27 1403.0,980.63 1403.3,975.31 1403.6,969.82 1404.0,965.08 1404.1,963.50 1404.5,958.53 1405.0,953.80 1405.5,948.52 1406.0,943.57 1406.4,939.81 1406.8,936.30 1407.0,934.97 1407.5,931.17 1408.0,927.60 1408.5,924.31 1409.0,921.33 1409.6,918.10 1410.0,916.35 1411.0,911.55 1412.0,907.55 1413.0,905.49 1413.2,905.40 1414.0,905.60 1415.0,906.40 1416.0,907.71 1416.8,909.10 1417.0,909.49 1418.0,914.63 1418.5,918.55 1419.0,923.02 1419.5,927.75 1420.0,932.47 1420.4,936.30 1421.0,941.47 1421.5,946.39 1422.0,951.53 1422.5,956.75 1423.0,961.90 1423.5,966.86 1424.0,971.47 1424.1,972.60 1424.5,976.28 1425.0,979.75 1425.5,983.64 1426.0,987.41 1426.5,991.07 1427.0,994.66 1427.7,999.80 1428.0,1001.74 1428.5,1005.49 1429.0,1009.32 1429.5,1013.06 1430.0,1016.54 1431.0,1022.07 1431.3,1023.30 1432.0,1025.39 1433.0,1028.18 1434.0,1030.20 1435.0,1031.00 1435.0,1031.00 1436.0,1030.72 1437.0,1029.92 1438.0,1028.75 1439.0,1027.34 1440.0,1025.84 1440.4,1025.20 1441.0,1024.32 1442.0,1022.56 1443.0,1020.48 1444.0,1018.05 1445.0,1015.20 1445.8,1012.50 1446.0,1011.89 1447.0,1007.33 1448.0,1001.44 1448.5,998.11 1449.0,994.59 1449.5,990.70 1450.0,986.85 1450.5,982.13 1451.0,976.94 1451.5,971.50 1452.0,966.00 1452.5,960.64 1453.0,955.62 1453.1,954.40 1453.5,950.19 1454.0,945.91 1454.5,940.90 1455.0,936.06 1455.5,931.60 1456.0,927.74 1456.7,923.60 1457.0,922.47 1458.0,918.51 1459.0,915.39 1460.0,913.72 1460.3,913.60 1461.0,914.57 1462.0,918.93 1462.5,921.99 1463.0,925.38 1463.5,928.92 1464.0,932.40 1464.0,932.60 1464.5,936.43 1465.0,941.23 1465.5,946.54 1466.0,951.74 1466.3,955.19 1466.7,958.00 1467.0,959.91 1467.5,963.59 1468.0,967.10 1469.0,972.00 1469.4,972.60 1470.0,972.13 1471.0,969.41 1472.0,965.08 1473.0,960.05 1473.0,959.90 1473.5,957.14 1474.0,953.70 1474.5,949.59 1475.0,944.96 1475.4,940.82 1475.8,936.30 1476.0,934.32 1476.3,929.93 1476.6,924.84 1477.0,919.53 1477.3,914.40 1477.6,909.10 1477.8,906.14 1478.0,903.00 1478.3,897.41 1478.6,891.45 1479.0,885.40 1479.2,881.38 1479.4,877.00 1479.6,873.01 1479.8,868.77 1480.0,864.33 1480.2,859.49 1480.4,854.53 1480.6,849.49 1480.8,844.43 1481.0,839.39 1481.2,833.45 1481.5,827.46 1481.7,822.00 1482.0,816.11 1482.2,810.76 1482.5,805.53 1482.7,800.40 1483.0,795.38 1483.2,791.24 1483.4,787.00 1483.7,781.61 1484.0,776.01 1484.3,769.78 1484.6,763.71 1485.0,758.34 1485.2,755.00 1485.6,749.88 1486.0,744.92 1486.5,739.38 1487.0,735.20 1487.0,735.00 1488.0,729.04 1489.0,726.00 1489.0,726.00 1490.0,728.88 1491.0,734.82 1491.0,735.00 1491.5,738.65 1492.0,743.11 1492.5,747.00 1493.0,749.22 1494.0,752.77 1495.0,755.75 1496.0,759.41 1496.1,760.00 1497.0,764.61 1497.5,767.70 1498.0,771.08 1498.4,774.48 1498.9,778.00 1499.0,778.56 1499.5,782.93 1500.0,787.86 1500.5,793.11 1501.0,798.46 1501.3,801.73 1501.6,805.00 1502.0,808.69 1502.5,813.67 1503.0,818.64 1503.5,823.63 1504.0,828.65 1504.3,832.00 1504.6,835.40 1505.0,838.62 1505.5,843.48 1506.0,848.47 1506.5,853.79 1507.0,859.63 1507.0,860.00 1507.3,864.38 1507.7,869.51 1508.0,874.74 1508.2,879.24 1508.5,883.30 1508.8,887.00 1509.0,889.03 1509.5,894.80 1510.0,899.97 1510.6,905.00 1511.0,907.35 1512.0,913.26 1513.0,916.97 1513.4,917.40 1514.0,916.43 1515.0,911.38 1515.4,908.42 1516.0,903.27 1516.3,899.04 1516.6,894.11 1517.0,888.99 1517.2,884.88 1517.5,880.67 1517.7,876.19 1518.0,871.18 1518.2,865.95 1518.5,860.61 1518.7,855.29 1519.0,850.10 1519.0,848.68 1519.3,844.14 1519.5,839.67 1519.7,835.05 1520.0,830.60 1520.2,826.28 1520.4,821.64 1520.6,817.06 1520.9,812.28 1521.0,809.80 1521.2,805.12 1521.4,800.26 1521.6,795.26 1521.8,790.15 1522.0,784.99 1522.2,779.03 1522.4,772.85 1522.7,767.03 1523.0,759.41 1523.2,754.25 1523.4,749.07 1523.6,743.90 1523.8,738.80 1524.0,733.79 1524.1,729.65 1524.3,725.40 1524.5,721.54 1524.7,716.20 1525.0,710.89 1525.2,705.48 1525.5,700.27 1525.7,695.32 1526.0,690.73 1526.3,685.35 1526.6,680.09 1527.0,675.00 1527.5,668.27 1528.0,664.10 1528.1,663.59 1529.0,661.95 1529.9,661.23 1530.0,661.23 1531.0,661.23 1532.0,661.23 1533.0,661.23 1533.6,661.23 1534.0,661.06 1535.0,659.44 1536.0,656.73 1536.3,655.78 1537.0,652.74 1537.5,649.61 1538.0,645.94 1538.5,641.95 1539.0,637.87 1539.0,637.63 1539.5,633.04 1540.0,627.62 1540.4,623.14 1540.8,619.52 1541.0,618.40 1541.5,615.12 1542.0,612.15 1543.0,607.21 1543.5,605.01 1544.0,603.49 1545.0,600.45 1546.0,598.21 1546.2,597.75 1547.0,596.72 1548.0,595.53 1549.0,595.03 1550.0,595.71 1551.0,597.24 1552.0,598.85 1552.6,599.57 1553.0,599.85 1554.0,600.49 1555.0,601.02 1556.0,601.54 1557.0,602.17 1557.1,602.28 1558.0,602.89 1559.0,603.63 1560.0,604.53 1561.0,605.73 1561.7,606.82 1562.0,607.50 1563.0,611.59 1564.0,617.15 1564.4,619.52 1565.0,622.90 1565.5,626.10 1566.0,629.49 1566.5,633.02 1567.0,636.63 1567.1,637.65 1567.5,640.89 1568.0,644.30 1568.5,648.40 1569.0,652.54 1569.4,656.04 1569.8,659.41 1570.0,660.49 1570.5,664.36 1571.0,668.22 1571.5,671.98 1572.0,675.55 1572.5,679.36 1573.0,682.15 1573.5,685.70 1574.0,689.10 1575.0,693.57 1575.3,693.88 1576.0,691.60 1576.5,687.85 1577.0,683.20 1577.5,678.36 1578.0,674.10 1578.0,673.96 1578.5,670.14 1579.0,666.08 1579.5,661.97 1580.0,658.23 1580.7,654.00 1581.0,652.88 1582.0,648.82 1583.0,646.17 1583.4,645.82 1584.0,646.17 1585.0,648.34 1586.0,651.73 1587.0,655.46 1587.1,655.79 1588.0,659.63 1589.0,664.81 1590.0,670.26 1590.7,673.93 1591.0,675.37 1592.0,681.32 1593.0,686.69 1594.0,688.97 1594.0,688.97 1595.0,684.96 1595.5,681.23 1596.0,677.40 1596.1,676.28 1596.5,673.35 1597.0,670.19 1597.5,666.22 1598.0,662.06 1598.4,658.31 1598.8,654.53 1599.0,653.46 1599.5,648.44 1600.0,642.95 1600.5,637.58 1601.0,632.92 1601.6,629.13 1602.0,627.50 1603.0,623.97 1604.0,622.00 1604.3,621.86 1605.0,623.36 1605.5,626.12 1606.0,629.94 1606.5,634.51 1607.0,639.55 1607.0,639.96 1607.3,644.24 1607.7,650.13 1608.0,657.06 1608.2,661.89 1608.4,666.98 1608.6,671.92 1608.8,676.32 1609.0,679.14 1609.2,684.27 1609.5,689.45 1609.7,694.62 1610.0,699.71 1610.2,704.09 1610.4,708.50 1610.6,712.52 1611.0,718.42 1611.3,724.25 1611.6,730.00 1612.0,735.16 1612.2,738.66 1612.5,741.63 1613.0,747.38 1613.5,752.69 1614.0,757.43 1614.5,761.38 1615.0,764.30 1615.2,765.17 1616.0,767.84 1617.0,770.18 1617.5,770.59 1618.0,769.88 1619.0,764.15 1619.3,761.12 1619.7,757.90 1620.0,755.01 1620.3,749.94 1620.6,743.66 1621.0,737.16 1621.2,731.99 1621.5,727.13 1621.7,723.49 1622.0,719.49 1622.3,713.70 1622.6,708.09 1623.0,703.48 1623.3,699.84 1624.0,695.55 1625.0,690.71 1625.5,689.88 1626.0,690.38 1627.0,694.30 1627.9,699.84 1628.0,700.58 1628.3,703.97 1628.6,708.63 1629.0,713.83 1629.3,719.73 1629.7,725.30 1630.0,729.38 1630.3,734.25 1630.6,739.33 1631.0,744.32 1631.2,748.44 1631.5,752.45 1631.7,756.23 1632.0,759.94 1632.3,765.33 1632.6,770.89 1633.0,776.19 1633.3,781.42 1633.6,786.43 1634.0,791.49 1634.3,796.41 1634.6,801.13 1635.0,805.17 1635.1,806.89 1635.5,811.13 1636.0,815.08 1636.5,818.91 1636.9,821.37 1637.0,821.48 1637.8,823.56 1638.0,823.51 1639.0,820.07 1639.7,815.95 1640.0,813.53 1640.3,810.03 1640.6,805.73 1641.0,801.18 1641.2,797.68 1641.5,794.12 1641.7,790.82 1642.0,787.20 1642.3,782.22 1642.6,776.96 1643.0,771.84 1643.3,766.96 1643.6,761.97 1644.0,757.11 1644.3,752.35 1644.6,747.26 1645.0,742.01 1645.1,739.82 1645.4,734.61 1645.7,729.00 1646.0,723.11 1646.2,718.11 1646.5,713.09 1646.7,708.31 1646.9,703.43 1647.0,702.43 1647.2,697.31 1647.5,692.10 1647.7,686.87 1648.0,681.70 1648.2,676.68 1648.5,671.70 1648.7,667.23 1649.0,663.27 1649.3,658.23 1649.6,653.34 1650.0,648.65 1650.3,644.41 1650.5,639.92 1650.8,636.37 1651.0,632.55 1651.2,627.73 1651.5,622.74 1651.7,617.68 1652.0,612.69 1652.3,606.40 1652.6,600.52 1653.0,595.69 1653.3,592.27 1654.0,586.30 1654.5,582.81 1655.0,579.77 1656.0,574.26 1656.0,574.15 1657.0,569.13 1658.0,564.58 1658.7,561.46 1659.0,560.33 1660.0,555.53 1661.0,551.99 1661.4,551.50 1662.0,553.06 1662.5,556.69 1663.0,561.65 1663.5,567.17 1664.0,572.48 1664.2,574.19 1664.6,578.02 1665.0,582.02 1665.5,587.07 1666.0,592.21 1666.4,596.83 1666.9,601.39 1667.0,602.39 1667.5,607.46 1668.0,612.60 1668.5,617.75 1669.0,622.86 1669.5,627.87 1670.0,632.74 1670.5,637.68 1671.0,642.07 1671.5,646.88 1672.0,651.61 1672.5,656.08 1673.0,660.06 1673.8,664.85 1674.0,665.84 1675.0,670.19 1675.9,672.12 1676.0,672.11 1677.0,666.28 1677.5,660.67 1678.0,654.49 1678.3,650.32 1678.7,646.71 1679.0,643.70 1679.5,638.75 1680.0,633.73 1680.5,628.68 1681.0,623.63 1681.4,619.51 1681.7,616.38 1682.0,613.17 1682.5,607.46 1683.0,601.91 1683.5,596.97 1684.0,593.09 1684.1,592.31 1685.0,587.52 1686.0,582.95 1687.0,580.61 1687.2,580.52 1688.0,581.56 1689.0,585.15 1690.0,589.98 1690.5,592.32 1691.0,595.19 1691.5,598.52 1692.0,602.16 1692.5,605.81 1693.0,609.22 1693.2,610.45 1694.0,615.51 1694.5,618.68 1695.0,621.53 1695.9,624.96 1696.0,625.12 1697.0,626.85 1698.0,627.67 1698.1,627.68 1699.0,626.09 1700.0,621.82 1700.4,619.54 1701.0,615.78 1701.5,611.01 1702.0,605.48 1702.5,599.68 1703.0,594.11 1703.2,592.26 1703.6,588.10 1704.0,583.87 1704.5,578.69 1705.0,573.61 1705.4,569.22 1705.9,565.07 1706.0,564.17 1706.5,559.67 1707.0,555.21 1707.5,550.99 1708.0,547.19 1708.6,543.32 1709.0,541.39 1710.0,537.08 1711.0,533.55 1711.3,532.45 1712.0,530.27 1713.0,527.20 1714.0,525.26 1714.0,525.20 1715.0,524.39 1716.0,523.74 1717.0,523.41 1717.3,523.39 1718.0,524.05 1719.0,526.89 1719.5,528.83 1720.0,531.95 1720.5,536.82 1721.0,542.86 1721.3,546.92 1721.6,551.99 1722.0,558.22 1722.2,563.21 1722.5,568.58 1722.7,574.25 1723.0,580.17 1723.1,583.32 1723.3,587.74 1723.5,592.91 1723.6,598.17 1723.8,604.03 1724.0,609.73 1724.1,615.17 1724.3,620.25 1724.4,625.58 1724.6,630.75 1724.8,635.36 1724.9,639.98 1725.0,641.63 1725.2,646.95 1725.4,652.06 1725.6,657.01 1725.8,661.87 1726.0,666.69 1726.2,671.30 1726.4,676.23 1726.6,681.27 1726.8,686.60 1727.0,691.70 1727.2,697.02 1727.4,702.29 1727.6,707.46 1727.8,712.49 1728.0,716.23 1728.2,722.00 1728.5,727.65 1728.7,733.21 1729.0,738.67 1729.2,743.84 1729.5,748.93 1729.7,754.33 1730.0,759.61 1730.2,764.60 1730.5,769.53 1730.7,774.45 1731.0,779.37 1731.3,785.12 1731.5,790.02 1731.7,794.84 1732.0,799.92 1732.2,805.16 1732.5,810.26 1732.7,815.12 1733.0,819.64 1733.1,821.33 1733.4,826.36 1733.7,831.25 1734.0,835.58 1734.3,839.50 1735.0,844.13 1735.8,847.14 1736.0,846.98 1737.0,841.55 1737.6,835.86 1738.0,831.45 1738.2,827.35 1738.5,822.65 1738.7,817.57 1739.0,812.34 1739.2,807.59 1739.4,803.26 1739.7,797.87 1740.0,792.54 1740.2,787.53 1740.5,782.46 1740.7,777.37 1741.0,772.30 1741.2,767.06 1741.5,762.06 1741.7,757.26 1742.0,752.26 1742.2,747.26 1742.5,742.26 1742.7,737.26 1743.0,732.26 1743.0,730.66 1743.3,725.93 1743.5,721.02 1743.7,716.05 1744.0,711.11 1744.3,704.92 1744.6,699.41 1744.9,694.45 1745.0,692.81 1745.3,687.98 1745.6,683.32 1746.0,679.23 1746.3,675.54 1746.7,672.62 1747.0,670.67 1748.0,664.83 1748.8,662.67 1749.0,662.73 1750.0,666.88 1750.5,670.51 1751.0,674.44 1751.2,676.27 1751.6,679.45 1752.0,683.20 1752.5,688.56 1753.0,693.86 1753.0,694.37 1753.5,699.17 1754.0,703.87 1754.4,708.17 1754.8,712.57 1755.0,713.89 1755.5,719.23 1756.0,724.53 1756.3,727.83 1756.7,730.67 1757.0,733.09 1757.5,736.72 1758.0,739.72 1758.5,741.58 1759.0,742.66 1760.0,744.36 1761.0,745.17 1761.2,745.20 1762.0,745.20 1763.0,745.20 1764.0,745.20 1764.8,745.20 1765.0,745.23 1766.0,746.56 1767.0,749.09 1767.5,750.63 1768.0,751.95 1769.0,755.84 1770.0,760.28 1770.3,761.54 1771.0,764.72 1772.0,769.44 1773.0,774.19 1773.0,774.24 1774.0,779.09 1775.0,783.92 1775.7,786.93 1776.0,787.94 1777.0,791.71 1778.0,794.50 1778.4,795.08 1779.0,795.42 1780.0,795.86 1780.8,795.99 1781.0,795.89 1782.0,793.03 1782.5,790.58 1783.0,787.96 1783.5,783.83 1784.0,779.27 1784.3,776.09 1785.0,770.89 1785.5,766.75 1786.0,762.88 1786.2,761.54 1787.0,755.69 1788.0,750.69 1789.0,748.88 1790.0,747.99 1790.2,747.97 1791.0,748.66 1792.0,750.92 1792.5,752.49 1793.0,754.72 1793.5,758.33 1794.0,762.45 1794.3,765.22 1795.0,770.36 1795.5,774.48 1796.0,778.49 1796.1,779.70 1796.5,782.98 1797.0,786.32 1797.5,789.84 1797.9,792.39 1798.0,792.51 1799.0,796.19 1800.0,798.83 1800.7,799.66 1801.0,799.80 1802.0,800.18 1803.0,800.44 1804.0,800.56 1804.3,800.57 1805.0,800.57 1806.0,800.57 1807.0,800.57 1807.9,800.57 1808.0,800.59 1808.5,802.56 1809.0,806.77 1809.3,810.55 1809.7,814.13 1810.0,816.27 1810.5,821.15 1811.0,826.35 1811.5,832.33 1812.0,836.53 1812.5,841.53 1813.0,846.53 1813.4,850.43 1813.7,853.43 1814.0,856.53 1814.5,861.53 1815.0,866.53 1815.2,868.63 1815.6,872.66 1816.0,876.63 1816.5,881.67 1817.0,886.54 1817.0,886.73 1817.5,891.55 1818.0,896.37 1818.4,900.02 1818.8,903.03 1819.0,904.07 1820.0,909.72 1820.6,911.21 1821.0,911.21 1822.0,911.21 1822.4,911.21 1823.0,910.39 1824.0,906.18 1824.2,904.84 1825.0,900.48 1825.5,896.71 1826.0,892.83 1826.1,892.16 1826.5,888.51 1827.0,884.74 1827.4,881.03 1827.9,877.67 1828.0,876.98 1828.5,873.35 1829.0,869.95 1829.7,866.76 1830.0,866.14 1831.0,864.30 1832.0,863.26 1832.4,863.15 1833.0,863.57 1834.0,865.75 1835.0,868.27 1835.1,868.59 1836.0,870.17 1837.0,872.00 1838.0,873.72 1838.8,874.94 1839.0,875.25 1840.0,876.69 1841.0,878.04 1842.0,879.20 1842.9,880.00 1843.0,880.07 1844.0,880.64 1845.0,881.07 1846.0,881.46 1847.0,881.94 1847.7,882.41 1848.0,882.63 1849.0,883.83 1850.0,885.34 1851.0,886.80 1851.3,887.25 1852.0,887.93 1853.0,888.90 1854.0,889.84 1855.0,890.88 1856.0,892.04 1857.0,893.28 1858.0,894.70 1858.6,895.72 1859.0,896.40 1860.0,898.58 1861.0,901.15 1861.6,902.97 1862.0,904.00 1863.0,907.28 1864.0,911.15 1864.0,911.44 1865.0,916.17 1865.8,921.10 1866.0,921.74 1867.0,927.07 1867.7,930.81 1868.0,932.44 1869.0,937.94 1869.5,940.46 1870.0,942.65 1871.0,946.62 1871.3,947.70 1872.0,949.89 1873.0,952.36 1873.1,952.55 1874.0,953.51 1875.0,954.24 1875.5,954.37 1876.0,954.35 1877.0,954.24 1878.0,954.09 1879.0,954.01 1879.2,954.00 1880.0,954.22 1881.0,954.95 1882.0,955.96 1882.2,956.18 1883.0,957.37 1884.0,959.52 1884.6,961.00 1885.0,961.95 1886.0,964.75 1887.0,968.11 1887.0,968.26 1888.0,972.32 1888.8,976.75 1889.0,977.56 1889.5,980.84 1890.0,984.35 1890.3,986.42 1891.0,990.58 1891.8,996.08 1892.0,996.95 1892.5,1000.98 1893.0,1005.08 1893.1,1005.76 1893.5,1009.12 1894.0,1012.25 1894.3,1014.23 1895.0,1018.49 1895.5,1021.49 1896.0,1024.62 1896.7,1028.74 1897.0,1030.01 1897.9,1032.97 1898.0,1033.03 1899.0,1033.66 1899.7,1033.81 1900.0,1033.78 1901.0,1033.35 1901.5,1032.97 1902.0,1032.49 1903.0,1030.70 1903.3,1029.93 1904.0,1028.52 1905.0,1025.70 1905.2,1025.11 1906.0,1021.60 1907.0,1016.66 1907.0,1016.61 1908.0,1011.99 1908.8,1008.17 1909.0,1007.20 1910.0,1002.19 1910.0,1002.12 1911.0,998.97 1911.8,997.29 1912.0,997.10 1913.0,996.28 1914.0,995.66 1914.2,995.48 1915.0,994.95 1916.0,994.27 1917.0,993.38 1917.2,993.06 1918.0,991.72 1919.0,989.07 1919.1,988.82 1920.0,985.81 1920.9,982.78 1921.0,982.50 1922.0,979.91 1923.0,977.52 1923.3,976.73 1924.0,975.03 1925.0,972.53 1925.7,970.68 1926.0,970.03 1927.0,967.53 1928.0,965.03 1928.1,964.63 1929.0,962.48 1930.0,959.94 1930.5,958.61 1931.0,957.65 1932.0,955.60 1932.4,954.97 1933.0,954.09 1934.0,953.02 1934.2,952.91 1935.0,952.61 1936.0,952.36 1936.6,952.31 1937.0,952.31 1938.0,952.31 1939.0,952.31 1940.0,952.31 1940.8,952.31 1941.0,952.31 1942.0,952.31 1943.0,952.31 1944.0,952.31 1945.0,952.31 1946.0,952.31 1947.0,952.31 1947.8,952.31"/>
<polyline id="c-purple" points="100.0,433.89 101.0,433.89 102.0,433.89 103.0,433.89 104.0,433.89 105.0,433.89 106.0,433.89 107.0,433.89 108.0,433.89 109.0,433.89 110.0,433.89 111.0,433.89 112.0,433.89 113.0,433.89 114.0,433.89 115.0,433.89 116.0,433.89 116.0,433.89 117.0,433.98 118.0,434.22 119.0,434.54 120.0,434.89 121.0,435.23 121.9,435.49 122.0,435.49 123.0,435.70 124.0,435.90 125.0,436.08 126.0,436.26 127.0,436.43 128.0,436.59 129.0,436.74 129.9,436.89 130.0,436.89 131.0,437.02 132.0,437.14 133.0,437.24 134.0,437.34 135.0,437.45 136.0,437.57 137.0,437.72 137.9,437.88 138.0,437.89 139.0,438.16 140.0,438.53 141.0,438.97 142.0,439.43 143.0,439.89 143.9,440.28 144.0,440.30 145.0,440.69 146.0,441.07 147.0,441.44 148.0,441.81 149.0,442.16 149.9,442.48 150.0,442.50 151.0,442.87 152.0,443.27 153.0,443.65 154.0,443.98 155.0,444.20 155.9,444.27 156.0,444.27 157.0,444.27 158.0,444.27 159.0,444.27 160.0,444.27 161.0,444.27 161.9,444.27 162.0,444.28 163.0,444.50 164.0,445.00 165.0,445.66 166.0,446.34 166.9,446.87 167.0,446.92 168.0,447.51 169.0,448.17 170.0,448.81 171.0,449.37 172.0,449.74 172.9,449.87 173.0,449.86 174.0,449.79 175.0,449.63 176.0,449.46 177.0,449.32 177.8,449.27 178.0,449.27 179.0,449.39 180.0,449.65 181.0,449.95 182.0,450.18 182.8,450.26 183.0,450.26 184.0,450.19 185.0,450.02 186.0,449.80 187.0,449.57 188.0,449.38 188.8,449.27 189.0,449.25 190.0,449.19 191.0,449.14 192.0,449.10 193.0,449.06 194.0,449.01 195.0,448.95 195.8,448.87 196.0,448.85 197.0,448.47 198.0,447.85 199.0,447.17 200.0,446.64 200.8,446.47 201.0,446.47 202.0,446.52 203.0,446.63 204.0,446.75 205.0,446.84 205.8,446.87 206.0,446.87 207.0,446.79 208.0,446.63 209.0,446.45 210.0,446.32 210.8,446.27 211.0,446.27 212.0,446.34 213.0,446.49 214.0,446.71 215.0,446.99 215.8,447.27 216.0,447.34 217.0,448.07 218.0,449.24 219.0,450.65 219.8,451.86 220.0,452.13 221.0,453.83 222.0,455.81 223.0,457.99 223.8,459.84 224.0,460.29 225.0,462.92 226.0,465.82 227.0,468.70 227.8,470.84 228.0,471.31 229.0,473.92 230.0,476.46 231.0,478.61 231.8,479.82 232.0,480.05 233.0,481.16 234.0,481.98 234.8,482.22 235.0,482.21 236.0,482.01 237.0,481.61 237.8,481.22 238.0,481.10 239.0,480.16 240.0,478.79 241.0,477.16 241.8,475.82 242.0,475.45 243.0,473.21 244.0,470.62 245.0,468.23 245.8,466.84 246.0,466.54 247.0,465.28 248.0,464.22 249.0,463.36 249.8,462.84 250.0,462.72 251.0,462.15 252.0,461.66 253.0,461.33 253.7,461.25 254.0,461.25 255.0,461.30 256.0,461.39 257.0,461.51 258.0,461.64 259.0,461.75 260.0,461.83 260.7,461.85 261.0,461.83 262.0,461.55 263.0,461.01 264.0,460.34 264.7,459.85 265.0,459.67 266.0,458.69 267.0,457.74 267.7,457.45 268.0,457.47 269.0,457.78 270.0,458.29 271.0,458.72 271.7,458.85 272.0,458.85 273.0,458.78 274.0,458.66 275.0,458.51 276.0,458.37 277.0,458.28 277.7,458.25 278.0,458.26 279.0,458.35 280.0,458.54 281.0,458.79 282.0,459.06 283.0,459.30 283.7,459.45 284.0,459.50 285.0,459.64 286.0,459.76 287.0,459.89 288.0,460.07 288.7,460.25 289.0,460.35 290.0,461.01 291.0,461.99 292.0,463.10 292.7,463.84 293.0,464.14 294.0,465.28 295.0,466.47 296.0,467.59 296.7,468.23 297.0,468.48 298.0,469.35 299.0,470.19 300.0,470.89 301.0,471.33 301.7,471.43 302.0,471.43 303.0,471.43 304.0,471.43 305.0,471.43 306.0,471.43 307.0,471.43 308.0,471.43 308.7,471.43 309.0,471.47 310.0,472.05 311.0,473.15 312.0,474.52 313.0,475.95 313.6,476.83 314.0,477.21 315.0,478.51 316.0,479.90 317.0,481.31 318.0,482.70 319.0,484.01 319.6,484.81 320.0,485.19 321.0,486.37 322.0,487.54 323.0,488.65 324.0,489.62 325.0,490.41 325.6,490.80 326.0,490.97 327.0,491.36 328.0,491.68 329.0,491.95 330.0,492.23 331.0,492.55 331.6,492.80 332.0,492.95 333.0,493.46 334.0,494.04 335.0,494.65 336.0,495.27 337.0,495.85 337.6,496.19 338.0,496.37 339.0,496.84 340.0,497.26 341.0,497.68 342.0,498.08 343.0,498.50 344.0,498.95 345.0,499.45 345.6,499.79 346.0,500.00 347.0,500.63 348.0,501.32 349.0,502.06 350.0,502.84 351.0,503.64 352.0,504.46 353.0,505.28 353.6,505.78 354.0,506.10 355.0,507.06 356.0,508.13 357.0,509.24 358.0,510.32 359.0,511.28 360.0,512.07 361.0,512.60 361.6,512.77 362.0,512.84 363.0,512.98 364.0,513.09 365.0,513.18 366.0,513.26 367.0,513.33 367.6,513.37 368.0,513.40 369.0,513.45 370.0,513.50 371.0,513.54 372.0,513.57 373.0,513.62 374.0,513.66 375.0,513.73 375.6,513.77 376.0,513.80 377.0,513.91 378.0,514.05 379.0,514.22 380.0,514.41 381.0,514.63 381.6,514.77 382.0,514.89 383.0,515.34 384.0,515.90 385.0,516.49 386.0,517.00 387.0,517.31 387.5,517.36 388.0,517.35 389.0,517.22 390.0,516.99 391.0,516.72 392.0,516.45 393.0,516.24 393.5,516.17 394.0,516.12 395.0,516.02 396.0,515.94 397.0,515.86 398.0,515.80 399.0,515.77 399.5,515.77 400.0,515.79 401.0,515.98 402.0,516.30 403.0,516.67 404.0,517.03 405.0,517.29 405.5,517.36 406.0,517.40 407.0,517.48 408.0,517.56 409.0,517.62 410.0,517.67 411.0,517.72 412.0,517.75 413.0,517.76 413.5,517.76 414.0,517.74 415.0,517.59 416.0,517.32 417.0,516.99 418.0,516.63 419.0,516.31 419.5,516.17 420.0,516.04 421.0,515.74 422.0,515.43 423.0,515.15 424.0,514.92 425.0,514.79 425.5,514.77 426.0,514.78 427.0,514.86 428.0,515.00 429.0,515.19 430.0,515.41 431.0,515.65 431.5,515.77 432.0,515.90 433.0,516.23 434.0,516.63 435.0,517.07 436.0,517.52 437.0,517.96 437.5,518.16 438.0,518.38 439.0,518.89 440.0,519.42 441.0,519.86 442.0,520.12 442.5,520.16 443.0,520.15 444.0,520.07 445.0,519.93 446.0,519.76 447.0,519.57 448.0,519.38 449.0,519.22 449.4,519.16 450.0,519.10 451.0,518.97 452.0,518.83 453.0,518.70 454.0,518.58 455.0,518.48 456.0,518.41 457.0,518.37 457.4,518.36 458.0,518.36 459.0,518.36 460.0,518.36 461.0,518.36 462.0,518.36 463.0,518.36 464.0,518.36 465.0,518.36 466.0,518.36 467.0,518.36 467.4,518.36 468.0,518.39 469.0,518.55 470.0,518.85 471.0,519.23 472.0,519.68 473.0,520.15 473.4,520.36 474.0,520.65 475.0,521.27 476.0,522.01 477.0,522.85 478.0,523.76 479.0,524.73 480.0,525.72 480.0,525.75 481.0,526.77 482.0,527.90 483.0,529.10 484.0,530.39 485.0,531.73 486.0,533.14 487.0,534.60 488.0,536.11 489.0,537.66 490.0,539.24 491.0,540.85 492.0,542.48 493.0,544.12 494.0,545.78 495.0,547.43 496.0,549.07 497.0,550.71 498.0,552.32 499.0,553.91 500.0,555.47 501.0,556.99 502.0,558.47 503.0,559.89 503.1,560.00 504.0,561.25 505.0,562.55 506.0,563.82 507.0,565.10 508.0,566.40 509.0,567.78 509.9,569.07 510.0,569.25 511.0,570.79 512.0,572.39 513.0,574.06 514.0,575.84 515.0,577.75 515.9,579.64 516.0,579.81 517.0,582.14 518.0,584.73 519.0,587.51 520.0,590.40 520.4,591.75 521.0,593.38 522.0,596.60 523.0,599.92 524.0,603.11 524.2,603.84 525.0,606.09 526.0,608.97 527.0,611.74 528.0,614.37 528.0,614.40 529.0,616.90 530.0,619.35 531.0,621.69 532.0,623.87 532.5,624.99 533.0,625.87 534.0,627.75 535.0,629.53 536.0,631.21 537.0,632.79 537.8,634.06 538.0,634.30 539.0,635.83 540.0,637.37 541.0,638.80 542.0,639.97 543.0,640.79 543.1,640.86 544.0,641.30 545.0,641.75 546.0,642.11 547.0,642.32 547.6,642.37 548.0,642.34 549.0,641.99 550.0,641.32 551.0,640.46 552.0,639.53 552.2,639.34 553.0,638.48 554.0,637.11 555.0,635.51 556.0,633.80 556.7,632.54 557.0,632.07 558.0,630.12 559.0,628.00 560.0,625.89 561.0,623.94 561.2,623.48 562.0,622.20 563.0,620.49 564.0,618.90 565.0,617.53 565.8,616.67 566.0,616.49 567.0,615.55 568.0,614.69 569.0,614.03 570.0,613.68 570.3,613.65 571.0,613.76 572.0,614.30 573.0,615.19 574.0,616.33 574.8,617.44 575.0,617.62 576.0,619.62 577.0,622.45 578.0,625.77 578.6,628.00 579.0,629.32 580.0,633.62 581.0,638.40 581.6,641.63 582.0,643.22 583.0,648.26 584.0,653.36 584.7,656.73 585.0,658.22 586.0,663.08 587.0,667.61 587.7,670.32 588.0,671.32 589.0,674.70 590.0,677.44 590.7,678.64 591.0,678.90 592.0,679.80 593.0,680.47 594.0,680.85 594.5,680.91 595.0,680.82 596.0,680.22 597.0,679.25 598.0,678.18 598.3,677.88 599.0,677.11 600.0,675.81 601.0,674.39 602.0,672.97 603.0,671.70 603.5,671.08 604.0,670.67 605.0,669.64 606.0,668.68 607.0,667.88 608.0,667.39 608.4,667.30 609.0,667.23 610.0,667.13 611.0,667.06 612.0,667.01 613.0,666.97 614.0,666.94 615.0,666.91 616.0,666.88 617.0,666.84 618.0,666.78 619.0,666.71 620.0,666.61 620.5,666.55 621.0,666.42 622.0,665.84 623.0,664.90 624.0,663.67 625.0,662.22 626.0,660.62 626.5,659.74 627.0,658.82 628.0,656.10 629.0,652.78 630.0,649.35 631.0,646.31 631.0,646.15 632.0,643.71 633.0,641.21 634.0,638.86 635.0,636.72 635.6,635.56 636.0,634.84 637.0,633.14 638.0,631.58 639.0,630.12 640.0,628.73 641.0,627.37 641.6,626.50 642.0,626.02 643.0,624.78 644.0,623.62 645.0,622.48 646.0,621.28 647.0,619.96 647.7,618.94 648.0,618.43 649.0,616.49 650.0,614.31 651.0,612.13 652.0,610.23 652.2,609.88 653.0,608.69 654.0,607.25 655.0,605.92 656.0,604.68 657.0,603.56 658.0,602.56 658.2,602.31 659.0,601.65 660.0,600.74 661.0,599.86 662.0,599.05 663.0,598.32 664.0,597.72 665.0,597.26 665.8,597.03 666.0,596.99 667.0,596.79 668.0,596.62 669.0,596.47 670.0,596.36 671.0,596.29 671.8,596.27 672.0,596.27 673.0,596.39 674.0,596.65 675.0,597.04 676.0,597.51 677.0,598.04 677.9,598.54 678.0,598.59 679.0,599.29 680.0,600.22 681.0,601.29 682.0,602.43 683.0,603.57 683.9,604.59 684.0,604.63 685.0,605.67 686.0,606.77 687.0,607.87 688.0,608.92 689.0,609.85 690.0,610.63 691.0,611.29 692.0,611.92 693.0,612.51 694.0,613.05 695.0,613.53 696.0,613.94 697.0,614.26 697.5,614.41 698.0,614.51 699.0,614.73 700.0,614.94 701.0,615.14 702.0,615.33 703.0,615.49 704.0,615.63 705.0,615.75 706.0,615.84 707.0,615.90 708.0,615.92 708.1,615.92 709.0,615.81 710.0,615.42 711.0,614.82 712.0,614.07 713.0,613.21 714.0,612.31 714.2,612.14 715.0,611.25 716.0,609.81 717.0,608.16 718.0,606.48 718.7,605.34 719.0,604.92 720.0,603.35 721.0,601.76 722.0,600.17 723.0,598.65 724.0,597.24 724.7,596.28 725.0,595.99 726.0,594.84 727.0,593.76 728.0,592.74 729.0,591.78 730.0,590.90 730.8,590.23 731.0,590.07 732.0,589.31 732.6,588.92 733.0,588.77 734.0,588.35 735.0,587.97 736.0,587.63 737.0,587.33 738.0,587.08 739.0,586.86 740.0,586.68 740.2,586.65 741.0,586.54 742.0,586.44 743.0,586.35 744.0,586.27 745.0,586.20 746.0,586.11 747.0,586.00 747.8,585.89 748.0,585.86 749.0,585.67 750.0,585.44 751.0,585.17 752.0,584.86 753.0,584.52 754.0,584.15 755.0,583.76 755.3,583.63 756.0,583.34 757.0,582.83 758.0,582.26 759.0,581.63 760.0,580.97 761.0,580.30 762.0,579.65 762.9,579.09 763.0,579.03 764.0,578.43 765.0,577.81 766.0,577.19 767.0,576.58 768.0,575.97 769.0,575.38 770.0,574.81 770.4,574.56 771.0,574.26 772.0,573.73 773.0,573.21 774.0,572.70 775.0,572.21 776.0,571.72 777.0,571.25 778.0,570.79 778.0,570.78 779.0,570.35 780.0,569.94 781.0,569.56 782.0,569.18 783.0,568.80 784.0,568.41 785.0,567.99 786.0,567.54 787.0,567.04 787.0,567.00 788.0,566.47 789.0,565.80 790.0,565.07 791.0,564.31 792.0,563.54 793.0,562.79 794.0,562.11 794.6,561.71 795.0,561.50 796.0,560.97 797.0,560.47 798.0,560.01 799.0,559.56 800.0,559.11 801.0,558.64 802.0,558.14 803.0,557.60 803.7,557.18 804.0,556.99 805.0,556.30 806.0,555.54 807.0,554.73 808.0,553.89 809.0,553.03 810.0,552.17 811.0,551.34 811.2,551.14 812.0,550.55 813.0,549.76 814.0,548.97 815.0,548.19 816.0,547.40 817.0,546.59 818.0,545.77 818.8,545.09 819.0,544.93 820.0,544.07 821.0,543.18 822.0,542.28 823.0,541.37 824.0,540.45 825.0,539.54 826.0,538.63 826.4,538.28 827.0,537.71 828.0,536.74 829.0,535.74 830.0,534.74 831.0,533.78 832.0,532.89 833.0,532.10 833.9,531.49 834.0,531.45 835.0,530.90 836.0,530.41 837.0,529.97 838.0,529.56 839.0,529.17 840.0,528.79 840.0,528.78 841.0,528.38 842.0,527.93 843.0,527.50 844.0,527.14 845.0,526.88 846.0,526.78 846.0,526.78 847.0,526.78 848.0,526.78 849.0,526.78 850.0,526.78 851.0,526.78 852.0,526.78 852.0,526.78 853.0,526.86 854.0,527.10 855.0,527.44 856.0,527.86 857.0,528.32 858.0,528.78 859.0,529.29 860.0,529.93 861.0,530.63 862.0,531.37 863.0,532.10 864.0,532.77 864.0,532.77 865.0,533.42 866.0,534.07 867.0,534.71 868.0,535.32 869.0,535.88 870.0,536.37 870.0,536.37 871.0,536.81 872.0,537.22 873.0,537.60 874.0,537.96 875.0,538.30 876.0,538.61 877.0,538.90 877.9,539.16 878.0,539.17 879.0,539.43 880.0,539.70 881.0,539.97 882.0,540.22 883.0,540.44 884.0,540.61 885.0,540.72 885.9,540.76 886.0,540.76 887.0,540.72 888.0,540.61 889.0,540.45 890.0,540.25 891.0,540.01 891.9,539.76 892.0,539.75 893.0,539.35 894.0,538.76 895.0,538.05 896.0,537.26 897.0,536.47 897.9,535.77 898.0,535.73 899.0,535.03 900.0,534.33 901.0,533.62 902.0,532.88 903.0,532.12 903.9,531.38 904.0,531.32 905.0,530.44 906.0,529.50 907.0,528.52 908.0,527.54 909.0,526.59 909.9,525.78 910.0,525.72 911.0,524.87 912.0,524.03 913.0,523.19 914.0,522.39 915.0,521.62 916.0,520.92 917.0,520.29 917.9,519.79 918.0,519.75 919.0,519.28 920.0,518.87 921.0,518.49 922.0,518.14 923.0,517.80 924.0,517.46 925.0,517.12 925.9,516.80 926.0,516.76 927.0,516.39 928.0,516.05 929.0,515.70 930.0,515.35 931.0,514.99 932.0,514.61 933.0,514.20 933.9,513.80 934.0,513.75 935.0,513.20 936.0,512.55 937.0,511.85 938.0,511.12 939.0,510.40 940.0,509.75 941.0,509.19 941.9,508.81 942.0,508.76 943.0,508.39 944.0,508.02 945.0,507.69 946.0,507.43 947.0,507.26 947.8,507.21 948.0,507.21 949.0,507.23 950.0,507.28 951.0,507.35 952.0,507.43 953.0,507.52 954.0,507.61 955.0,507.69 956.0,507.75 957.0,507.80 957.8,507.81 958.0,507.81 959.0,507.65 960.0,507.30 961.0,506.83 962.0,506.31 963.0,505.79 963.8,505.41 964.0,505.35 965.0,504.87 966.0,504.34 967.0,503.86 968.0,503.52 968.8,503.41 969.0,503.42 970.0,503.56 971.0,503.87 972.0,504.27 973.0,504.70 974.0,505.07 975.0,505.33 975.8,505.41 976.0,505.41 977.0,505.41 978.0,505.41 979.0,505.41 980.0,505.41 981.0,505.41 981.8,505.41 982.0,505.41 983.0,505.17 984.0,504.65 985.0,503.95 986.0,503.16 987.0,502.38 987.8,501.82 988.0,501.70 989.0,501.04 990.0,500.37 991.0,499.69 992.0,499.01 993.0,498.34 993.8,497.82 994.0,497.70 995.0,497.03 996.0,496.34 997.0,495.67 998.0,495.06 999.0,494.54 999.8,494.23 1000.0,494.16 1001.0,493.84 1002.0,493.55 1003.0,493.29 1004.0,493.08 1005.0,492.92 1005.8,492.83 1006.0,492.81 1007.0,492.75 1008.0,492.70 1009.0,492.67 1010.0,492.64 1011.0,492.60 1012.0,492.56 1013.0,492.50 1013.7,492.43 1014.0,492.40 1015.0,492.09 1016.0,491.55 1017.0,490.86 1018.0,490.10 1019.0,489.35 1019.7,488.84 1020.0,488.69 1021.0,488.04 1022.0,487.39 1023.0,486.72 1024.0,486.05 1025.0,485.36 1025.7,484.84 1026.0,484.66 1027.0,483.79 1028.0,482.84 1029.0,481.98 1030.0,481.40 1030.7,481.25 1031.0,481.28 1032.0,481.95 1033.0,483.06 1033.7,483.84 1034.0,484.11 1035.0,485.38 1036.0,486.51 1036.7,486.84 1037.0,486.83 1038.0,486.68 1039.0,486.41 1040.0,486.12 1041.0,485.90 1041.7,485.84 1042.0,485.85 1043.0,486.00 1044.0,486.27 1045.0,486.57 1046.0,486.78 1046.7,486.84 1047.0,486.80 1048.0,486.14 1049.0,484.95 1050.0,483.64 1050.7,482.85 1051.0,482.56 1052.0,481.41 1053.0,480.26 1054.0,479.45 1054.7,479.25 1055.0,479.28 1056.0,479.76 1057.0,480.58 1058.0,481.42 1058.7,481.85 1059.0,481.98 1060.0,482.35 1061.0,482.66 1062.0,482.94 1063.0,483.23 1064.0,483.57 1064.7,483.84 1065.0,483.99 1066.0,484.66 1067.0,485.46 1068.0,486.21 1069.0,486.72 1069.7,486.84 1070.0,486.84 1071.0,486.82 1072.0,486.79 1073.0,486.74 1074.0,486.68 1075.0,486.62 1076.0,486.56 1077.0,486.51 1078.0,486.47 1079.0,486.45 1079.6,486.44 1080.0,486.44 1081.0,486.51 1082.0,486.63 1083.0,486.80 1084.0,487.00 1085.0,487.21 1086.0,487.41 1087.0,487.59 1088.0,487.74 1089.0,487.82 1089.6,487.84 1090.0,487.83 1091.0,487.74 1092.0,487.57 1093.0,487.34 1094.0,487.09 1095.0,486.85 1096.0,486.64 1097.0,486.49 1097.6,486.44 1098.0,486.43 1099.0,486.39 1100.0,486.37 1101.0,486.36 1102.0,486.35 1103.0,486.33 1104.0,486.31 1105.0,486.27 1105.6,486.24 1106.0,486.14 1107.0,485.20 1108.0,483.63 1109.0,481.86 1109.6,480.84 1110.0,480.26 1111.0,478.47 1112.0,476.61 1113.0,475.00 1113.6,474.26 1114.0,473.88 1115.0,472.92 1116.0,472.04 1117.0,471.35 1118.0,470.94 1118.6,470.86 1119.0,470.86 1120.0,470.86 1121.0,470.86 1122.0,470.86 1123.0,470.86 1124.0,470.86 1125.0,470.86 1125.6,470.86 1126.0,470.90 1127.0,471.22 1128.0,471.78 1129.0,472.42 1130.0,473.01 1131.0,473.39 1131.6,473.46 1132.0,473.46 1133.0,473.42 1134.0,473.34 1135.0,473.24 1136.0,473.11 1137.0,472.96 1137.5,472.86 1138.0,472.77 1139.0,472.40 1140.0,471.88 1141.0,471.28 1142.0,470.67 1143.0,470.12 1143.5,469.87 1144.0,469.69 1145.0,469.25 1146.0,468.80 1147.0,468.40 1148.0,468.09 1149.0,467.90 1149.5,467.87 1150.0,467.89 1151.0,468.07 1152.0,468.39 1153.0,468.80 1154.0,469.23 1154.5,469.47 1155.0,469.67 1156.0,470.29 1157.0,470.99 1158.0,471.65 1159.0,472.13 1159.5,472.26 1160.0,472.32 1161.0,472.45 1162.0,472.56 1163.0,472.66 1164.0,472.73 1165.0,472.79 1166.0,472.84 1167.0,472.86 1167.5,472.86 1168.0,472.86 1169.0,472.85 1170.0,472.82 1171.0,472.78 1172.0,472.73 1173.0,472.67 1174.0,472.59 1175.0,472.51 1176.0,472.42 1177.0,472.32 1177.5,472.26 1178.0,472.19 1179.0,471.93 1180.0,471.57 1181.0,471.16 1182.0,470.75 1183.0,470.40 1183.5,470.27 1184.0,470.15 1185.0,469.91 1186.0,469.67 1187.0,469.44 1188.0,469.24 1189.0,469.07 1190.0,468.94 1191.0,468.88 1191.5,468.87 1192.0,468.87 1193.0,468.87 1194.0,468.87 1195.0,468.87 1196.0,468.87 1197.0,468.87 1198.0,468.87 1199.0,468.87 1199.5,468.87 1200.0,468.88 1201.0,469.01 1202.0,469.24 1203.0,469.55 1204.0,469.89 1205.0,470.25 1206.0,470.59 1207.0,470.89 1208.0,471.12 1209.0,471.25 1209.5,471.26 1210.0,471.26 1211.0,471.21 1212.0,471.14 1213.0,471.03 1214.0,470.92 1215.0,470.80 1216.0,470.69 1217.0,470.59 1218.0,470.51 1219.0,470.47 1219.4,470.46 1220.0,470.48 1221.0,470.58 1222.0,470.76 1223.0,470.98 1224.0,471.22 1225.0,471.46 1226.0,471.67 1227.0,471.82 1227.4,471.86 1228.0,471.90 1229.0,471.94 1230.0,472.00 1230.0,472.00 1231.0,472.21 1232.0,472.64 1233.0,473.21 1234.0,473.85 1235.0,474.48 1236.0,475.04 1236.3,475.20 1237.0,475.50 1238.0,475.97 1239.0,476.44 1240.0,476.89 1241.0,477.31 1242.0,477.68 1243.0,477.98 1244.0,478.19 1244.0,478.20 1245.0,478.34 1246.0,478.43 1247.0,478.51 1248.0,478.57 1249.0,478.65 1250.0,478.74 1251.0,478.88 1251.6,479.00 1252.0,479.11 1253.0,479.74 1254.0,480.67 1255.0,481.75 1255.4,482.20 1256.0,482.83 1257.0,484.09 1258.0,485.49 1259.0,486.96 1259.2,487.30 1260.0,488.56 1261.0,490.41 1262.0,492.18 1263.0,493.57 1263.0,493.60 1264.0,494.62 1265.0,495.59 1266.0,496.43 1267.0,497.08 1268.0,497.47 1268.1,497.50 1269.0,497.67 1270.0,497.84 1271.0,497.97 1272.0,498.06 1273.0,498.10 1273.2,498.10 1274.0,498.00 1275.0,497.62 1276.0,497.03 1277.0,496.35 1278.0,495.65 1278.2,495.50 1279.0,494.95 1280.0,494.11 1281.0,493.19 1282.0,492.26 1283.0,491.37 1283.3,491.10 1284.0,490.56 1285.0,489.76 1286.0,488.98 1287.0,488.24 1288.0,487.56 1288.4,487.30 1289.0,486.94 1290.0,486.27 1291.0,485.71 1292.0,485.41 1292.2,485.40 1293.0,485.62 1294.0,486.41 1294.8,487.30 1295.0,487.52 1296.0,489.66 1297.0,492.61 1297.3,493.60 1298.0,495.69 1299.0,499.23 1299.8,502.50 1300.0,503.20 1301.0,507.52 1302.0,512.62 1302.4,515.20 1303.0,519.46 1303.5,523.93 1304.0,528.65 1304.3,531.70 1304.6,534.77 1305.0,537.78 1305.5,542.43 1306.0,547.23 1306.2,549.50 1306.6,553.37 1307.0,557.47 1307.5,562.88 1308.0,568.37 1308.1,569.80 1308.5,574.60 1309.0,579.60 1309.5,585.34 1310.0,591.06 1310.0,591.40 1310.5,596.89 1311.0,602.22 1311.4,607.55 1311.9,613.00 1312.0,613.85 1312.3,617.76 1312.6,621.90 1313.0,626.40 1313.2,630.00 1313.5,634.87 1313.7,640.37 1314.0,646.65 1314.2,651.18 1314.3,655.49 1314.5,660.00 1314.7,664.03 1314.8,667.92 1315.0,672.18 1315.2,677.60 1315.4,683.07 1315.6,688.54 1315.8,693.94 1316.0,699.22 1316.0,700.00 1316.2,704.93 1316.4,710.13 1316.6,715.07 1316.8,720.24 1317.0,725.12 1317.2,730.18 1317.4,735.16 1317.6,740.02 1317.8,744.75 1318.0,749.33 1318.0,750.00 1318.2,755.33 1318.5,760.59 1318.7,765.98 1319.0,771.05 1319.2,776.22 1319.5,781.23 1319.7,786.09 1320.0,790.77 1320.2,795.59 1320.5,800.00 1320.7,803.99 1321.0,807.86 1321.3,813.35 1321.6,818.81 1322.0,823.73 1322.5,830.14 1323.0,834.79 1323.0,835.00 1323.5,838.26 1324.0,841.31 1325.0,845.50 1325.4,846.00 1326.0,845.22 1327.0,841.02 1328.0,835.18 1328.0,835.00 1328.5,831.56 1329.0,827.01 1329.5,821.68 1330.0,816.02 1330.5,810.43 1331.0,805.29 1331.0,805.00 1331.5,800.31 1332.0,795.37 1332.5,790.39 1333.0,785.72 1333.5,781.57 1334.0,778.17 1334.0,778.00 1335.0,772.32 1336.0,767.62 1336.8,766.10 1337.0,766.19 1338.0,769.70 1338.5,772.89 1339.0,776.66 1339.5,780.71 1340.0,784.76 1340.0,785.00 1340.5,789.28 1341.0,794.51 1341.3,798.40 1341.6,802.63 1342.0,806.85 1342.3,811.13 1342.6,815.50 1343.0,819.63 1343.0,820.00 1343.3,824.09 1343.7,828.60 1344.0,833.09 1344.3,837.71 1344.6,842.30 1345.0,846.43 1345.5,852.00 1346.0,856.40 1346.5,861.02 1347.0,864.81 1347.7,867.30 1348.0,867.01 1349.0,862.24 1349.5,858.71 1350.0,855.20 1350.0,855.00 1350.5,851.56 1351.0,847.56 1351.5,843.17 1352.0,838.67 1352.0,838.40 1352.5,834.10 1353.0,829.67 1353.5,825.04 1354.0,820.20 1354.5,815.07 1355.0,809.57 1355.3,805.70 1355.6,801.21 1356.0,796.29 1356.3,791.03 1356.6,785.53 1357.0,780.36 1357.2,776.42 1357.5,773.00 1358.0,767.17 1358.5,761.15 1359.0,755.85 1359.6,751.00 1360.0,748.95 1361.0,744.14 1362.0,742.00 1362.0,742.00 1363.0,742.93 1364.0,745.22 1365.0,747.92 1365.0,748.00 1366.0,751.64 1367.0,756.72 1368.0,761.59 1369.0,764.64 1369.4,765.00 1370.0,764.74 1371.0,763.07 1372.0,759.96 1373.0,755.55 1373.8,751.00 1374.0,749.67 1374.3,745.53 1374.6,739.64 1375.0,732.99 1375.2,728.56 1375.4,724.18 1375.6,720.00 1375.8,716.33 1376.0,712.07 1376.2,707.28 1376.4,702.30 1376.6,697.26 1376.8,692.31 1377.0,687.58 1377.2,682.37 1377.5,677.74 1377.7,674.30 1378.0,671.24 1378.5,666.41 1379.0,662.41 1379.4,659.16 1379.9,656.20 1380.0,655.75 1380.5,652.54 1381.0,649.60 1381.7,646.80 1382.0,646.26 1382.8,645.30 1383.0,645.37 1384.0,647.71 1384.3,648.90 1385.0,653.09 1385.3,656.38 1385.7,659.80 1386.0,662.46 1386.3,666.05 1386.6,670.16 1387.0,674.61 1387.2,678.00 1387.5,682.17 1387.7,686.65 1388.0,691.97 1388.1,695.91 1388.3,700.00 1388.4,704.01 1388.6,709.30 1388.7,714.82 1388.8,721.09 1389.0,726.94 1389.1,731.70 1389.2,736.11 1389.3,740.00 1389.5,745.33 1389.6,750.31 1389.8,754.74 1390.0,759.24 1390.2,763.83 1390.3,768.09 1390.5,772.60 1390.7,778.53 1391.0,784.04 1391.2,789.41 1391.4,794.91 1391.7,800.12 1391.9,805.30 1392.0,806.87 1392.2,812.45 1392.5,817.95 1392.7,823.39 1393.0,828.77 1393.2,833.25 1393.4,837.90 1393.7,843.58 1394.0,849.17 1394.2,853.96 1394.5,858.89 1394.7,864.13 1395.0,869.87 1395.0,870.60 1395.2,875.77 1395.4,882.00 1395.6,888.23 1395.8,894.61 1396.0,900.05 1396.1,903.20 1396.4,909.16 1396.7,914.42 1397.0,919.17 1397.2,923.32 1397.5,927.20 1397.7,930.79 1398.0,934.24 1398.3,939.08 1398.6,943.82 1399.0,948.01 1399.3,951.46 1399.6,954.40 1400.0,957.41 1400.5,961.38 1401.0,964.95 1402.0,969.45 1402.3,969.80 1403.0,969.42 1404.0,967.74 1405.0,965.37 1405.0,965.30 1406.0,961.93 1407.0,956.77 1407.5,953.70 1408.0,950.40 1408.7,945.30 1409.0,943.22 1409.5,938.69 1410.0,933.55 1410.5,928.08 1411.0,922.60 1411.4,918.10 1412.0,912.43 1412.5,907.47 1413.0,902.40 1413.2,900.00 1413.6,895.91 1414.0,891.58 1414.5,885.95 1415.0,880.33 1415.0,880.00 1415.5,874.46 1416.0,868.68 1416.4,864.11 1416.8,860.00 1417.0,858.51 1417.5,854.34 1418.0,850.61 1418.6,846.70 1419.0,844.66 1420.0,839.22 1421.0,835.33 1421.6,834.50 1422.0,834.92 1423.0,839.27 1423.5,842.47 1424.0,845.84 1424.1,846.70 1424.5,849.91 1425.0,853.63 1425.5,858.56 1426.0,863.95 1426.2,867.00 1426.5,870.00 1426.7,872.99 1427.0,876.16 1427.3,881.09 1427.6,886.37 1428.0,891.43 1428.3,895.90 1428.6,900.00 1429.0,904.12 1429.5,909.14 1430.0,913.91 1430.4,918.10 1430.7,921.04 1431.0,924.28 1431.5,930.06 1432.0,935.68 1432.5,940.66 1433.0,944.53 1433.1,945.30 1434.0,949.95 1435.0,953.76 1435.5,954.40 1436.0,954.11 1437.0,951.89 1438.0,948.12 1438.6,945.30 1439.0,943.08 1439.5,938.72 1440.0,933.31 1440.5,927.42 1441.0,921.62 1441.3,918.10 1441.6,914.49 1442.0,910.79 1442.5,905.36 1443.0,900.90 1443.1,900.00 1444.0,895.21 1445.0,890.99 1446.0,887.19 1446.5,885.00 1447.0,882.97 1448.0,878.81 1449.0,874.61 1450.0,870.10 1450.4,868.00 1451.0,865.08 1452.0,859.62 1452.5,856.69 1453.0,853.61 1453.5,850.36 1454.0,846.91 1454.0,846.70 1454.5,842.73 1455.0,837.91 1455.5,832.78 1456.0,828.05 1456.7,823.10 1457.0,821.90 1458.0,817.81 1459.0,815.06 1459.6,814.50 1460.0,814.66 1461.0,816.48 1462.0,819.90 1463.0,824.37 1463.1,825.00 1463.5,828.05 1464.0,832.45 1464.3,836.48 1464.6,840.98 1465.0,845.46 1465.4,850.86 1465.8,855.80 1466.0,857.63 1466.5,863.06 1467.0,868.45 1467.5,873.64 1468.0,878.46 1468.5,883.00 1469.0,886.87 1469.5,891.16 1470.0,895.39 1470.5,899.29 1471.0,902.59 1472.0,906.34 1472.2,906.50 1473.0,904.84 1473.5,902.24 1474.0,898.69 1474.5,894.44 1475.0,889.72 1475.5,884.74 1476.0,879.74 1476.2,877.50 1476.6,873.45 1477.0,868.61 1477.3,864.11 1477.6,859.22 1478.0,854.35 1478.3,849.77 1478.6,845.29 1478.9,841.00 1479.0,840.07 1479.3,835.79 1479.6,831.53 1480.0,827.45 1480.3,823.32 1480.6,818.94 1481.0,814.47 1481.3,809.99 1481.6,805.00 1481.8,801.93 1482.0,798.43 1482.2,793.49 1482.5,788.29 1482.7,782.96 1483.0,777.62 1483.2,773.23 1483.4,768.80 1483.7,763.14 1484.0,757.06 1484.2,751.80 1484.5,746.69 1484.7,741.85 1485.0,737.44 1485.3,732.50 1485.6,728.11 1486.0,724.10 1486.5,718.85 1487.0,715.07 1487.1,714.40 1488.0,710.76 1488.9,709.00 1489.0,709.02 1490.0,712.47 1490.5,715.67 1491.0,719.21 1491.6,723.40 1492.0,725.68 1492.5,728.95 1493.0,732.38 1493.5,735.87 1494.0,739.35 1494.3,741.60 1495.0,746.11 1495.5,749.49 1496.0,752.85 1496.5,756.19 1497.0,759.50 1497.0,759.70 1497.5,762.83 1498.0,765.99 1498.5,769.19 1499.0,772.40 1499.8,777.80 1500.0,778.93 1500.5,782.27 1501.0,785.64 1501.5,789.04 1502.0,792.43 1502.5,796.00 1503.0,799.14 1503.5,802.47 1504.0,805.80 1504.5,809.12 1505.0,812.46 1505.2,814.00 1506.0,819.18 1506.5,822.55 1507.0,825.93 1507.4,829.10 1507.9,832.20 1508.0,832.67 1508.5,835.96 1509.0,839.19 1509.5,842.45 1510.0,845.81 1510.6,850.30 1511.0,853.27 1511.5,857.73 1512.0,862.25 1512.4,865.64 1512.8,868.50 1513.0,869.51 1514.0,875.50 1515.0,879.14 1515.2,879.30 1516.0,878.01 1517.0,873.60 1517.2,872.17 1517.6,869.16 1518.0,864.65 1518.3,859.85 1518.6,854.60 1519.0,849.65 1519.0,848.65 1519.3,844.33 1519.7,839.94 1520.0,835.44 1520.3,830.92 1520.6,826.35 1520.9,821.36 1521.0,819.43 1521.2,814.81 1521.5,809.92 1521.7,804.83 1522.0,799.63 1522.2,794.81 1522.4,789.83 1522.7,785.15 1523.0,779.04 1523.2,773.82 1523.5,768.59 1523.7,763.42 1524.0,758.40 1524.2,753.41 1524.5,748.76 1524.7,744.56 1525.0,740.29 1525.3,734.56 1525.6,729.16 1526.0,724.78 1526.3,721.62 1527.0,717.23 1528.0,712.41 1529.0,709.07 1529.0,708.93 1530.0,706.81 1531.0,705.10 1531.7,703.49 1532.0,702.89 1533.0,699.93 1534.0,696.37 1534.5,694.42 1535.0,692.09 1536.0,686.61 1537.0,680.99 1537.2,679.92 1538.0,676.11 1539.0,671.50 1539.9,667.22 1540.0,666.90 1541.0,662.18 1542.0,657.49 1542.6,654.53 1543.0,652.92 1544.0,648.41 1544.4,646.72 1545.0,645.10 1546.0,642.37 1547.0,640.56 1547.2,640.38 1548.0,639.78 1549.0,639.24 1550.0,638.84 1550.8,638.56 1551.0,638.50 1552.0,638.25 1553.0,638.04 1554.0,637.80 1554.4,637.66 1555.0,637.38 1556.0,636.62 1557.0,635.86 1558.0,635.48 1558.0,635.48 1559.0,635.64 1560.0,636.15 1561.0,636.95 1561.7,637.66 1562.0,638.14 1563.0,641.57 1564.0,646.46 1564.4,648.54 1565.0,651.56 1565.5,654.47 1566.0,657.57 1566.5,660.76 1567.0,663.97 1567.1,664.86 1568.0,670.59 1568.5,674.06 1569.0,677.49 1569.8,682.99 1570.0,683.83 1570.5,686.86 1571.0,689.85 1572.0,695.18 1572.5,697.50 1573.0,698.95 1574.0,702.01 1574.7,702.95 1575.0,702.81 1576.0,699.68 1577.0,694.17 1578.0,688.56 1578.0,688.46 1579.0,682.70 1580.0,676.71 1580.7,673.94 1581.0,673.39 1582.0,671.55 1583.0,670.44 1583.4,670.30 1584.0,670.41 1585.0,671.12 1586.0,672.31 1587.0,673.79 1587.1,673.93 1588.0,676.24 1589.0,680.12 1590.0,684.22 1590.7,686.63 1591.0,687.44 1592.0,690.52 1593.0,692.70 1593.4,692.98 1594.0,692.51 1595.0,689.73 1596.0,685.19 1597.0,679.77 1597.9,674.49 1598.0,674.33 1598.5,671.42 1599.0,668.05 1599.5,664.46 1600.0,660.88 1600.7,656.30 1601.0,654.46 1601.5,651.28 1602.0,648.23 1603.0,643.77 1603.0,643.64 1604.0,641.40 1605.0,640.06 1605.2,640.00 1606.0,642.61 1606.5,646.34 1607.0,650.82 1607.4,654.54 1607.7,657.55 1608.0,661.04 1608.3,665.50 1608.6,670.40 1609.0,675.22 1609.3,680.55 1609.7,685.29 1610.0,687.99 1610.5,693.40 1611.0,698.54 1611.5,703.46 1612.0,708.16 1612.5,712.59 1613.0,717.14 1613.5,721.55 1614.0,725.76 1614.5,729.65 1615.0,733.07 1615.2,734.34 1616.0,739.16 1617.0,744.54 1617.9,746.65 1618.0,746.64 1619.0,744.91 1620.0,741.02 1620.6,737.93 1621.0,735.53 1621.5,730.55 1622.0,725.28 1622.4,721.63 1623.0,718.64 1624.0,713.90 1625.0,710.99 1625.2,710.74 1626.0,709.89 1627.0,709.16 1627.9,708.92 1628.0,708.95 1629.0,711.16 1630.0,715.37 1630.6,717.98 1631.0,719.51 1632.0,724.11 1633.0,728.97 1634.0,733.37 1634.2,734.31 1635.0,736.87 1636.0,739.93 1637.0,742.75 1637.8,745.20 1638.0,745.55 1639.0,748.60 1640.0,751.35 1640.6,752.46 1641.0,753.00 1642.0,754.16 1642.9,754.63 1643.0,754.63 1644.0,753.03 1645.0,749.40 1645.1,748.84 1645.5,746.06 1646.0,741.95 1646.5,736.39 1646.9,730.66 1647.0,730.05 1647.3,725.67 1647.6,720.64 1648.0,715.46 1648.3,709.39 1648.7,703.50 1649.0,699.86 1649.3,694.75 1649.6,689.47 1650.0,684.45 1650.3,680.21 1650.5,676.21 1651.0,671.07 1651.5,665.56 1652.0,659.79 1652.4,654.49 1652.7,648.96 1653.0,642.50 1653.3,637.60 1653.6,633.71 1654.0,630.33 1654.5,626.19 1655.0,622.62 1655.5,619.32 1656.0,616.00 1656.0,615.87 1656.5,612.52 1657.0,609.26 1657.5,606.10 1658.0,603.19 1658.7,599.55 1659.0,598.43 1660.0,594.31 1661.0,591.25 1661.4,590.49 1662.0,589.95 1662.7,589.59 1663.0,589.84 1664.0,594.05 1664.5,597.32 1665.0,600.80 1665.1,601.41 1665.5,605.19 1666.0,609.80 1666.4,614.75 1666.9,619.53 1667.0,620.53 1667.5,625.53 1668.0,630.53 1668.5,635.53 1669.0,640.53 1669.3,643.63 1669.6,646.73 1670.0,650.66 1670.5,656.11 1671.0,661.58 1671.5,666.75 1672.0,671.32 1672.3,673.93 1673.0,678.44 1674.0,684.41 1675.0,688.30 1675.0,688.44 1676.0,690.37 1676.8,691.16 1677.0,691.10 1678.0,686.88 1678.5,683.10 1679.0,678.87 1679.6,673.90 1680.0,670.51 1680.5,665.65 1681.0,660.38 1681.5,654.99 1682.0,649.79 1682.3,646.69 1682.6,643.45 1683.0,640.11 1683.5,635.21 1684.0,630.59 1684.5,626.53 1685.0,623.34 1685.0,623.13 1686.0,618.21 1687.0,614.28 1687.7,613.17 1688.0,613.31 1689.0,616.17 1690.0,620.92 1690.5,623.15 1691.0,625.59 1692.0,630.97 1693.0,636.58 1693.2,637.66 1694.0,642.44 1694.5,645.59 1695.0,648.50 1695.9,652.17 1696.0,652.35 1697.0,654.31 1697.7,654.89 1698.0,654.76 1699.0,652.53 1700.0,648.64 1700.4,646.74 1701.0,644.00 1701.5,640.85 1702.0,637.29 1702.5,633.55 1703.0,629.84 1703.2,628.55 1703.6,625.59 1704.0,622.51 1704.5,618.64 1705.0,614.73 1705.5,610.84 1706.0,607.06 1706.8,601.40 1707.0,600.07 1707.5,596.83 1708.0,593.69 1708.5,590.64 1709.0,587.68 1710.0,581.98 1710.4,579.62 1711.0,576.46 1712.0,570.89 1713.0,565.78 1714.0,561.67 1714.0,561.47 1715.0,558.49 1716.0,555.74 1717.0,553.54 1717.7,552.40 1718.0,551.96 1719.0,550.62 1720.0,549.78 1720.4,549.69 1721.0,550.22 1722.0,553.23 1723.0,558.33 1723.5,561.46 1724.0,564.87 1724.0,565.08 1724.3,568.04 1724.7,572.35 1725.0,577.41 1725.2,582.25 1725.5,587.43 1725.8,592.35 1726.0,594.99 1726.2,599.62 1726.5,604.50 1726.7,609.57 1727.0,614.75 1727.2,619.37 1727.4,623.98 1727.6,628.56 1727.8,632.14 1728.0,635.84 1728.2,641.42 1728.5,647.05 1728.7,652.61 1729.0,657.98 1729.2,662.84 1729.5,667.29 1729.7,671.68 1730.0,675.77 1730.3,680.65 1730.6,685.49 1731.0,690.18 1731.3,694.43 1731.6,699.83 1732.0,705.08 1732.3,710.03 1732.6,715.13 1733.0,720.08 1733.1,721.58 1733.4,726.23 1733.7,731.07 1734.0,735.92 1734.3,740.74 1734.6,745.02 1734.9,748.87 1735.0,749.77 1735.5,755.34 1736.0,760.31 1736.7,765.15 1737.0,766.18 1738.0,768.42 1739.0,766.07 1740.0,760.36 1740.3,757.88 1740.7,754.90 1741.0,750.71 1741.3,745.50 1741.6,739.58 1742.0,733.68 1742.1,730.72 1742.4,725.59 1742.7,720.16 1743.0,714.24 1743.2,708.89 1743.5,703.86 1743.7,698.88 1744.0,694.34 1744.0,694.17 1744.3,688.60 1744.6,683.10 1745.0,678.02 1745.4,672.32 1745.8,667.20 1746.0,664.89 1746.5,659.77 1747.0,655.09 1747.6,649.10 1748.0,644.27 1748.3,639.45 1748.6,634.31 1749.0,629.64 1749.5,624.30 1749.9,622.24 1750.0,622.25 1750.4,623.99 1751.0,626.42 1752.0,631.69 1752.6,635.79 1753.0,638.93 1753.5,644.23 1754.0,649.75 1754.4,653.90 1755.0,658.36 1755.5,662.10 1756.0,665.37 1756.6,668.44 1757.0,669.91 1758.0,673.33 1759.0,674.79 1759.0,674.79 1760.0,674.62 1761.0,674.21 1761.7,673.88 1762.0,673.70 1763.0,672.71 1764.0,671.64 1764.9,671.16 1765.0,671.16 1766.0,671.44 1767.0,672.09 1768.0,672.94 1768.0,672.98 1769.0,674.19 1770.0,676.03 1771.0,678.05 1771.6,679.32 1772.0,679.91 1773.0,681.89 1774.0,683.82 1775.0,685.35 1775.3,685.67 1776.0,686.33 1777.0,687.14 1778.0,687.49 1778.0,687.49 1779.0,686.80 1780.0,684.92 1780.7,682.96 1781.0,681.90 1781.5,678.38 1782.0,673.75 1782.5,668.42 1783.0,664.21 1783.5,659.00 1784.0,653.83 1784.3,650.32 1785.0,644.77 1785.5,640.64 1786.0,636.98 1786.2,635.76 1787.0,630.95 1788.0,626.72 1789.0,624.38 1790.0,622.75 1790.7,622.19 1791.0,622.09 1792.0,621.81 1793.0,621.66 1793.4,621.65 1794.0,621.89 1795.0,623.15 1796.0,624.70 1796.1,624.91 1797.0,626.24 1798.0,627.89 1798.8,628.54 1799.0,628.54 1800.0,628.45 1801.0,628.28 1801.6,628.18 1802.0,628.10 1803.0,627.84 1804.0,627.65 1804.3,627.63 1805.0,629.13 1806.0,634.87 1806.1,635.81 1806.5,640.17 1807.0,646.46 1807.3,651.53 1807.6,656.14 1807.9,659.99 1808.0,660.49 1808.5,664.87 1809.0,668.65 1809.7,674.47 1810.0,676.53 1810.5,680.99 1811.0,685.56 1811.5,690.85 1812.0,694.67 1812.5,699.25 1813.0,703.76 1813.4,707.14 1814.0,712.45 1814.5,716.69 1815.0,720.39 1815.2,721.69 1816.0,726.26 1817.0,729.81 1817.0,729.83 1818.0,730.53 1818.8,730.74 1819.0,730.70 1820.0,729.00 1820.6,727.10 1821.0,725.60 1821.5,722.34 1822.0,718.30 1822.4,714.42 1823.0,709.50 1823.5,704.36 1824.0,699.09 1824.2,696.23 1824.6,692.63 1825.0,689.03 1825.5,684.03 1826.0,679.03 1826.1,678.13 1826.5,673.78 1827.0,669.68 1827.4,665.26 1827.9,660.03 1828.0,658.55 1828.2,653.20 1828.5,647.82 1828.8,644.86 1829.0,644.23 1830.0,642.00 1831.0,640.85 1831.5,640.33 1832.0,639.87 1833.0,639.11 1834.0,638.46 1835.0,637.74 1835.1,637.61 1836.0,636.85 1837.0,635.88 1838.0,634.84 1838.8,633.97 1839.0,633.74 1840.0,632.50 1841.0,631.18 1842.0,629.92 1842.4,629.45 1843.0,628.77 1844.0,627.64 1845.0,626.80 1845.1,626.73 1846.0,626.31 1847.0,625.94 1847.8,625.82 1848.0,625.82 1849.0,626.04 1850.0,626.46 1850.5,626.73 1851.0,626.93 1852.0,627.53 1853.0,628.30 1854.0,629.24 1854.2,629.44 1855.0,630.44 1856.0,632.09 1856.9,633.97 1857.0,634.15 1858.0,637.05 1859.0,640.66 1859.6,643.03 1860.0,644.33 1861.0,647.93 1862.0,652.12 1862.3,653.91 1863.0,658.21 1863.2,659.99 1864.0,663.77 1865.0,668.46 1865.4,670.89 1866.0,674.44 1866.5,678.03 1867.0,681.71 1867.2,683.57 1868.0,688.84 1868.5,692.39 1869.0,695.78 1869.0,696.30 1870.0,702.05 1870.9,707.16 1871.0,707.77 1872.0,713.47 1872.7,716.22 1873.0,716.89 1874.0,718.55 1875.0,719.78 1875.0,719.85 1876.0,720.83 1877.0,721.73 1877.8,722.57 1878.0,722.86 1879.0,724.41 1880.0,726.19 1880.5,727.11 1881.0,728.01 1882.0,729.86 1883.0,732.01 1883.2,732.54 1884.0,734.72 1885.0,738.07 1885.9,741.61 1886.0,741.84 1887.0,745.99 1888.0,750.74 1888.6,754.29 1889.0,756.37 1889.5,759.84 1890.0,763.54 1890.5,767.02 1891.0,770.79 1891.5,774.46 1892.0,777.90 1892.3,779.70 1893.0,783.83 1894.0,788.46 1894.1,788.79 1895.0,791.21 1895.9,792.41 1896.0,792.41 1897.0,792.41 1898.0,792.41 1898.6,792.41 1899.0,792.25 1900.0,790.64 1900.4,789.70 1901.0,788.28 1902.0,784.65 1903.0,780.44 1903.2,779.69 1904.0,776.26 1905.0,771.71 1905.9,766.99 1906.0,766.40 1906.5,762.88 1907.0,759.01 1907.7,754.32 1908.0,752.83 1909.0,748.35 1909.5,747.07 1910.0,746.43 1911.0,745.40 1912.0,744.91 1912.2,744.89 1913.0,745.39 1914.0,747.07 1914.9,748.87 1915.0,748.93 1916.0,750.99 1917.0,753.08 1917.7,753.96 1918.0,754.19 1919.0,754.82 1920.0,755.19 1920.4,755.22 1921.0,755.04 1922.0,754.08 1923.0,752.69 1923.1,752.50 1924.0,750.83 1925.0,748.08 1925.8,745.24 1926.0,744.67 1927.0,739.71 1927.6,736.19 1928.0,734.49 1929.0,729.49 1929.5,727.09 1930.0,724.35 1931.0,719.23 1931.3,718.04 1932.0,715.43 1933.0,712.75 1933.1,712.60 1934.0,711.52 1935.0,710.67 1935.8,710.42 1936.0,710.42 1937.0,710.42 1938.0,710.42 1939.0,710.42 1940.0,710.42 1941.0,710.42 1941.2,710.42 1942.0,710.42 1943.0,710.42 1944.0,710.42 1945.0,710.42 1946.0,710.42 1947.0,710.42 1947.8,710.42"/>
<polyline id="c-red" points="100.0,303.99 101.0,303.99 102.0,303.99 103.0,303.99 104.0,303.99 105.0,303.99 106.0,303.99 107.0,303.99 108.0,303.99 109.0,303.99 110.0,303.99 110.0,303.99 111.0,303.88 112.0,303.63 113.0,303.34 114.0,303.09 115.0,302.99 115.0,302.99 116.0,303.05 117.0,303.22 118.0,303.45 119.0,303.72 119.9,303.99 120.0,304.00 121.0,304.36 122.0,304.85 123.0,305.39 124.0,305.91 125.0,306.33 125.9,306.58 126.0,306.59 127.0,306.75 128.0,306.89 129.0,307.01 130.0,307.10 131.0,307.16 131.9,307.18 132.0,307.18 133.0,307.10 134.0,306.91 135.0,306.67 136.0,306.43 137.0,306.25 137.9,306.19 138.0,306.19 139.0,306.31 140.0,306.63 141.0,307.08 142.0,307.60 143.0,308.13 143.9,308.58 144.0,308.61 145.0,309.09 146.0,309.62 147.0,310.16 148.0,310.69 149.0,311.18 149.9,311.58 150.0,311.61 151.0,312.02 152.0,312.45 153.0,312.83 154.0,313.09 154.9,313.18 155.0,313.17 156.0,313.05 157.0,312.75 158.0,312.36 158.9,311.98 159.0,311.94 160.0,311.26 161.0,310.50 161.9,310.18 162.0,310.18 163.0,310.51 164.0,311.14 165.0,311.74 165.9,311.98 166.0,311.98 167.0,311.98 168.0,311.98 169.0,311.98 170.0,311.98 170.9,311.98 171.0,311.98 172.0,312.52 173.0,313.56 174.0,314.62 174.9,315.17 175.0,315.20 176.0,315.41 177.0,315.54 178.0,315.65 179.0,315.79 179.8,315.97 180.0,316.01 181.0,316.59 182.0,317.29 182.8,317.57 183.0,317.57 184.0,317.46 185.0,317.22 186.0,316.87 187.0,316.44 188.0,315.98 188.8,315.57 189.0,315.51 190.0,314.81 191.0,314.04 191.8,313.58 192.0,313.53 193.0,313.29 194.0,313.13 195.0,312.98 196.0,312.80 196.8,312.58 197.0,312.52 198.0,311.89 199.0,310.98 200.0,310.10 200.8,309.58 201.0,309.52 202.0,309.11 203.0,308.74 204.0,308.44 205.0,308.24 205.8,308.18 206.0,308.18 207.0,308.18 208.0,308.18 209.0,308.18 210.0,308.18 211.0,308.18 211.8,308.18 212.0,308.18 213.0,308.21 214.0,308.26 215.0,308.35 216.0,308.46 216.8,308.58 217.0,308.62 218.0,309.34 219.0,310.65 220.0,312.26 220.8,313.58 221.0,313.86 222.0,315.64 223.0,317.67 224.0,319.82 224.8,321.56 225.0,321.97 226.0,324.34 227.0,326.82 228.0,329.09 228.8,330.55 229.0,330.85 230.0,332.43 231.0,333.86 232.0,334.86 232.8,335.14 233.0,335.14 234.0,335.08 235.0,334.94 236.0,334.74 236.8,334.54 237.0,334.47 238.0,333.69 239.0,332.39 240.0,330.81 240.8,329.55 241.0,329.20 242.0,327.20 243.0,325.02 243.8,323.57 244.0,323.21 245.0,321.60 246.0,320.24 246.8,319.57 247.0,319.44 248.0,318.91 249.0,318.44 250.0,318.06 251.0,317.78 252.0,317.61 252.7,317.57 253.0,317.58 254.0,317.87 255.0,318.41 256.0,318.99 257.0,319.44 257.7,319.57 258.0,319.57 259.0,319.57 260.0,319.57 261.0,319.57 261.7,319.57 262.0,319.54 263.0,319.06 264.0,318.17 265.0,317.16 266.0,316.31 266.7,315.97 267.0,315.92 268.0,315.75 269.0,315.64 270.0,315.55 271.0,315.46 272.0,315.32 272.7,315.17 273.0,315.09 274.0,314.42 275.0,313.52 276.0,312.78 276.7,312.58 277.0,312.61 278.0,313.14 279.0,314.03 280.0,314.85 280.7,315.17 281.0,315.22 282.0,315.37 283.0,315.47 284.0,315.55 285.0,315.61 286.0,315.67 287.0,315.75 288.0,315.86 288.7,315.97 289.0,316.03 290.0,316.41 291.0,316.96 292.0,317.57 293.0,318.11 294.0,318.48 294.7,318.57 295.0,318.56 296.0,318.36 297.0,318.01 298.0,317.58 299.0,317.18 299.7,316.97 300.0,316.90 301.0,316.70 302.0,316.53 303.0,316.35 304.0,316.15 304.7,315.97 305.0,315.87 306.0,315.36 307.0,314.72 308.0,314.10 309.0,313.67 309.7,313.57 310.0,313.60 311.0,313.90 312.0,314.46 313.0,315.13 313.6,315.57 314.0,315.78 315.0,316.50 316.0,317.32 317.0,318.21 318.0,319.11 319.0,320.00 319.6,320.56 320.0,320.85 321.0,321.85 322.0,322.90 323.0,323.83 324.0,324.43 324.6,324.56 325.0,324.55 326.0,324.45 327.0,324.27 328.0,324.03 329.0,323.77 330.0,323.52 331.0,323.31 332.0,323.19 332.6,323.16 333.0,323.18 334.0,323.45 335.0,323.95 336.0,324.57 337.0,325.20 337.6,325.55 338.0,325.75 339.0,326.37 340.0,327.08 341.0,327.81 342.0,328.51 343.0,329.13 344.0,329.61 345.0,329.90 345.6,329.95 346.0,329.95 347.0,329.95 348.0,329.95 349.0,329.95 350.0,329.95 351.0,329.95 352.0,329.95 353.0,329.95 354.0,329.95 354.6,329.95 355.0,329.98 356.0,330.31 357.0,330.90 358.0,331.58 359.0,332.23 359.6,332.55 360.0,332.72 361.0,333.16 362.0,333.59 363.0,334.00 364.0,334.39 365.0,334.76 366.0,335.09 367.0,335.39 367.6,335.54 368.0,335.64 369.0,335.84 370.0,336.01 371.0,336.16 372.0,336.30 373.0,336.44 374.0,336.60 375.0,336.78 376.0,336.99 376.6,337.14 377.0,337.26 378.0,337.64 379.0,338.10 380.0,338.63 381.0,339.18 382.0,339.74 383.0,340.26 383.5,340.53 384.0,340.73 385.0,341.25 386.0,341.79 387.0,342.32 388.0,342.80 389.0,343.19 390.0,343.45 390.5,343.53 391.0,343.57 392.0,343.65 393.0,343.72 394.0,343.79 395.0,343.85 396.0,343.91 397.0,343.95 398.0,344.00 399.0,344.03 400.0,344.07 401.0,344.09 402.0,344.11 403.0,344.12 404.0,344.13 404.5,344.13 405.0,344.11 406.0,343.96 407.0,343.68 408.0,343.31 409.0,342.90 410.0,342.49 411.0,342.11 411.5,341.93 412.0,341.79 413.0,341.49 414.0,341.20 415.0,340.91 416.0,340.62 417.0,340.33 418.0,340.02 419.0,339.71 419.5,339.54 420.0,339.37 421.0,339.02 422.0,338.66 423.0,338.28 424.0,337.89 425.0,337.50 426.0,337.12 427.0,336.73 427.5,336.54 428.0,336.35 429.0,335.90 430.0,335.41 431.0,334.91 432.0,334.44 433.0,334.04 434.0,333.74 435.0,333.57 435.5,333.54 436.0,333.56 437.0,333.64 438.0,333.78 439.0,333.95 440.0,334.14 441.0,334.31 442.0,334.45 443.0,334.53 443.4,334.54 444.0,334.53 445.0,334.44 446.0,334.27 447.0,334.06 448.0,333.82 449.0,333.59 450.0,333.37 451.0,333.20 451.4,333.15 452.0,333.09 453.0,332.98 454.0,332.88 455.0,332.78 456.0,332.70 457.0,332.63 458.0,332.58 459.0,332.55 459.4,332.55 460.0,332.55 461.0,332.61 462.0,332.71 463.0,332.85 464.0,333.01 465.0,333.19 466.0,333.37 467.0,333.56 468.0,333.73 469.0,333.88 469.4,333.94 470.0,334.01 471.0,334.12 472.0,334.22 473.0,334.31 474.0,334.40 475.0,334.49 476.0,334.59 477.0,334.70 478.0,334.82 479.0,334.97 480.0,335.14 480.0,335.14 481.0,335.39 482.0,335.75 483.0,336.20 484.0,336.70 485.0,337.23 486.0,337.76 487.0,338.25 488.0,338.68 488.0,338.69 489.0,339.05 490.0,339.39 491.0,339.71 492.0,340.02 493.0,340.33 494.0,340.63 495.0,340.96 496.0,341.30 497.0,341.67 498.0,342.08 499.0,342.54 500.0,343.06 501.0,343.63 502.0,344.23 503.0,344.84 504.0,345.46 505.0,346.08 506.0,346.67 506.0,346.68 507.0,347.26 508.0,347.81 509.0,348.36 510.0,348.91 511.0,349.47 512.0,350.04 513.0,350.64 514.0,351.28 515.0,351.95 516.0,352.67 516.0,352.68 517.0,353.48 518.0,354.36 519.0,355.30 520.0,356.30 521.0,357.35 522.0,358.43 523.0,359.55 523.9,360.65 524.0,360.70 525.0,361.92 526.0,363.25 527.0,364.63 528.0,366.04 529.0,367.41 529.9,368.65 530.0,368.70 531.0,369.95 532.0,371.19 533.0,372.40 534.0,373.57 535.0,374.67 535.9,375.64 536.0,375.68 537.0,376.61 538.0,377.47 539.0,378.28 540.0,379.07 541.0,379.86 541.9,380.63 542.0,380.68 543.0,381.56 544.0,382.48 545.0,383.40 546.0,384.27 547.0,385.04 547.9,385.62 548.0,385.66 549.0,386.20 550.0,386.74 551.0,387.23 552.0,387.63 553.0,387.90 553.9,388.01 554.0,388.02 555.0,388.04 556.0,388.06 557.0,388.08 558.0,388.09 559.0,388.10 560.0,388.10 561.0,388.11 562.0,388.11 563.0,388.12 564.0,388.13 565.0,388.14 566.0,388.16 567.0,388.18 567.9,388.21 568.0,388.22 569.0,388.69 570.0,389.74 571.0,391.17 571.9,392.60 572.0,392.79 573.0,395.12 574.0,398.31 574.9,401.60 575.0,402.04 576.0,407.27 577.0,413.26 577.9,417.56 578.0,418.00 579.0,421.11 580.0,423.56 581.0,426.00 582.0,429.09 582.3,430.24 583.0,434.23 583.5,437.80 584.0,441.17 584.5,443.82 585.0,445.15 586.0,447.84 587.0,449.56 587.6,449.87 588.0,449.78 589.0,448.94 590.0,447.52 591.0,445.91 591.3,445.35 592.0,444.20 593.0,441.93 594.0,439.63 595.0,437.94 595.1,437.79 596.0,436.96 597.0,436.07 598.0,435.33 599.0,434.78 600.0,434.49 600.4,434.46 601.0,434.53 602.0,434.99 603.0,435.76 604.0,436.74 604.9,437.79 605.0,437.82 606.0,439.35 607.0,441.45 608.0,443.74 608.7,445.35 609.0,445.84 610.0,447.76 611.0,449.67 612.0,451.72 612.5,452.89 613.0,454.06 614.0,456.77 615.0,459.69 616.0,462.62 616.3,463.47 617.0,465.43 618.0,468.23 619.0,471.03 620.0,473.83 620.0,474.05 621.0,476.80 622.0,479.90 623.0,482.73 623.8,484.64 624.0,484.89 625.0,486.47 626.0,487.78 627.0,488.97 628.0,490.17 628.4,490.68 629.0,491.44 630.0,492.55 631.0,493.69 632.0,495.06 632.9,496.73 633.0,496.88 634.0,500.16 635.0,504.62 635.9,508.82 636.0,509.02 637.0,513.16 638.0,517.27 638.9,520.90 639.0,521.00 640.0,524.52 641.0,527.74 642.0,529.97 642.0,529.98 643.0,531.46 644.0,532.71 645.0,533.54 645.7,533.75 646.0,533.72 647.0,532.99 648.0,531.50 648.8,529.96 649.0,529.47 650.0,525.14 651.0,519.71 651.0,519.41 652.0,514.23 653.0,508.78 653.3,507.30 654.0,504.50 655.0,500.92 655.6,499.74 656.0,499.33 657.0,498.44 658.0,497.82 659.0,497.51 659.3,497.48 660.0,497.61 661.0,498.27 662.0,499.26 663.0,500.35 663.1,500.50 664.0,501.61 665.0,503.26 666.0,504.83 666.9,505.79 667.0,505.84 668.0,506.43 669.0,506.92 670.0,507.23 670.7,507.30 671.0,507.28 672.0,506.86 673.0,506.02 674.0,504.90 674.5,504.28 675.0,503.31 676.0,500.16 677.0,496.66 677.5,495.22 678.0,493.96 679.0,491.34 680.0,489.48 680.5,489.17 681.0,489.21 682.0,489.56 683.0,490.21 683.5,490.68 684.0,491.43 685.0,494.87 685.8,498.23 686.0,498.93 687.0,503.48 688.0,508.31 688.8,511.85 689.0,512.40 690.0,516.10 691.0,519.28 691.8,520.91 692.0,521.04 693.0,521.96 694.0,522.67 695.0,523.09 695.6,523.17 696.0,523.12 697.0,522.44 698.0,521.27 699.0,519.93 699.4,519.40 700.0,518.51 701.0,516.55 702.0,515.06 702.4,514.86 703.0,514.88 704.0,514.99 705.0,515.20 706.0,515.53 706.2,515.62 707.0,516.95 708.0,520.52 708.5,522.41 709.0,524.45 710.0,529.17 710.7,533.00 711.0,534.23 712.0,539.75 713.0,544.96 713.0,545.10 714.0,549.66 715.0,553.98 716.0,557.07 716.0,557.18 717.0,558.65 717.9,559.99 718.0,560.06 719.0,562.05 720.0,564.38 721.0,566.98 721.7,569.06 722.0,569.83 723.0,573.02 724.0,576.60 725.0,580.52 725.5,582.67 726.0,584.80 727.0,589.76 728.0,595.01 728.5,597.77 729.0,600.07 730.0,605.07 731.0,610.07 731.5,612.92 732.0,615.08 733.0,620.16 734.0,625.17 734.6,628.02 735.0,630.02 736.0,635.07 737.0,639.56 737.6,641.61 738.0,642.70 739.0,645.39 740.0,647.26 740.6,647.66 741.0,647.64 742.0,647.49 743.0,647.17 743.6,646.90 744.0,646.56 745.0,644.15 746.0,641.26 746.6,640.10 747.0,639.84 748.0,639.14 749.0,638.69 749.7,638.59 750.0,638.64 751.0,639.45 752.0,640.99 752.7,642.36 753.0,643.06 754.0,647.30 755.0,652.19 755.0,652.23 756.0,656.54 757.0,660.91 758.0,665.72 758.0,665.77 759.0,671.45 759.5,674.56 760.0,677.68 760.2,679.39 761.0,683.71 761.5,686.71 762.0,689.71 762.5,693.01 763.0,695.83 763.5,699.11 764.0,702.28 764.8,706.58 765.0,707.41 766.0,711.79 767.0,714.14 767.0,714.16 768.0,713.86 769.0,713.02 769.3,712.64 770.0,711.34 771.0,707.72 771.6,705.07 772.0,703.24 772.5,700.35 773.0,697.14 773.9,691.50 774.0,690.78 774.5,687.74 775.0,684.68 776.0,678.74 776.1,677.88 777.0,672.83 778.0,667.41 778.4,665.78 779.0,664.01 780.0,661.44 781.0,659.57 781.4,658.99 782.0,658.41 783.0,657.61 784.0,657.00 785.0,656.44 786.0,655.80 786.7,655.21 787.0,654.96 788.0,653.90 789.0,652.68 790.0,651.36 791.0,650.00 792.0,648.65 792.7,647.66 793.0,647.38 794.0,646.16 795.0,644.97 796.0,643.78 797.0,642.54 798.0,641.24 798.8,640.10 799.0,639.84 800.0,638.40 801.0,636.90 802.0,635.23 803.0,633.30 803.3,632.55 804.0,631.03 805.0,628.30 806.0,625.01 807.0,621.03 807.1,620.46 808.0,615.40 808.5,611.81 809.0,608.13 809.4,605.33 810.0,601.25 810.5,597.80 811.0,594.42 811.6,590.20 812.0,588.26 813.0,582.63 813.9,578.15 814.0,577.85 815.0,573.77 816.0,570.21 816.9,567.55 817.0,567.45 818.0,565.50 819.0,563.97 820.0,562.56 821.0,560.95 821.5,560.00 822.0,558.90 823.0,556.55 824.0,553.97 825.0,551.14 826.0,548.08 827.0,544.80 828.0,541.29 829.0,537.57 829.4,536.02 830.0,533.34 831.0,528.02 832.0,522.77 832.4,520.91 833.0,518.58 834.0,514.70 835.0,511.15 836.0,508.10 836.9,505.78 837.0,505.70 838.0,503.92 839.0,502.50 840.0,501.31 841.0,500.19 842.0,499.01 843.0,497.62 844.0,495.87 844.0,495.83 845.0,493.54 846.0,490.62 847.0,487.34 848.0,483.91 848.0,483.84 849.0,480.13 850.0,475.92 851.0,471.70 852.0,467.91 852.0,467.88 853.0,464.44 854.0,461.08 855.0,458.13 856.0,455.90 856.0,455.88 857.0,454.12 858.0,452.51 859.0,451.34 860.0,450.89 861.0,450.89 862.0,450.89 863.0,450.89 864.0,450.89 865.0,450.89 865.0,450.89 866.0,451.30 867.0,452.39 868.0,453.99 869.0,455.89 869.0,455.91 870.0,459.31 871.0,464.45 872.0,469.85 872.0,469.96 873.0,475.64 873.5,478.70 874.0,481.81 874.5,484.86 875.0,487.85 875.0,487.97 876.0,493.97 877.0,499.97 877.9,505.79 878.0,505.97 879.0,511.90 880.0,517.83 880.9,523.79 881.0,523.98 881.5,527.20 882.0,530.50 882.5,533.87 883.0,537.25 883.5,540.50 883.9,543.73 884.0,543.99 884.5,547.35 885.0,550.74 885.5,554.13 886.0,557.48 886.5,560.65 886.9,563.73 887.0,563.98 887.5,567.13 888.0,570.24 888.5,573.30 889.0,576.28 889.9,581.72 890.0,581.94 891.0,587.74 892.0,592.61 892.3,593.68 893.0,595.17 894.0,596.99 894.9,597.67 895.0,597.67 896.0,597.08 897.0,595.67 897.5,594.69 898.0,593.31 899.0,587.88 899.4,584.77 899.9,581.70 900.0,581.32 900.5,578.01 901.0,574.44 901.5,570.62 902.0,566.57 902.3,563.69 902.6,560.71 903.0,557.50 903.5,552.37 904.0,547.15 904.3,543.79 904.6,540.39 905.0,537.09 905.5,532.09 906.0,527.09 906.3,523.79 906.6,520.36 907.0,517.01 907.5,511.94 908.0,506.97 908.3,503.79 908.6,500.57 909.0,497.45 909.5,492.85 910.0,488.48 910.3,485.88 911.0,480.64 911.5,476.99 912.0,473.54 912.9,467.87 913.0,467.43 914.0,462.18 915.0,457.55 915.9,453.88 916.0,453.58 917.0,450.11 918.0,447.00 919.0,444.20 919.9,441.91 920.0,441.69 921.0,439.48 922.0,437.48 923.0,435.61 923.9,433.93 924.0,433.74 925.0,431.88 926.0,430.08 927.0,428.30 928.0,426.53 928.9,424.93 929.0,424.75 930.0,422.93 931.0,421.09 932.0,419.27 933.0,417.48 933.9,415.94 934.0,415.76 935.0,414.04 936.0,412.32 937.0,410.67 938.0,409.15 938.9,407.96 939.0,407.81 940.0,406.60 941.0,405.44 942.0,404.35 943.0,403.34 944.0,402.42 945.0,401.60 945.8,400.97 946.0,400.88 947.0,400.28 948.0,399.75 949.0,399.28 950.0,398.84 951.0,398.41 952.0,397.96 953.0,397.46 953.8,396.97 954.0,396.89 955.0,396.22 956.0,395.48 957.0,394.68 958.0,393.86 959.0,393.04 960.0,392.25 961.0,391.53 961.8,390.98 962.0,390.89 963.0,390.33 964.0,389.81 965.0,389.32 966.0,388.85 967.0,388.38 968.0,387.91 969.0,387.42 969.8,386.99 970.0,386.90 971.0,386.41 972.0,385.97 973.0,385.53 974.0,385.06 975.0,384.53 976.0,383.90 977.0,383.14 977.8,382.40 978.0,382.19 979.0,380.27 979.8,378.60 980.0,378.38 981.0,376.99 982.0,375.75 983.0,374.62 984.0,373.55 985.0,372.50 985.8,371.61 986.0,371.44 987.0,370.39 988.0,369.38 989.0,368.39 990.0,367.42 991.0,366.44 991.8,365.62 992.0,365.45 993.0,364.46 994.0,363.48 995.0,362.50 996.0,361.52 997.0,360.53 998.0,359.52 999.0,358.49 999.8,357.63 1000.0,357.43 1001.0,356.28 1002.0,355.04 1003.0,353.77 1004.0,352.53 1005.0,351.37 1006.0,350.34 1006.8,349.64 1007.0,349.50 1008.0,348.81 1009.0,348.22 1010.0,347.68 1011.0,347.12 1011.8,346.65 1012.0,346.52 1013.0,345.84 1014.0,345.12 1015.0,344.40 1016.0,343.71 1017.0,343.08 1017.8,342.65 1018.0,342.55 1019.0,342.14 1020.0,341.80 1021.0,341.46 1022.0,341.06 1022.8,340.65 1023.0,340.52 1024.0,339.80 1025.0,338.86 1026.0,337.71 1026.8,336.66 1027.0,336.29 1028.0,333.63 1029.0,330.79 1029.8,329.67 1030.0,329.59 1031.0,329.32 1032.0,329.16 1033.0,329.03 1034.0,328.87 1034.7,328.67 1035.0,328.58 1036.0,327.84 1037.0,326.77 1038.0,325.69 1039.0,324.90 1039.7,324.68 1040.0,324.69 1041.0,324.99 1042.0,325.57 1043.0,326.28 1044.0,326.97 1045.0,327.49 1045.7,327.67 1046.0,327.70 1047.0,327.77 1048.0,327.81 1049.0,327.84 1050.0,327.87 1051.0,327.90 1052.0,327.94 1053.0,328.01 1053.7,328.07 1054.0,328.14 1055.0,328.90 1056.0,330.11 1057.0,331.22 1057.7,331.67 1058.0,331.74 1059.0,331.95 1060.0,332.09 1061.0,332.20 1062.0,332.31 1063.0,332.49 1063.7,332.66 1064.0,332.77 1065.0,333.48 1066.0,334.60 1067.0,335.97 1068.0,337.43 1069.0,338.81 1069.7,339.66 1070.0,339.97 1071.0,341.19 1072.0,342.44 1073.0,343.55 1074.0,344.36 1074.7,344.65 1075.0,344.71 1076.0,344.90 1077.0,345.05 1078.0,345.17 1079.0,345.23 1079.7,345.25 1080.0,345.22 1081.0,344.86 1082.0,344.17 1083.0,343.34 1084.0,342.52 1085.0,341.89 1085.7,341.65 1086.0,341.59 1087.0,341.44 1088.0,341.33 1089.0,341.25 1090.0,341.19 1091.0,341.12 1092.0,341.04 1093.0,340.94 1094.0,340.79 1094.7,340.65 1095.0,340.55 1096.0,339.89 1097.0,338.85 1098.0,337.62 1099.0,336.39 1099.6,335.66 1100.0,335.34 1101.0,334.44 1102.0,333.59 1103.0,332.72 1104.0,331.74 1105.0,330.58 1105.6,329.67 1106.0,329.12 1107.0,326.96 1108.0,324.29 1109.0,321.46 1109.6,319.67 1110.0,318.73 1111.0,315.60 1112.0,312.81 1112.6,311.70 1113.0,311.34 1114.0,310.44 1115.0,309.76 1116.0,309.29 1116.6,309.10 1117.0,309.02 1118.0,308.81 1119.0,308.63 1120.0,308.48 1121.0,308.37 1122.0,308.31 1122.6,308.30 1123.0,308.39 1124.0,309.41 1125.0,311.08 1126.0,312.82 1126.6,313.69 1127.0,314.14 1128.0,315.46 1129.0,316.47 1129.6,316.69 1130.0,316.65 1131.0,316.15 1132.0,315.30 1133.0,314.29 1133.6,313.69 1134.0,313.32 1135.0,312.18 1136.0,310.88 1137.0,309.56 1138.0,308.34 1138.6,307.71 1139.0,307.32 1140.0,306.25 1141.0,305.21 1142.0,304.35 1143.0,303.81 1143.6,303.71 1144.0,303.76 1145.0,304.25 1146.0,305.11 1147.0,306.12 1147.6,306.71 1148.0,307.12 1149.0,308.41 1150.0,309.83 1151.0,311.12 1151.6,311.70 1152.0,312.03 1153.0,312.83 1154.0,313.55 1155.0,314.15 1156.0,314.56 1156.6,314.69 1157.0,314.75 1158.0,314.87 1159.0,314.95 1160.0,315.01 1161.0,315.07 1162.0,315.14 1163.0,315.23 1163.5,315.29 1164.0,315.36 1165.0,315.58 1166.0,315.88 1167.0,316.22 1168.0,316.56 1169.0,316.87 1170.0,317.12 1171.0,317.27 1171.5,317.29 1172.0,317.28 1173.0,317.19 1174.0,317.02 1175.0,316.81 1176.0,316.59 1177.0,316.38 1178.0,316.21 1179.0,316.11 1179.5,316.09 1180.0,316.10 1181.0,316.13 1182.0,316.21 1183.0,316.31 1184.0,316.44 1185.0,316.60 1185.5,316.69 1186.0,316.80 1187.0,317.27 1188.0,317.94 1189.0,318.74 1190.0,319.56 1191.0,320.33 1191.5,320.68 1192.0,320.98 1193.0,321.68 1194.0,322.39 1195.0,323.06 1196.0,323.61 1197.0,323.98 1197.5,324.08 1198.0,324.13 1199.0,324.24 1200.0,324.33 1201.0,324.42 1202.0,324.49 1203.0,324.55 1204.0,324.60 1205.0,324.64 1206.0,324.66 1207.0,324.68 1207.5,324.68 1208.0,324.65 1209.0,324.43 1210.0,324.06 1211.0,323.62 1212.0,323.18 1213.0,322.81 1213.5,322.68 1214.0,322.57 1215.0,322.34 1216.0,322.12 1217.0,321.92 1218.0,321.78 1219.0,321.69 1219.5,321.68 1220.0,321.69 1221.0,321.73 1222.0,321.81 1223.0,321.92 1224.0,322.06 1225.0,322.22 1226.0,322.40 1227.0,322.59 1227.5,322.68 1228.0,322.79 1229.0,323.06 1230.0,323.40 1231.0,323.83 1232.0,324.38 1232.4,324.68 1233.0,325.15 1234.0,326.61 1235.0,328.55 1236.0,330.69 1236.4,331.68 1237.0,332.83 1238.0,335.25 1239.0,337.85 1240.0,340.48 1240.4,341.65 1241.0,343.00 1242.0,345.47 1243.0,347.95 1244.0,350.47 1244.4,351.63 1245.0,353.01 1246.0,355.45 1247.0,358.19 1247.4,359.63 1248.0,361.62 1249.0,365.89 1250.0,371.03 1250.4,373.58 1251.0,377.30 1251.5,381.18 1252.0,385.49 1252.4,389.57 1253.0,395.46 1253.4,400.41 1253.8,405.57 1254.0,407.54 1254.3,411.66 1254.6,416.15 1255.0,420.95 1255.0,421.57 1255.3,426.93 1255.7,432.90 1256.0,439.37 1256.0,440.00 1256.2,445.08 1256.5,450.50 1256.7,455.89 1257.0,461.53 1257.2,466.46 1257.4,471.65 1257.6,477.11 1257.8,482.90 1258.0,489.05 1258.0,490.00 1258.1,494.73 1258.3,499.94 1258.4,505.59 1258.5,511.17 1258.7,517.51 1258.8,524.14 1259.0,531.00 1259.1,538.05 1259.3,545.77 1259.4,553.06 1259.5,560.39 1259.7,567.71 1259.8,575.48 1260.0,582.62 1260.1,588.62 1260.2,594.46 1260.3,600.13 1260.4,605.14 1260.6,610.37 1260.7,615.34 1260.8,620.00 1261.0,626.29 1261.1,632.41 1261.3,638.02 1261.5,643.84 1261.6,649.52 1261.8,654.75 1262.0,660.19 1262.1,665.53 1262.3,670.46 1262.5,675.62 1262.6,680.71 1262.8,685.43 1263.0,690.40 1263.2,696.20 1263.4,701.95 1263.6,707.68 1263.8,713.40 1264.0,719.14 1264.0,720.00 1264.2,725.43 1264.4,731.08 1264.6,736.38 1264.8,741.91 1265.0,747.10 1265.2,752.51 1265.4,757.87 1265.6,763.18 1265.8,768.44 1266.0,773.66 1266.2,778.84 1266.4,783.99 1266.6,789.10 1266.8,794.18 1267.0,799.24 1267.0,800.00 1267.2,804.83 1267.4,809.98 1267.6,814.90 1267.8,820.08 1268.0,824.97 1268.2,830.06 1268.4,835.06 1268.6,839.93 1268.8,844.64 1269.0,849.17 1269.2,854.92 1269.5,860.00 1269.7,864.69 1270.0,869.44 1270.3,876.19 1270.6,882.38 1271.0,886.88 1271.4,889.30 1272.0,885.88 1272.3,881.46 1272.6,875.73 1273.0,869.61 1273.2,864.58 1273.5,860.00 1273.7,855.86 1274.0,851.68 1274.2,846.91 1274.5,841.92 1274.7,836.72 1275.0,831.33 1275.2,825.76 1275.5,820.02 1275.7,814.14 1276.0,808.12 1276.1,803.96 1276.3,800.00 1276.5,794.50 1276.8,788.66 1277.0,782.97 1277.2,777.68 1277.4,772.25 1277.6,766.66 1277.8,760.89 1278.0,754.91 1278.1,749.65 1278.3,744.54 1278.5,738.92 1278.6,733.09 1278.8,727.40 1279.0,721.13 1279.0,720.00 1279.1,714.22 1279.3,707.59 1279.4,700.28 1279.5,693.06 1279.7,684.96 1279.8,676.72 1280.0,668.50 1280.1,661.61 1280.2,654.99 1280.3,648.74 1280.4,643.44 1280.6,638.22 1280.7,633.70 1280.8,630.00 1281.0,625.57 1281.2,619.67 1281.5,614.41 1281.7,609.68 1282.0,605.36 1282.3,600.13 1282.6,595.04 1283.0,590.13 1283.3,585.00 1283.6,579.60 1284.0,574.51 1284.3,569.56 1284.6,564.59 1285.0,559.87 1285.3,555.52 1285.6,551.24 1285.9,547.00 1286.0,546.05 1286.3,541.64 1286.6,537.18 1287.0,532.94 1287.3,528.77 1287.6,524.53 1288.0,520.46 1288.4,515.20 1288.7,511.77 1289.0,508.18 1289.3,504.10 1289.6,499.95 1290.0,496.04 1290.4,490.74 1290.9,486.00 1291.0,485.32 1291.5,480.65 1292.0,476.25 1292.5,472.12 1293.0,468.25 1293.5,464.40 1294.0,461.12 1294.5,457.74 1295.0,454.57 1296.0,449.33 1296.0,449.20 1297.0,445.35 1298.0,442.03 1299.0,439.47 1299.2,439.00 1300.0,437.55 1301.0,435.92 1302.0,434.83 1302.4,434.60 1303.0,434.42 1304.0,434.16 1305.0,434.02 1305.5,434.00 1306.0,434.15 1307.0,435.36 1308.0,437.48 1308.1,437.80 1309.0,442.36 1309.5,446.58 1310.0,451.40 1310.0,451.70 1310.3,455.38 1310.7,460.05 1311.0,465.16 1311.3,470.80 1311.5,474.93 1311.8,479.75 1312.0,484.63 1312.2,490.66 1312.5,496.20 1312.7,501.02 1313.0,505.53 1313.2,510.96 1313.5,516.17 1313.8,521.60 1314.0,524.86 1314.2,529.53 1314.5,534.19 1314.7,539.01 1315.0,544.15 1315.1,547.00 1315.3,552.27 1315.5,558.04 1315.8,563.80 1316.0,569.90 1316.1,574.52 1316.3,578.70 1316.5,584.31 1316.8,590.18 1317.0,595.72 1317.2,600.87 1317.4,605.81 1317.6,610.50 1317.8,613.82 1318.0,616.57 1318.2,619.64 1318.4,623.77 1318.6,630.00 1318.7,632.85 1318.7,638.70 1318.8,645.30 1318.8,653.17 1318.9,662.02 1318.9,673.57 1319.0,683.64 1319.0,693.82 1319.1,701.85 1319.1,711.54 1319.2,720.57 1319.2,728.66 1319.2,734.28 1319.3,740.00 1319.4,748.56 1319.5,755.67 1319.6,763.02 1319.6,768.93 1319.7,774.82 1319.8,779.32 1319.9,783.50 1320.0,786.28 1320.2,793.31 1320.4,799.23 1320.6,804.29 1320.8,808.77 1321.0,812.93 1321.2,817.26 1321.4,821.84 1321.6,827.00 1321.8,831.95 1322.0,837.50 1322.2,843.53 1322.4,849.56 1322.6,855.42 1322.8,860.91 1323.0,865.85 1323.2,870.60 1323.5,875.44 1323.7,880.10 1324.0,884.59 1324.4,890.07 1324.8,892.30 1325.0,892.21 1326.0,888.54 1326.5,885.33 1327.0,881.72 1327.0,881.50 1327.5,876.94 1328.0,870.46 1328.3,865.27 1328.6,859.37 1329.0,853.24 1329.2,848.80 1329.4,844.79 1329.6,840.25 1329.8,835.01 1330.0,829.70 1330.1,824.76 1330.3,820.02 1330.5,814.95 1330.6,810.22 1330.8,805.30 1331.0,800.40 1331.2,794.80 1331.3,789.42 1331.5,783.69 1331.7,778.28 1331.9,772.60 1332.0,770.59 1332.2,765.40 1332.4,760.51 1332.6,755.31 1332.8,749.13 1333.0,741.35 1333.0,740.00 1333.1,730.71 1333.3,716.78 1333.4,699.87 1333.5,682.97 1333.7,665.06 1333.8,649.10 1334.0,636.75 1334.1,630.00 1334.3,623.86 1334.5,618.90 1334.8,615.03 1335.0,611.66 1335.3,607.36 1335.6,603.10 1336.0,598.30 1336.0,597.80 1336.3,592.23 1336.7,586.27 1337.0,580.52 1337.3,575.18 1337.6,570.27 1337.9,566.00 1338.0,565.12 1338.5,558.95 1339.0,553.37 1339.4,549.65 1339.8,547.00 1340.0,546.22 1341.0,542.38 1341.7,541.30 1342.0,541.38 1343.0,542.87 1343.6,544.40 1344.0,545.86 1344.5,549.03 1345.0,552.94 1345.5,557.10 1346.0,560.65 1346.5,564.61 1347.0,568.75 1347.5,573.05 1348.0,577.52 1348.1,578.70 1348.5,582.77 1349.0,586.86 1349.5,591.81 1350.0,597.03 1350.3,600.43 1350.6,604.10 1351.0,608.62 1351.3,612.92 1351.6,617.57 1352.0,622.25 1352.2,626.17 1352.5,630.00 1352.7,633.66 1353.0,637.34 1353.3,642.88 1353.6,648.82 1354.0,654.75 1354.2,659.30 1354.5,663.86 1354.7,668.40 1355.0,672.90 1355.3,678.70 1355.6,684.45 1356.0,689.73 1356.3,695.21 1356.7,700.00 1357.0,703.24 1357.5,708.62 1358.0,713.42 1358.5,717.88 1359.0,722.25 1359.5,726.75 1360.0,731.65 1360.3,735.67 1360.7,740.00 1361.0,743.74 1361.3,748.95 1361.6,754.72 1362.0,760.36 1362.2,763.81 1362.4,767.20 1362.7,771.31 1363.0,775.49 1363.3,780.11 1363.6,784.61 1364.0,788.65 1364.0,789.00 1364.5,794.39 1365.0,799.56 1365.5,804.43 1366.0,808.84 1366.2,810.70 1366.6,813.91 1367.0,817.33 1368.0,823.10 1368.1,823.20 1369.0,820.84 1369.5,817.93 1370.0,814.46 1370.5,810.70 1371.0,806.75 1371.5,801.46 1372.0,795.89 1372.3,792.09 1372.7,789.00 1373.0,786.97 1373.5,783.26 1374.0,779.91 1374.9,775.90 1375.0,775.75 1376.0,774.14 1376.3,774.00 1377.0,775.02 1378.0,779.32 1378.7,783.50 1379.0,785.39 1379.5,790.17 1380.0,795.90 1380.3,799.80 1380.6,804.04 1381.0,808.55 1381.3,812.96 1381.6,817.36 1381.9,821.60 1382.0,822.52 1382.3,826.80 1382.6,831.12 1383.0,835.29 1383.3,839.24 1383.6,843.40 1384.0,847.78 1384.3,851.36 1384.6,855.47 1385.0,860.55 1385.2,865.10 1385.3,868.78 1385.5,873.83 1385.6,879.33 1385.7,885.80 1385.8,892.38 1386.0,898.64 1386.0,900.00 1386.1,904.98 1386.2,910.56 1386.3,915.73 1386.5,921.35 1386.6,926.39 1386.7,931.70 1386.8,936.30 1387.0,943.20 1387.1,950.00 1387.3,956.19 1387.5,962.36 1387.6,967.66 1387.8,972.60 1388.0,977.07 1388.2,983.38 1388.5,989.30 1388.7,994.75 1389.0,999.63 1389.3,1004.76 1389.6,1008.80 1390.0,1012.41 1390.5,1016.57 1391.0,1020.03 1392.0,1025.47 1392.3,1027.00 1393.0,1030.01 1394.0,1033.14 1394.1,1033.30 1395.0,1033.90 1396.0,1034.25 1397.0,1034.59 1397.8,1035.10 1398.0,1035.26 1399.0,1036.92 1400.0,1039.67 1400.5,1041.50 1401.0,1043.77 1401.5,1047.18 1402.0,1051.28 1402.3,1054.20 1402.6,1057.65 1403.0,1061.57 1403.4,1066.86 1403.8,1072.30 1404.0,1074.52 1404.3,1079.19 1404.6,1084.19 1405.0,1088.84 1405.3,1092.72 1405.6,1095.90 1406.0,1098.84 1406.5,1102.35 1407.0,1105.13 1407.4,1106.80 1408.0,1108.44 1408.7,1109.50 1409.0,1109.42 1410.0,1108.00 1410.5,1106.80 1411.0,1105.09 1411.5,1102.22 1412.0,1098.57 1412.3,1095.90 1412.6,1092.57 1413.0,1088.54 1413.3,1083.97 1413.6,1078.99 1414.0,1074.15 1414.1,1072.30 1414.4,1068.22 1414.7,1064.10 1415.0,1059.87 1415.3,1055.20 1415.6,1050.29 1415.9,1045.10 1416.0,1043.88 1416.2,1039.43 1416.5,1034.80 1416.7,1029.96 1417.0,1024.91 1417.2,1019.85 1417.5,1014.34 1417.7,1008.80 1418.0,1001.96 1418.2,996.42 1418.4,990.65 1418.6,984.79 1418.8,978.99 1419.0,973.41 1419.0,972.60 1419.2,967.52 1419.4,962.23 1419.6,957.25 1419.8,952.06 1420.0,947.18 1420.2,941.84 1420.4,936.30 1420.6,931.61 1420.8,927.02 1421.0,922.50 1421.2,917.06 1421.4,911.35 1421.7,905.76 1421.9,900.00 1422.0,898.15 1422.2,892.38 1422.4,886.18 1422.6,879.96 1422.8,874.14 1423.0,869.13 1423.2,864.90 1423.6,859.90 1424.0,855.51 1424.5,851.19 1425.0,848.59 1425.0,848.50 1426.0,846.00 1427.0,844.90 1427.0,844.90 1428.0,846.09 1428.8,848.50 1429.0,849.28 1429.5,853.50 1430.0,859.47 1430.4,864.90 1430.7,868.56 1431.0,872.77 1431.3,877.91 1431.6,883.38 1432.0,888.61 1432.2,892.10 1432.5,896.15 1432.7,900.29 1433.0,904.64 1433.3,909.89 1433.6,914.55 1434.0,917.87 1434.0,918.10 1434.5,921.40 1435.0,924.28 1436.0,928.59 1436.5,930.00 1437.0,930.96 1438.0,932.38 1438.3,932.50 1439.0,931.79 1440.0,928.60 1441.0,923.77 1441.3,922.00 1442.0,916.66 1442.5,911.19 1443.0,905.34 1443.0,905.00 1443.3,900.98 1443.7,896.36 1444.0,891.79 1444.2,888.14 1444.5,885.00 1445.0,880.07 1445.5,875.32 1446.0,870.91 1446.5,866.66 1447.0,862.40 1447.3,859.14 1447.7,855.80 1448.0,853.20 1448.5,848.28 1449.0,843.27 1449.5,838.19 1450.0,833.07 1450.5,827.94 1451.0,822.84 1451.3,819.50 1451.6,816.01 1452.0,812.53 1452.5,807.16 1453.0,801.79 1453.5,796.52 1454.0,791.50 1454.4,787.10 1454.9,783.20 1455.0,782.64 1455.5,778.54 1456.0,774.50 1456.5,770.78 1457.0,767.68 1457.6,765.10 1458.0,764.14 1459.0,762.06 1459.7,761.50 1460.0,761.58 1461.0,763.16 1462.0,766.11 1462.2,766.90 1463.0,771.67 1463.5,776.45 1464.0,781.95 1464.4,787.30 1464.9,792.30 1465.0,793.03 1465.5,798.69 1466.0,804.84 1466.3,808.95 1466.6,813.09 1467.0,816.89 1467.3,820.15 1467.6,823.10 1468.0,826.38 1468.5,830.95 1469.0,835.00 1469.9,838.70 1470.0,838.68 1471.0,835.51 1471.5,832.45 1472.0,828.89 1472.5,825.00 1473.0,821.10 1473.5,815.98 1474.0,810.10 1474.3,805.92 1474.6,801.46 1475.0,797.05 1475.2,793.44 1475.5,790.00 1475.7,786.75 1476.0,783.46 1476.3,778.51 1476.6,773.22 1477.0,767.98 1477.3,762.73 1477.6,757.41 1478.0,752.42 1478.2,748.53 1478.5,745.00 1478.7,741.81 1479.0,738.71 1479.3,734.24 1479.6,729.69 1480.0,725.42 1480.5,719.41 1481.0,714.24 1481.5,710.00 1482.0,706.90 1482.5,703.71 1483.0,700.85 1484.0,696.93 1484.5,696.30 1485.0,696.71 1486.0,699.80 1487.0,704.83 1487.0,705.00 1487.5,709.25 1488.0,716.06 1488.3,721.43 1488.6,727.19 1489.0,732.60 1489.2,736.64 1489.5,740.00 1490.0,745.87 1490.3,750.26 1490.6,754.75 1491.0,758.87 1491.5,764.18 1492.0,767.72 1492.4,768.80 1493.0,767.56 1493.5,764.84 1494.0,761.19 1494.5,757.16 1495.0,753.29 1495.5,750.00 1496.0,747.45 1497.0,741.83 1498.0,738.19 1498.3,737.90 1499.0,738.50 1500.0,741.13 1501.0,744.88 1501.0,745.00 1501.5,747.55 1502.0,751.23 1502.5,755.73 1503.0,760.59 1503.5,765.40 1504.0,769.76 1504.0,770.00 1504.5,773.93 1505.0,778.14 1505.5,782.48 1506.0,786.74 1506.5,790.75 1507.0,794.38 1508.0,799.88 1508.0,800.00 1509.0,803.78 1510.0,807.13 1511.0,809.18 1511.5,809.50 1512.0,808.96 1513.0,804.83 1513.5,801.71 1514.0,798.18 1514.5,794.18 1515.0,790.02 1515.3,786.24 1515.6,781.80 1516.0,777.10 1516.3,772.15 1516.6,766.91 1517.0,761.83 1517.2,757.91 1517.6,752.33 1518.0,746.54 1518.3,741.23 1518.6,735.59 1519.0,729.99 1519.3,724.25 1519.6,718.56 1520.0,712.58 1520.0,712.22 1520.2,707.42 1520.5,702.34 1520.7,697.09 1521.0,691.80 1521.2,686.21 1521.5,681.09 1521.8,676.20 1522.0,672.56 1522.2,667.63 1522.5,662.63 1522.7,657.93 1523.0,653.89 1523.6,649.07 1524.0,649.79 1524.5,652.38 1525.0,656.06 1525.5,660.00 1526.0,663.36 1526.3,664.86 1527.0,666.42 1527.2,667.22 1527.6,671.38 1528.0,679.22 1528.2,685.41 1528.5,691.76 1528.7,697.70 1529.0,702.65 1529.0,703.47 1529.3,708.60 1529.7,713.52 1530.0,718.28 1530.4,723.61 1530.8,727.04 1531.0,727.75 1532.0,731.85 1532.7,732.87 1533.0,732.71 1534.0,730.59 1535.0,726.90 1535.4,725.24 1536.0,722.12 1536.5,718.65 1537.0,714.51 1537.5,709.84 1538.0,704.75 1538.1,703.48 1538.4,699.95 1538.7,695.58 1539.0,690.93 1539.3,685.79 1539.6,680.82 1539.9,676.32 1540.0,675.41 1540.5,669.73 1541.0,664.53 1541.3,660.14 1541.7,654.46 1542.0,648.97 1542.1,644.09 1542.3,638.91 1542.5,632.99 1542.6,626.90 1542.8,621.21 1543.0,615.44 1543.2,609.61 1543.3,605.00 1543.5,601.40 1543.8,598.18 1544.0,595.13 1544.5,589.11 1545.0,584.87 1545.3,583.25 1546.0,581.97 1547.0,580.72 1547.5,580.52 1548.0,580.81 1549.0,583.04 1550.0,586.23 1551.0,588.87 1551.7,589.59 1552.0,589.44 1553.0,586.84 1554.0,582.29 1555.0,577.44 1556.0,573.99 1556.6,573.27 1557.0,573.48 1558.0,575.77 1559.0,579.83 1560.0,584.72 1561.0,589.51 1562.0,593.24 1563.0,595.00 1563.1,595.03 1564.0,593.95 1565.0,590.81 1566.0,587.15 1567.0,584.55 1567.5,584.15 1568.0,585.30 1568.5,588.36 1569.0,592.70 1569.4,596.99 1569.8,601.37 1570.0,602.88 1570.3,607.21 1570.6,612.48 1571.0,617.96 1571.3,623.39 1571.6,628.52 1572.0,633.37 1572.3,638.48 1572.6,643.55 1573.0,647.85 1573.5,652.17 1574.0,654.87 1575.0,659.10 1576.0,661.16 1576.2,661.23 1577.0,660.86 1578.0,659.91 1578.9,659.42 1579.0,659.43 1580.0,661.06 1580.7,663.56 1581.0,665.07 1581.3,668.25 1581.6,672.58 1582.0,677.33 1582.2,681.45 1582.5,685.38 1582.8,688.39 1583.0,691.56 1583.3,696.50 1583.6,701.75 1584.0,706.88 1584.3,712.53 1584.7,717.38 1585.0,722.13 1585.3,727.19 1585.6,732.31 1586.0,737.14 1586.2,739.82 1586.4,743.78 1586.7,747.96 1587.0,752.11 1587.5,758.94 1588.0,763.34 1589.0,767.77 1589.4,768.42 1590.0,767.27 1591.0,761.62 1591.6,757.88 1592.0,755.93 1593.0,750.24 1594.0,744.92 1594.3,743.38 1595.0,741.07 1596.0,738.19 1597.0,734.63 1597.0,734.31 1598.0,728.91 1598.4,725.55 1598.8,721.64 1599.0,720.41 1599.3,716.28 1599.6,711.17 1600.0,705.75 1600.3,699.89 1600.7,694.35 1601.0,690.46 1601.5,685.20 1602.0,678.63 1602.2,673.83 1602.5,667.19 1602.5,663.68 1602.6,657.83 1602.7,650.46 1602.8,642.38 1602.8,634.39 1602.9,627.31 1603.0,621.95 1603.0,619.63 1603.3,613.15 1603.5,607.89 1603.7,604.02 1604.0,601.23 1604.3,599.57 1605.0,598.87 1605.6,598.66 1606.0,600.05 1606.3,602.97 1606.6,607.28 1607.0,612.40 1607.2,616.00 1607.4,619.58 1607.5,623.12 1607.7,628.02 1607.8,633.53 1608.0,640.14 1608.1,645.75 1608.2,651.93 1608.3,657.56 1608.5,662.96 1608.6,667.95 1608.7,672.71 1608.8,676.34 1609.0,679.94 1609.2,685.76 1609.5,690.94 1609.7,695.68 1610.0,700.18 1610.2,704.09 1610.4,708.28 1610.6,712.52 1610.8,715.77 1611.0,719.29 1611.2,724.56 1611.5,729.85 1611.7,735.04 1612.0,740.04 1612.2,744.75 1612.5,748.90 1612.7,753.26 1613.0,757.47 1613.3,762.82 1613.6,767.77 1614.0,771.69 1614.3,774.23 1615.0,778.46 1615.7,780.57 1616.0,780.51 1617.0,779.39 1618.0,777.51 1618.8,776.04 1619.0,775.80 1620.0,774.65 1621.0,773.53 1622.0,771.78 1622.4,770.60 1623.0,766.88 1623.3,762.96 1623.6,758.12 1624.0,753.04 1624.2,748.75 1624.5,744.77 1624.7,740.19 1625.0,735.20 1625.2,729.76 1625.5,724.30 1625.7,719.02 1626.0,714.15 1626.1,712.53 1626.4,706.94 1626.7,701.07 1627.0,696.18 1627.3,692.59 1628.0,689.67 1628.8,688.07 1629.0,688.17 1630.0,691.29 1630.6,694.40 1631.0,697.07 1631.5,702.17 1632.0,707.93 1632.4,712.58 1633.0,718.17 1633.5,723.12 1634.0,727.29 1634.2,728.87 1635.0,732.88 1635.7,734.68 1636.0,734.48 1637.0,731.43 1637.8,727.05 1638.0,726.36 1638.5,722.30 1639.0,716.97 1639.3,712.89 1639.7,708.95 1640.0,705.28 1640.3,701.09 1640.6,696.57 1641.0,692.10 1641.2,688.73 1641.5,685.29 1642.0,679.30 1642.3,675.42 1642.6,671.25 1643.0,666.76 1643.3,661.76 1643.5,657.30 1643.7,652.06 1644.0,645.81 1644.1,640.81 1644.3,635.91 1644.5,630.58 1644.6,625.22 1644.8,620.23 1645.0,615.07 1645.2,607.95 1645.5,601.66 1645.7,596.50 1646.0,592.76 1646.0,592.32 1646.5,587.60 1647.0,583.58 1647.5,580.08 1648.0,577.26 1648.7,574.18 1649.0,573.46 1650.0,571.18 1651.0,569.53 1652.0,567.78 1652.4,566.91 1653.0,565.47 1654.0,563.00 1655.0,560.03 1656.0,556.11 1656.0,556.02 1656.5,553.04 1657.0,548.93 1657.5,544.08 1658.0,539.06 1658.3,535.54 1658.7,532.43 1659.0,530.28 1659.5,525.81 1660.0,521.91 1660.5,519.76 1661.0,519.38 1662.0,518.89 1662.3,518.85 1663.0,522.44 1663.3,526.32 1663.6,530.99 1664.0,535.59 1664.2,537.92 1664.6,543.42 1665.0,549.57 1665.3,554.76 1665.6,559.99 1666.0,565.07 1666.0,565.22 1666.3,569.78 1666.6,574.05 1667.0,578.31 1667.2,582.23 1667.5,586.84 1667.8,592.40 1668.0,597.97 1668.1,603.43 1668.3,610.30 1668.4,617.43 1668.5,625.04 1668.7,632.93 1668.8,641.44 1669.0,649.21 1669.1,655.59 1669.2,662.04 1669.3,667.42 1669.5,672.47 1669.6,676.28 1669.8,681.29 1670.0,685.76 1670.2,691.01 1670.5,695.73 1670.7,700.15 1671.0,704.50 1671.2,708.27 1671.4,712.48 1671.7,718.08 1672.0,723.88 1672.2,728.88 1672.5,733.88 1672.7,738.88 1673.0,743.88 1673.2,748.88 1673.5,754.01 1673.7,759.30 1674.0,764.65 1674.2,769.93 1674.5,775.01 1674.7,779.78 1675.0,784.12 1675.0,785.08 1675.3,789.90 1675.7,794.67 1676.0,798.99 1676.4,804.40 1676.8,808.72 1677.0,809.74 1677.5,814.02 1678.0,817.66 1678.7,819.93 1679.0,819.62 1680.0,815.47 1680.5,812.33 1681.0,807.27 1681.3,802.41 1681.6,796.63 1682.0,790.70 1682.3,785.04 1682.5,780.94 1682.7,776.76 1683.0,772.19 1683.2,767.06 1683.5,761.84 1683.7,756.61 1684.0,751.46 1684.1,748.83 1684.4,742.97 1684.7,737.03 1685.0,731.08 1685.2,726.41 1685.4,721.61 1685.7,716.95 1685.9,712.63 1686.0,711.50 1686.2,706.38 1686.5,701.07 1686.7,696.23 1687.0,692.53 1687.2,690.80 1688.0,688.01 1688.6,687.16 1689.0,687.54 1690.0,691.78 1690.5,694.42 1691.0,698.00 1691.5,702.35 1692.0,706.72 1692.3,708.91 1693.0,714.00 1694.0,719.51 1694.1,719.82 1695.0,721.69 1695.9,722.53 1696.0,722.51 1697.0,719.80 1697.7,716.20 1698.0,714.48 1698.5,709.92 1699.0,704.31 1699.2,701.17 1699.5,698.01 1700.0,692.89 1700.3,688.93 1700.6,684.75 1701.0,680.67 1701.3,676.29 1701.7,672.75 1702.0,669.54 1702.3,666.19 1702.6,662.25 1703.0,657.52 1703.2,654.42 1703.3,651.23 1703.4,647.33 1703.6,642.30 1703.7,636.58 1703.8,630.80 1704.0,624.24 1704.1,617.51 1704.2,610.78 1704.4,604.24 1704.5,597.64 1704.7,592.04 1704.8,587.18 1705.0,583.21 1705.0,582.97 1705.2,576.97 1705.5,571.35 1705.7,566.16 1706.0,561.47 1706.4,555.18 1706.8,550.62 1707.0,548.85 1707.5,544.81 1708.0,541.68 1708.6,539.71 1709.0,539.33 1710.0,538.81 1710.0,538.80 1711.0,542.47 1711.5,546.59 1712.0,551.38 1712.5,556.20 1713.0,560.42 1713.1,561.47 1713.5,564.50 1714.0,567.90 1714.5,571.80 1715.0,575.10 1715.8,577.80 1716.0,577.77 1717.0,575.63 1718.0,571.44 1718.6,568.74 1719.0,566.70 1719.5,563.70 1720.0,560.29 1720.5,556.63 1721.0,552.90 1721.3,550.62 1722.0,545.26 1722.5,541.12 1723.0,536.93 1723.5,532.86 1724.0,529.07 1724.0,528.85 1724.5,525.18 1725.0,521.40 1725.8,517.03 1726.0,516.70 1727.0,515.25 1727.1,515.22 1727.5,517.24 1728.0,522.39 1728.3,527.21 1728.6,532.52 1728.9,537.88 1729.0,539.11 1729.2,543.17 1729.4,547.88 1729.6,553.04 1729.8,558.49 1730.0,564.02 1730.2,569.19 1730.3,574.12 1730.6,579.36 1730.8,584.33 1731.0,589.53 1731.2,594.49 1731.4,599.46 1731.6,604.45 1731.8,609.47 1732.0,614.52 1732.2,619.62 1732.4,624.93 1732.6,630.49 1732.8,636.19 1733.0,641.92 1733.2,647.57 1733.4,653.02 1733.6,658.15 1733.8,662.86 1734.0,667.02 1734.0,667.21 1734.3,673.15 1734.6,678.46 1735.0,683.31 1735.4,688.92 1735.8,694.37 1736.0,696.77 1736.3,701.17 1736.6,705.56 1737.0,709.57 1737.3,713.12 1737.6,716.20 1738.0,719.49 1738.5,723.92 1739.0,727.37 1739.4,728.87 1740.0,729.40 1740.9,729.78 1741.0,729.71 1741.5,727.37 1742.0,723.16 1742.1,721.64 1742.6,717.04 1743.0,711.15 1743.3,705.76 1743.6,700.06 1744.0,694.34 1744.0,694.17 1744.3,688.81 1744.6,683.44 1745.0,677.73 1745.2,673.77 1745.4,669.27 1745.6,664.10 1745.8,658.12 1746.0,648.58 1746.1,642.05 1746.2,634.85 1746.3,627.34 1746.4,619.16 1746.5,612.22 1746.6,606.11 1746.7,601.22 1747.0,590.05 1747.2,583.37 1747.4,577.34 1747.6,571.76 1747.8,566.46 1748.0,561.27 1748.1,556.80 1748.3,551.89 1748.5,546.97 1748.7,541.97 1748.8,536.67 1749.0,531.17 1749.1,525.22 1749.3,519.66 1749.5,513.92 1749.6,508.46 1749.8,503.72 1750.0,499.23 1750.1,495.43 1750.3,492.61 1750.6,487.68 1751.0,483.36 1751.5,478.08 1752.0,474.87 1752.1,474.41 1753.0,472.88 1753.5,472.55 1754.0,472.78 1755.0,474.37 1756.0,476.48 1757.0,477.91 1757.1,477.99 1758.0,478.22 1759.0,478.36 1760.0,478.46 1761.0,478.65 1761.7,478.90 1762.0,479.48 1762.5,482.09 1763.0,486.05 1763.5,490.66 1764.0,496.45 1764.3,501.48 1764.6,507.15 1765.0,512.71 1765.3,517.95 1765.6,523.05 1766.0,528.00 1766.3,532.95 1766.6,538.05 1767.0,543.00 1767.1,545.10 1767.4,549.36 1767.7,553.38 1768.0,557.54 1768.3,562.22 1768.6,566.98 1768.9,572.24 1769.0,573.10 1769.2,577.54 1769.5,582.20 1769.7,587.06 1770.0,592.10 1770.2,597.52 1770.5,602.90 1770.7,608.63 1771.0,614.16 1771.2,619.44 1771.4,624.92 1771.6,630.39 1771.8,635.62 1772.0,640.40 1772.2,644.88 1772.5,649.66 1772.7,654.32 1773.0,658.41 1773.5,663.01 1774.0,664.65 1774.7,665.72 1775.0,665.53 1776.0,661.58 1776.5,658.35 1777.0,654.77 1777.1,653.90 1777.5,650.10 1778.0,645.18 1778.3,640.90 1778.6,636.07 1779.0,631.07 1779.2,626.65 1779.5,622.15 1779.8,617.61 1780.0,614.94 1780.2,610.49 1780.5,605.75 1780.7,600.76 1781.0,595.56 1781.2,590.85 1781.4,586.26 1781.6,581.40 1781.8,577.23 1782.0,573.02 1782.2,567.84 1782.4,562.50 1782.6,557.12 1782.8,551.81 1783.0,546.67 1783.2,541.13 1783.4,536.13 1783.7,530.66 1784.0,525.28 1784.3,519.03 1784.6,513.20 1785.0,508.40 1785.2,505.18 1785.6,501.82 1786.0,498.86 1787.0,492.89 1787.1,492.51 1788.0,489.61 1789.0,487.31 1789.8,485.26 1790.0,484.68 1791.0,481.32 1792.0,477.86 1792.5,476.19 1793.0,474.82 1794.0,472.04 1795.0,469.52 1795.2,468.93 1796.0,467.36 1797.0,465.52 1798.0,463.65 1798.8,461.67 1799.0,461.36 1800.0,458.30 1801.0,454.75 1801.6,452.61 1802.0,451.07 1803.0,446.65 1804.0,443.18 1804.3,442.63 1805.0,441.93 1806.0,441.36 1806.1,441.35 1807.0,442.92 1807.9,447.15 1808.0,447.44 1808.3,450.41 1808.6,455.01 1809.0,460.34 1809.2,464.56 1809.5,468.81 1809.7,472.49 1810.0,475.70 1810.3,480.03 1810.6,484.43 1811.0,488.67 1811.3,492.40 1811.5,496.15 1812.0,501.61 1812.3,505.90 1812.6,510.32 1813.0,514.61 1813.4,519.68 1813.7,523.63 1814.0,527.76 1814.3,532.16 1814.6,536.61 1815.0,540.79 1815.2,543.34 1815.6,548.13 1816.0,552.73 1816.5,558.27 1817.0,563.07 1817.0,563.24 1817.5,567.52 1818.0,571.53 1818.8,575.93 1819.0,576.34 1820.0,578.23 1820.6,578.66 1821.0,578.53 1822.0,576.96 1823.0,574.14 1823.0,574.11 1823.5,571.48 1824.0,567.32 1824.5,562.04 1825.0,556.27 1825.2,554.19 1825.6,548.92 1826.0,542.77 1826.3,537.50 1826.6,532.02 1827.0,526.90 1827.3,521.95 1827.6,516.85 1828.0,511.90 1828.2,507.85 1828.5,503.80 1828.8,499.75 1829.0,496.83 1829.3,491.55 1829.6,486.05 1830.0,480.89 1830.3,476.45 1830.6,472.59 1831.0,468.23 1831.5,462.73 1832.0,458.36 1832.4,456.22 1833.0,454.92 1834.0,453.57 1834.2,453.51 1835.0,453.84 1836.0,454.79 1836.9,455.32 1837.0,455.32 1838.0,455.16 1839.0,454.77 1839.7,454.42 1840.0,454.16 1841.0,452.49 1842.0,450.50 1842.4,449.88 1843.0,449.10 1844.0,447.84 1845.0,447.17 1845.1,447.16 1846.0,447.38 1847.0,448.09 1847.8,448.97 1848.0,449.18 1849.0,452.01 1849.6,454.42 1850.0,455.75 1851.0,460.38 1851.5,461.67 1852.0,462.31 1853.0,463.21 1853.8,463.48 1854.0,463.39 1855.0,460.29 1855.6,458.05 1856.0,457.15 1857.0,454.80 1857.4,454.41 1858.0,455.05 1859.0,458.60 1859.2,459.85 1860.0,464.86 1860.5,469.79 1861.0,475.16 1861.1,476.23 1861.5,481.41 1862.0,487.20 1862.3,491.27 1862.6,495.58 1862.9,499.77 1863.0,501.04 1863.3,505.89 1863.6,511.10 1864.0,516.22 1864.3,521.71 1864.7,526.93 1865.0,530.77 1865.3,535.18 1865.6,539.60 1866.0,543.81 1866.2,547.21 1866.5,550.59 1867.0,556.19 1867.5,562.09 1868.0,568.02 1868.3,572.31 1868.6,576.43 1869.0,580.87 1869.3,585.35 1869.6,589.86 1870.0,593.98 1870.1,595.84 1870.5,600.77 1871.0,605.68 1871.5,610.68 1872.0,614.04 1872.0,614.13 1873.0,618.16 1873.8,619.47 1874.0,619.38 1875.0,616.83 1875.6,614.00 1876.0,609.63 1876.3,604.62 1876.6,599.45 1876.8,595.85 1877.0,594.80 1877.5,590.58 1878.0,587.12 1878.7,585.01 1879.0,585.06 1880.0,585.98 1880.5,586.82 1881.0,590.18 1881.4,594.84 1881.7,599.49 1882.0,602.17 1882.3,606.37 1882.6,610.84 1883.0,615.04 1883.2,617.62 1883.6,621.87 1884.0,625.93 1884.5,630.85 1885.0,635.46 1885.0,635.82 1885.5,640.23 1886.0,644.56 1886.8,650.30 1887.0,650.95 1888.0,654.56 1888.6,655.74 1889.0,655.95 1890.0,656.27 1890.8,656.65 1891.0,656.82 1892.0,659.44 1892.6,661.20 1893.0,661.88 1894.0,663.86 1895.0,664.81 1895.0,664.81 1896.0,663.56 1896.8,661.18 1897.0,660.40 1897.5,656.25 1898.0,650.78 1898.6,644.87 1899.0,642.45 1900.0,636.67 1900.4,635.79 1901.0,635.79 1902.0,635.79 1902.2,635.79 1903.0,640.83 1903.5,646.70 1904.0,651.94 1904.5,657.85 1905.0,661.19 1905.0,661.21 1906.0,662.62 1906.8,663.00 1907.0,662.90 1908.0,660.19 1908.6,657.54 1909.0,655.29 1909.5,651.08 1910.0,646.49 1910.4,643.05 1911.0,638.89 1911.5,635.39 1912.0,632.84 1912.2,632.17 1913.0,631.02 1914.0,630.03 1914.9,629.45 1915.0,629.43 1916.0,629.11 1917.0,628.87 1917.7,628.54 1918.0,627.95 1919.0,622.68 1919.8,617.66 1920.0,617.02 1921.0,612.25 1921.7,610.40 1922.0,610.10 1923.0,609.56 1924.0,609.20 1924.9,608.59 1925.0,608.53 1926.0,606.70 1927.0,603.58 1927.1,603.13 1928.0,597.42 1928.4,593.61 1928.9,590.45 1929.0,590.06 1930.0,584.87 1931.0,580.60 1931.3,579.56 1932.0,577.21 1933.0,574.33 1934.0,572.32 1934.0,572.31 1935.0,570.99 1935.8,570.50 1936.0,570.50 1937.0,570.50 1938.0,570.50 1939.0,570.50 1940.0,570.50 1941.0,570.50 1941.2,570.50 1942.0,570.50 1943.0,570.50 1944.0,570.50 1945.0,570.50 1946.0,570.50 1947.0,570.50 1947.8,570.50"/></defs>
<g fill="none" stroke="#000000" stroke-width="2.0" stroke-linejoin="round" stroke-linecap="butt" shape-rendering="crispEdges"><use href="#c-black" transform="translate(-1.25 -1.25)"/><use href="#c-black" transform="translate(-1.25 0)"/><use href="#c-black" transform="translate(-1.25 1.25)"/><use href="#c-black" transform="translate(0 -1.25)"/><use href="#c-black" transform="translate(0 0)"/><use href="#c-black" transform="translate(0 1.25)"/><use href="#c-black" transform="translate(1.25 -1.25)"/><use href="#c-black" transform="translate(1.25 0)"/><use href="#c-black" transform="translate(1.25 1.25)"/></g>
<g fill="none" stroke="#0000ff" stroke-width="2.0" stroke-linejoin="round" stroke-linecap="butt" shape-rendering="crispEdges"><use href="#c-blue" transform="translate(-1.25 -1.25)"/><use href="#c-blue" transform="translate(-1.25 0)"/><use href="#c-blue" transform="translate(-1.25 1.25)"/><use href="#c-blue" transform="translate(0 -1.25)"/><use href="#c-blue" transform="translate(0 0)"/><use href="#c-blue" transform="translate(0 1.25)"/><use href="#c-blue" transform="translate(1.25 -1.25)"/><use href="#c-blue" transform="translate(1.25 0)"/><use href="#c-blue" transform="translate(1.25 1.25)"/></g>
<g fill="none" stroke="#008000" stroke-width="2.0" stroke-linejoin="round" stroke-linecap="butt" shape-rendering="crispEdges"><use href="#c-green" transform="translate(-1.25 -1.25)"/><use href="#c-green" transform="translate(-1.25 0)"/><use href="#c-green" transform="translate(-1.25 1.25)"/><use href="#c-green" transform="translate(0 -1.25)"/><use href="#c-green" transform="translate(0 0)"/><use href="#c-green" transform="translate(0 1.25)"/><use href="#c-green" transform="translate(1.25 -1.25)"/><use href="#c-green" transform="translate(1.25 0)"/><use href="#c-green" transform="translate(1.25 1.25)"/></g>
<g fill="none" stroke="#920082" stroke-width="2.0" stroke-linejoin="round" stroke-linecap="butt" shape-rendering="crispEdges"><use href="#c-purple" transform="translate(-1.25 -1.25)"/><use href="#c-purple" transform="translate(-1.25 0)"/><use href="#c-purple" transform="translate(-1.25 1.25)"/><use href="#c-purple" transform="translate(0 -1.25)"/><use href="#c-purple" transform="translate(0 0)"/><use href="#c-purple" transform="translate(0 1.25)"/><use href="#c-purple" transform="translate(1.25 -1.25)"/><use href="#c-purple" transform="translate(1.25 0)"/><use href="#c-purple" transform="translate(1.25 1.25)"/></g>
<g fill="none" stroke="#ff0000" stroke-width="2.0" stroke-linejoin="round" stroke-linecap="butt" shape-rendering="crispEdges"><use href="#c-red" transform="translate(-1.25 -1.25)"/><use href="#c-red" transform="translate(-1.25 0)"/><use href="#c-red" transform="translate(-1.25 1.25)"/><use href="#c-red" transform="translate(0 -1.25)"/><use href="#c-red" transform="translate(0 0)"/><use href="#c-red" transform="translate(0 1.25)"/><use href="#c-red" transform="translate(1.25 -1.25)"/><use href="#c-red" transform="translate(1.25 0)"/><use href="#c-red" transform="translate(1.25 1.25)"/></g>
</g>
<g id="legend">
<rect x="96.5" y="825.5" width="530" height="486" fill="#fff" stroke="#000" stroke-width="3"/>
<rect x="104.5" y="876" width="177" height="5" rx="1" fill="#000000"/><text transform="translate(297.8 904.7) scale(0.984 1)" font-size="77.8" fill="#000000">Free F1</text><rect x="104.5" y="971" width="177" height="5" rx="1" fill="#0000ff"/><text transform="translate(297.8 999.8) scale(0.984 1)" font-size="77.8" fill="#0000ff">Mg(II)-F1</text><rect x="104.5" y="1066" width="177" height="5" rx="1" fill="#008000"/><text transform="translate(298.5 1094.7) scale(0.984 1)" font-size="77.8" fill="#008000">Ca(II)-F1</text><rect x="104.5" y="1161" width="177" height="5" rx="1" fill="#920082"/><text transform="translate(296.5 1189.8) scale(0.984 1)" font-size="77.8" fill="#920082">Zn(II)-F1</text><rect x="104.5" y="1256" width="177" height="5" rx="1" fill="#ff0000"/><text transform="translate(298 1284.7) scale(0.984 1)" font-size="77.8" fill="#ff0000">Fe(III)-F1</text>
</g>
<g id="axis" fill="#000">
<rect x="94" y="1351" width="1860" height="12"/>
<rect x="94.0" y="1351" width="12" height="36" fill="#000"/><rect x="350.7" y="1351" width="12" height="36" fill="#000"/><rect x="607.4" y="1351" width="12" height="36" fill="#000"/><rect x="864.1" y="1351" width="12" height="36" fill="#000"/><rect x="1120.8" y="1351" width="12" height="36" fill="#000"/><rect x="1377.5" y="1351" width="12" height="36" fill="#000"/><rect x="1634.3" y="1351" width="12" height="36" fill="#000"/><rect x="1891.0" y="1351" width="12" height="36" fill="#000"/>
<text transform="translate(99.7 1461.2) scale(0.95 1)" text-anchor="middle" font-size="73.8">4000</text><text transform="translate(356.4 1461.2) scale(0.95 1)" text-anchor="middle" font-size="73.8">3500</text><text transform="translate(613.1 1461.2) scale(0.95 1)" text-anchor="middle" font-size="73.8">3000</text><text transform="translate(869.8 1461.2) scale(0.95 1)" text-anchor="middle" font-size="73.8">2500</text><text transform="translate(1126.5 1461.2) scale(0.95 1)" text-anchor="middle" font-size="73.8">2000</text><text transform="translate(1383.2 1461.2) scale(0.95 1)" text-anchor="middle" font-size="73.8">1500</text><text transform="translate(1640.0 1461.2) scale(0.95 1)" text-anchor="middle" font-size="73.8">1000</text><text transform="translate(1896.7 1461.2) scale(0.95 1)" text-anchor="middle" font-size="73.8">500</text>
<text transform="translate(707.5 1599.9) scale(0.992 1)" font-size="77.8">Wavenumber (cm</text>
<text transform="translate(1258.3 1571.9) scale(1.19 1)" font-size="52">−</text>
<text transform="translate(1290.5 1567.9) scale(0.9 1)" font-size="52">1</text>
<text transform="translate(1317 1599.9) scale(1.05 1)" font-size="77.8">)</text>
</g>

</svg>
</body>
</html>
